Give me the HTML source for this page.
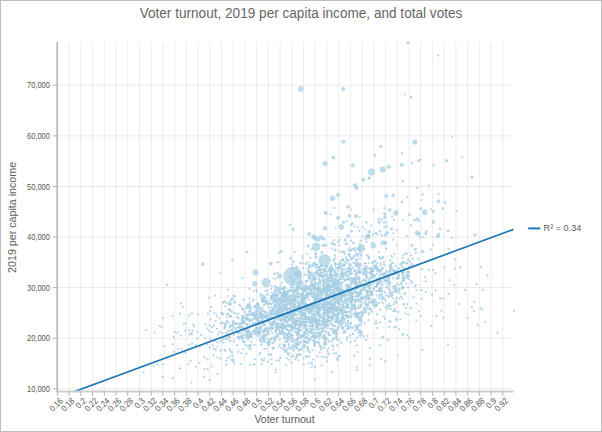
<!DOCTYPE html>
<html><head><meta charset="utf-8"><title>Voter turnout chart</title>
<style>
html,body{margin:0;padding:0;background:#fff;}
.frame{position:relative;width:602px;height:432px;box-sizing:border-box;border:1px solid #bdbdbd;overflow:hidden;background:#fff;}
.frame svg{position:absolute;left:-1px;top:-1px;display:block;}
</style></head><body><div class="frame">
<svg width="602" height="432" viewBox="0 0 602 432">
<path d="M57.4 42.0V391.5M69.1 42.0V391.5M80.8 42.0V391.5M92.6 42.0V391.5M104.3 42.0V391.5M116.0 42.0V391.5M127.7 42.0V391.5M139.4 42.0V391.5M151.2 42.0V391.5M162.9 42.0V391.5M174.6 42.0V391.5M186.3 42.0V391.5M198.0 42.0V391.5M209.8 42.0V391.5M221.5 42.0V391.5M233.2 42.0V391.5M244.9 42.0V391.5M256.6 42.0V391.5M268.4 42.0V391.5M280.1 42.0V391.5M291.8 42.0V391.5M303.5 42.0V391.5M315.2 42.0V391.5M327.0 42.0V391.5M338.7 42.0V391.5M350.4 42.0V391.5M362.1 42.0V391.5M373.8 42.0V391.5M385.6 42.0V391.5M397.3 42.0V391.5M409.0 42.0V391.5M420.7 42.0V391.5M432.4 42.0V391.5M444.2 42.0V391.5M455.9 42.0V391.5M467.6 42.0V391.5M479.3 42.0V391.5M491.0 42.0V391.5M502.8 42.0V391.5" stroke="#000" stroke-opacity="0.075" stroke-width="1" fill="none"/>
<path d="M57.2 388.8H513.7M57.2 338.2H513.7M57.2 287.6H513.7M57.2 237.1H513.7M57.2 186.5H513.7M57.2 135.9H513.7M57.2 85.3H513.7" stroke="#000" stroke-opacity="0.075" stroke-width="1" fill="none"/>
<g fill="#a6cee3" fill-opacity="0.85">
<circle cx="237.0" cy="345.2" r="1.1"/>
<circle cx="234.4" cy="363.0" r="1.1"/>
<circle cx="224.5" cy="350.0" r="1.1"/>
<circle cx="242.5" cy="349.1" r="1.1"/>
<circle cx="226.2" cy="361.0" r="1.1"/>
<circle cx="232.3" cy="355.7" r="1.1"/>
<circle cx="241.3" cy="353.1" r="1.1"/>
<circle cx="223.6" cy="342.6" r="1.1"/>
<circle cx="242.5" cy="338.9" r="1.1"/>
<circle cx="223.7" cy="338.7" r="1.1"/>
<circle cx="233.0" cy="359.8" r="1.1"/>
<circle cx="229.5" cy="349.2" r="1.1"/>
<circle cx="222.4" cy="339.9" r="1.1"/>
<circle cx="243.2" cy="342.0" r="1.1"/>
<circle cx="239.3" cy="339.1" r="1.1"/>
<circle cx="244.9" cy="341.9" r="1.1"/>
<circle cx="225.2" cy="350.8" r="1.1"/>
<circle cx="226.9" cy="339.2" r="1.1"/>
<circle cx="229.7" cy="341.5" r="1.1"/>
<circle cx="242.9" cy="341.1" r="1.1"/>
<circle cx="224.9" cy="350.0" r="1.1"/>
<circle cx="227.7" cy="358.2" r="1.1"/>
<circle cx="230.6" cy="350.8" r="1.1"/>
<circle cx="229.9" cy="356.8" r="1.1"/>
<circle cx="232.0" cy="352.5" r="1.1"/>
<circle cx="230.2" cy="340.5" r="1.1"/>
<circle cx="231.5" cy="359.8" r="1.1"/>
<circle cx="225.5" cy="338.5" r="1.1"/>
<circle cx="234.0" cy="341.3" r="1.1"/>
<circle cx="238.2" cy="351.9" r="1.1"/>
<circle cx="241.8" cy="332.3" r="1.1"/>
<circle cx="238.8" cy="337.5" r="1.1"/>
<circle cx="230.0" cy="325.8" r="1.1"/>
<circle cx="235.8" cy="313.7" r="1.1"/>
<circle cx="243.3" cy="323.2" r="1.1"/>
<circle cx="225.1" cy="327.5" r="1.1"/>
<circle cx="240.4" cy="336.1" r="1.1"/>
<circle cx="235.4" cy="330.0" r="1.1"/>
<circle cx="228.3" cy="331.2" r="1.1"/>
<circle cx="232.9" cy="321.3" r="1.1"/>
<circle cx="230.8" cy="316.1" r="1.1"/>
<circle cx="232.7" cy="326.2" r="1.1"/>
<circle cx="222.5" cy="333.1" r="1.1"/>
<circle cx="232.4" cy="331.1" r="1.1"/>
<circle cx="236.9" cy="317.0" r="1.1"/>
<circle cx="233.9" cy="334.8" r="1.1"/>
<circle cx="226.8" cy="314.6" r="1.1"/>
<circle cx="221.5" cy="322.7" r="1.1"/>
<circle cx="239.0" cy="337.1" r="1.1"/>
<circle cx="243.0" cy="316.2" r="1.1"/>
<circle cx="231.1" cy="330.3" r="1.1"/>
<circle cx="237.5" cy="323.2" r="1.1"/>
<circle cx="227.9" cy="313.7" r="1.1"/>
<circle cx="228.7" cy="322.5" r="1.1"/>
<circle cx="242.2" cy="320.4" r="1.1"/>
<circle cx="240.0" cy="328.5" r="1.1"/>
<circle cx="237.8" cy="327.5" r="1.1"/>
<circle cx="229.5" cy="327.5" r="1.1"/>
<circle cx="243.4" cy="334.4" r="1.1"/>
<circle cx="243.2" cy="322.9" r="1.1"/>
<circle cx="242.1" cy="316.8" r="1.1"/>
<circle cx="244.0" cy="317.6" r="1.1"/>
<circle cx="236.5" cy="328.3" r="1.1"/>
<circle cx="232.3" cy="324.9" r="1.1"/>
<circle cx="243.8" cy="320.9" r="1.1"/>
<circle cx="239.6" cy="327.3" r="1.1"/>
<circle cx="232.0" cy="329.0" r="1.1"/>
<circle cx="242.5" cy="337.3" r="1.1"/>
<circle cx="226.8" cy="322.1" r="1.1"/>
<circle cx="236.2" cy="324.4" r="1.1"/>
<circle cx="230.5" cy="326.5" r="1.1"/>
<circle cx="226.7" cy="320.7" r="1.1"/>
<circle cx="226.6" cy="336.2" r="1.1"/>
<circle cx="237.4" cy="333.1" r="1.1"/>
<circle cx="229.3" cy="337.7" r="1.1"/>
<circle cx="233.9" cy="327.9" r="1.1"/>
<circle cx="237.2" cy="337.6" r="1.1"/>
<circle cx="242.0" cy="321.0" r="1.1"/>
<circle cx="243.9" cy="330.3" r="1.1"/>
<circle cx="232.0" cy="325.1" r="1.1"/>
<circle cx="227.9" cy="335.2" r="1.1"/>
<circle cx="229.7" cy="336.6" r="1.1"/>
<circle cx="243.2" cy="321.7" r="1.1"/>
<circle cx="242.3" cy="318.9" r="1.1"/>
<circle cx="242.9" cy="337.9" r="1.1"/>
<circle cx="241.4" cy="322.9" r="1.1"/>
<circle cx="222.3" cy="313.4" r="1.1"/>
<circle cx="243.5" cy="329.0" r="1.1"/>
<circle cx="226.2" cy="332.9" r="1.1"/>
<circle cx="234.6" cy="324.1" r="1.1"/>
<circle cx="243.7" cy="315.8" r="1.1"/>
<circle cx="226.7" cy="317.0" r="1.1"/>
<circle cx="230.0" cy="317.2" r="1.1"/>
<circle cx="238.3" cy="318.1" r="1.1"/>
<circle cx="224.6" cy="328.2" r="1.1"/>
<circle cx="238.3" cy="332.0" r="1.1"/>
<circle cx="239.7" cy="336.5" r="1.1"/>
<circle cx="224.5" cy="326.5" r="1.1"/>
<circle cx="234.2" cy="321.7" r="1.1"/>
<circle cx="232.8" cy="323.2" r="1.1"/>
<circle cx="242.0" cy="318.4" r="1.1"/>
<circle cx="228.7" cy="337.1" r="1.1"/>
<circle cx="229.2" cy="315.7" r="1.1"/>
<circle cx="227.8" cy="334.4" r="1.1"/>
<circle cx="225.2" cy="324.3" r="1.1"/>
<circle cx="241.4" cy="327.6" r="1.1"/>
<circle cx="239.4" cy="333.2" r="1.1"/>
<circle cx="242.2" cy="319.2" r="1.1"/>
<circle cx="226.6" cy="322.4" r="1.1"/>
<circle cx="238.5" cy="313.7" r="1.1"/>
<circle cx="239.0" cy="327.2" r="1.1"/>
<circle cx="230.7" cy="315.9" r="1.1"/>
<circle cx="223.7" cy="322.8" r="1.1"/>
<circle cx="223.3" cy="314.6" r="1.1"/>
<circle cx="229.4" cy="303.9" r="1.1"/>
<circle cx="222.9" cy="302.7" r="1.1"/>
<circle cx="226.9" cy="303.1" r="1.1"/>
<circle cx="233.8" cy="312.4" r="1.1"/>
<circle cx="243.6" cy="299.7" r="1.1"/>
<circle cx="239.2" cy="304.8" r="1.1"/>
<circle cx="244.9" cy="312.1" r="1.1"/>
<circle cx="227.8" cy="296.0" r="1.1"/>
<circle cx="225.5" cy="306.6" r="1.1"/>
<circle cx="231.1" cy="304.1" r="1.1"/>
<circle cx="229.5" cy="304.9" r="1.1"/>
<circle cx="231.1" cy="300.5" r="1.1"/>
<circle cx="242.2" cy="308.2" r="1.1"/>
<circle cx="229.5" cy="302.1" r="1.1"/>
<circle cx="231.2" cy="311.5" r="1.1"/>
<circle cx="240.3" cy="305.9" r="1.1"/>
<circle cx="228.2" cy="289.7" r="1.1"/>
<circle cx="233.8" cy="296.0" r="1.1"/>
<circle cx="230.2" cy="309.7" r="1.1"/>
<circle cx="260.8" cy="340.6" r="1.1"/>
<circle cx="262.3" cy="359.6" r="1.1"/>
<circle cx="255.1" cy="359.3" r="1.1"/>
<circle cx="268.2" cy="342.8" r="1.1"/>
<circle cx="254.3" cy="344.7" r="1.1"/>
<circle cx="251.2" cy="342.1" r="1.1"/>
<circle cx="250.5" cy="345.2" r="1.1"/>
<circle cx="264.6" cy="358.3" r="1.1"/>
<circle cx="264.2" cy="348.5" r="1.1"/>
<circle cx="259.7" cy="354.2" r="1.1"/>
<circle cx="266.9" cy="339.0" r="1.1"/>
<circle cx="245.4" cy="344.8" r="1.1"/>
<circle cx="267.9" cy="362.0" r="1.1"/>
<circle cx="264.5" cy="341.8" r="1.1"/>
<circle cx="266.2" cy="348.8" r="1.1"/>
<circle cx="248.2" cy="339.7" r="1.1"/>
<circle cx="250.5" cy="345.9" r="1.1"/>
<circle cx="259.5" cy="339.8" r="1.1"/>
<circle cx="260.3" cy="341.3" r="1.1"/>
<circle cx="261.5" cy="359.8" r="1.1"/>
<circle cx="267.8" cy="345.3" r="1.1"/>
<circle cx="246.4" cy="353.5" r="1.1"/>
<circle cx="262.4" cy="341.8" r="1.1"/>
<circle cx="260.1" cy="352.8" r="1.1"/>
<circle cx="263.5" cy="361.3" r="1.1"/>
<circle cx="265.2" cy="325.0" r="1.1"/>
<circle cx="264.4" cy="329.0" r="1.1"/>
<circle cx="255.8" cy="316.0" r="1.1"/>
<circle cx="258.6" cy="320.6" r="1.1"/>
<circle cx="249.3" cy="336.5" r="1.1"/>
<circle cx="257.6" cy="319.3" r="1.1"/>
<circle cx="248.3" cy="337.8" r="1.1"/>
<circle cx="256.2" cy="319.4" r="1.1"/>
<circle cx="253.6" cy="319.2" r="1.1"/>
<circle cx="261.0" cy="317.9" r="1.1"/>
<circle cx="249.4" cy="335.4" r="1.1"/>
<circle cx="260.2" cy="317.1" r="1.1"/>
<circle cx="253.0" cy="314.2" r="1.1"/>
<circle cx="263.1" cy="332.1" r="1.1"/>
<circle cx="254.5" cy="315.9" r="1.1"/>
<circle cx="251.1" cy="334.0" r="1.1"/>
<circle cx="260.2" cy="331.4" r="1.1"/>
<circle cx="263.8" cy="324.1" r="1.1"/>
<circle cx="261.0" cy="337.9" r="1.1"/>
<circle cx="246.9" cy="315.8" r="1.1"/>
<circle cx="245.6" cy="335.6" r="1.1"/>
<circle cx="256.0" cy="323.0" r="1.1"/>
<circle cx="262.4" cy="318.8" r="1.1"/>
<circle cx="262.3" cy="314.0" r="1.1"/>
<circle cx="249.1" cy="330.9" r="1.1"/>
<circle cx="259.2" cy="321.8" r="1.1"/>
<circle cx="263.5" cy="338.1" r="1.1"/>
<circle cx="246.7" cy="318.1" r="1.1"/>
<circle cx="261.9" cy="315.8" r="1.1"/>
<circle cx="250.3" cy="325.2" r="1.1"/>
<circle cx="245.6" cy="319.7" r="1.1"/>
<circle cx="266.2" cy="314.3" r="1.1"/>
<circle cx="263.1" cy="336.7" r="1.1"/>
<circle cx="261.5" cy="320.3" r="1.1"/>
<circle cx="255.8" cy="333.7" r="1.1"/>
<circle cx="264.9" cy="324.6" r="1.1"/>
<circle cx="258.2" cy="332.8" r="1.1"/>
<circle cx="259.1" cy="314.3" r="1.1"/>
<circle cx="256.6" cy="328.7" r="1.1"/>
<circle cx="260.4" cy="331.1" r="1.1"/>
<circle cx="259.6" cy="331.8" r="1.1"/>
<circle cx="260.3" cy="316.7" r="1.1"/>
<circle cx="262.2" cy="326.0" r="1.1"/>
<circle cx="266.1" cy="334.6" r="1.1"/>
<circle cx="253.7" cy="315.5" r="1.1"/>
<circle cx="263.6" cy="315.6" r="1.1"/>
<circle cx="267.6" cy="314.9" r="1.1"/>
<circle cx="259.4" cy="333.4" r="1.1"/>
<circle cx="263.7" cy="322.6" r="1.1"/>
<circle cx="263.6" cy="324.2" r="1.1"/>
<circle cx="264.9" cy="334.8" r="1.1"/>
<circle cx="260.4" cy="333.8" r="1.1"/>
<circle cx="248.7" cy="330.8" r="1.1"/>
<circle cx="245.0" cy="323.0" r="1.1"/>
<circle cx="258.1" cy="319.3" r="1.1"/>
<circle cx="258.7" cy="322.5" r="1.1"/>
<circle cx="246.1" cy="336.1" r="1.1"/>
<circle cx="252.7" cy="324.7" r="1.1"/>
<circle cx="266.7" cy="329.7" r="1.1"/>
<circle cx="259.8" cy="328.4" r="1.1"/>
<circle cx="247.3" cy="324.1" r="1.1"/>
<circle cx="251.4" cy="333.3" r="1.1"/>
<circle cx="259.7" cy="313.0" r="1.1"/>
<circle cx="254.2" cy="314.8" r="1.1"/>
<circle cx="254.6" cy="333.6" r="1.1"/>
<circle cx="254.3" cy="323.0" r="1.1"/>
<circle cx="249.7" cy="333.0" r="1.1"/>
<circle cx="258.5" cy="321.5" r="1.1"/>
<circle cx="258.8" cy="317.8" r="1.1"/>
<circle cx="255.1" cy="330.3" r="1.1"/>
<circle cx="258.2" cy="324.3" r="1.1"/>
<circle cx="268.3" cy="315.2" r="1.1"/>
<circle cx="254.7" cy="331.1" r="1.1"/>
<circle cx="255.9" cy="327.1" r="1.1"/>
<circle cx="246.6" cy="314.5" r="1.1"/>
<circle cx="247.9" cy="320.0" r="1.1"/>
<circle cx="262.3" cy="321.0" r="1.1"/>
<circle cx="246.5" cy="334.3" r="1.1"/>
<circle cx="261.8" cy="321.7" r="1.1"/>
<circle cx="258.1" cy="321.0" r="1.1"/>
<circle cx="268.3" cy="333.2" r="1.1"/>
<circle cx="253.0" cy="324.2" r="1.1"/>
<circle cx="266.4" cy="317.1" r="1.1"/>
<circle cx="254.8" cy="317.9" r="1.1"/>
<circle cx="245.3" cy="331.2" r="1.1"/>
<circle cx="249.1" cy="335.7" r="1.1"/>
<circle cx="259.2" cy="324.4" r="1.1"/>
<circle cx="254.6" cy="313.3" r="1.1"/>
<circle cx="257.2" cy="331.4" r="1.1"/>
<circle cx="252.8" cy="319.9" r="1.1"/>
<circle cx="264.4" cy="317.3" r="1.1"/>
<circle cx="264.1" cy="330.9" r="1.1"/>
<circle cx="258.2" cy="315.9" r="1.1"/>
<circle cx="253.1" cy="323.8" r="1.1"/>
<circle cx="256.4" cy="313.3" r="1.1"/>
<circle cx="262.2" cy="316.4" r="1.1"/>
<circle cx="256.2" cy="332.1" r="1.1"/>
<circle cx="251.7" cy="336.8" r="1.1"/>
<circle cx="248.3" cy="314.7" r="1.1"/>
<circle cx="258.3" cy="321.7" r="1.1"/>
<circle cx="254.6" cy="334.3" r="1.1"/>
<circle cx="258.0" cy="332.9" r="1.1"/>
<circle cx="261.6" cy="315.8" r="1.1"/>
<circle cx="263.4" cy="323.7" r="1.1"/>
<circle cx="260.8" cy="337.3" r="1.1"/>
<circle cx="245.4" cy="317.8" r="1.1"/>
<circle cx="257.1" cy="318.0" r="1.1"/>
<circle cx="246.6" cy="319.1" r="1.1"/>
<circle cx="258.3" cy="332.1" r="1.1"/>
<circle cx="247.9" cy="314.9" r="1.1"/>
<circle cx="253.4" cy="332.0" r="1.1"/>
<circle cx="257.4" cy="328.2" r="1.1"/>
<circle cx="249.7" cy="314.0" r="1.1"/>
<circle cx="258.4" cy="329.7" r="1.1"/>
<circle cx="259.7" cy="326.9" r="1.1"/>
<circle cx="254.3" cy="330.4" r="1.1"/>
<circle cx="263.9" cy="332.3" r="1.1"/>
<circle cx="250.5" cy="337.5" r="1.1"/>
<circle cx="250.9" cy="315.3" r="1.1"/>
<circle cx="263.4" cy="324.6" r="1.1"/>
<circle cx="261.1" cy="329.0" r="1.1"/>
<circle cx="247.0" cy="331.9" r="1.1"/>
<circle cx="256.1" cy="316.8" r="1.1"/>
<circle cx="255.5" cy="315.4" r="1.1"/>
<circle cx="255.4" cy="329.1" r="1.1"/>
<circle cx="247.2" cy="331.6" r="1.1"/>
<circle cx="246.5" cy="337.4" r="1.1"/>
<circle cx="257.0" cy="327.4" r="1.1"/>
<circle cx="266.4" cy="321.1" r="1.1"/>
<circle cx="258.3" cy="330.7" r="1.1"/>
<circle cx="263.0" cy="318.5" r="1.1"/>
<circle cx="257.3" cy="319.8" r="1.1"/>
<circle cx="249.7" cy="321.4" r="1.1"/>
<circle cx="260.9" cy="314.2" r="1.1"/>
<circle cx="257.3" cy="314.0" r="1.1"/>
<circle cx="256.4" cy="313.3" r="1.1"/>
<circle cx="252.5" cy="331.1" r="1.1"/>
<circle cx="266.0" cy="317.9" r="1.1"/>
<circle cx="261.6" cy="321.0" r="1.1"/>
<circle cx="260.9" cy="313.5" r="1.1"/>
<circle cx="247.3" cy="331.9" r="1.1"/>
<circle cx="252.2" cy="314.9" r="1.1"/>
<circle cx="261.0" cy="327.4" r="1.1"/>
<circle cx="252.9" cy="299.5" r="1.1"/>
<circle cx="265.6" cy="298.4" r="1.1"/>
<circle cx="253.2" cy="300.7" r="1.1"/>
<circle cx="255.1" cy="305.9" r="1.1"/>
<circle cx="264.1" cy="296.1" r="1.1"/>
<circle cx="262.8" cy="301.1" r="1.1"/>
<circle cx="264.4" cy="304.8" r="1.1"/>
<circle cx="268.1" cy="294.1" r="1.1"/>
<circle cx="267.0" cy="303.6" r="1.1"/>
<circle cx="261.7" cy="299.5" r="1.1"/>
<circle cx="266.4" cy="300.9" r="1.1"/>
<circle cx="265.5" cy="301.0" r="1.1"/>
<circle cx="257.8" cy="308.1" r="1.1"/>
<circle cx="263.2" cy="295.7" r="1.1"/>
<circle cx="266.7" cy="312.3" r="1.1"/>
<circle cx="260.5" cy="310.1" r="1.1"/>
<circle cx="263.9" cy="305.5" r="1.1"/>
<circle cx="257.0" cy="303.5" r="1.1"/>
<circle cx="254.3" cy="307.2" r="1.1"/>
<circle cx="248.3" cy="306.9" r="1.1"/>
<circle cx="258.2" cy="303.2" r="1.1"/>
<circle cx="266.9" cy="304.2" r="1.1"/>
<circle cx="253.0" cy="312.9" r="1.1"/>
<circle cx="260.9" cy="294.2" r="1.1"/>
<circle cx="258.1" cy="311.0" r="1.1"/>
<circle cx="249.6" cy="288.6" r="1.1"/>
<circle cx="264.7" cy="312.1" r="1.1"/>
<circle cx="263.4" cy="298.4" r="1.1"/>
<circle cx="247.3" cy="307.4" r="1.1"/>
<circle cx="251.8" cy="312.9" r="1.1"/>
<circle cx="250.5" cy="310.4" r="1.1"/>
<circle cx="265.6" cy="291.2" r="1.1"/>
<circle cx="257.0" cy="291.9" r="1.1"/>
<circle cx="262.3" cy="308.0" r="1.1"/>
<circle cx="265.4" cy="301.3" r="1.1"/>
<circle cx="256.4" cy="289.8" r="1.1"/>
<circle cx="260.4" cy="296.1" r="1.1"/>
<circle cx="263.0" cy="300.6" r="1.1"/>
<circle cx="262.0" cy="297.8" r="1.1"/>
<circle cx="267.2" cy="290.6" r="1.1"/>
<circle cx="261.9" cy="311.7" r="1.1"/>
<circle cx="253.7" cy="291.3" r="1.1"/>
<circle cx="255.1" cy="306.9" r="1.1"/>
<circle cx="266.0" cy="302.2" r="1.1"/>
<circle cx="265.9" cy="302.9" r="1.1"/>
<circle cx="258.9" cy="311.7" r="1.1"/>
<circle cx="264.7" cy="297.7" r="1.1"/>
<circle cx="259.9" cy="307.9" r="1.1"/>
<circle cx="266.8" cy="294.8" r="1.1"/>
<circle cx="246.3" cy="308.4" r="1.1"/>
<circle cx="248.4" cy="305.4" r="1.1"/>
<circle cx="249.2" cy="307.4" r="1.1"/>
<circle cx="256.5" cy="308.6" r="1.1"/>
<circle cx="257.5" cy="308.9" r="1.1"/>
<circle cx="258.5" cy="305.2" r="1.1"/>
<circle cx="260.5" cy="309.1" r="1.1"/>
<circle cx="263.8" cy="301.0" r="1.1"/>
<circle cx="249.9" cy="302.7" r="1.1"/>
<circle cx="249.5" cy="305.4" r="1.1"/>
<circle cx="249.3" cy="298.6" r="1.1"/>
<circle cx="268.7" cy="354.3" r="1.1"/>
<circle cx="279.5" cy="340.0" r="1.1"/>
<circle cx="270.4" cy="339.4" r="1.1"/>
<circle cx="268.9" cy="344.3" r="1.1"/>
<circle cx="275.7" cy="339.6" r="1.1"/>
<circle cx="274.4" cy="342.1" r="1.1"/>
<circle cx="285.1" cy="341.4" r="1.1"/>
<circle cx="281.6" cy="347.9" r="1.1"/>
<circle cx="291.3" cy="362.7" r="1.1"/>
<circle cx="272.8" cy="349.0" r="1.1"/>
<circle cx="286.2" cy="341.9" r="1.1"/>
<circle cx="287.1" cy="340.0" r="1.1"/>
<circle cx="288.2" cy="355.0" r="1.1"/>
<circle cx="289.3" cy="353.5" r="1.1"/>
<circle cx="283.9" cy="349.0" r="1.1"/>
<circle cx="271.3" cy="338.7" r="1.1"/>
<circle cx="284.7" cy="345.4" r="1.1"/>
<circle cx="286.8" cy="358.3" r="1.1"/>
<circle cx="269.6" cy="341.5" r="1.1"/>
<circle cx="271.5" cy="359.2" r="1.1"/>
<circle cx="274.0" cy="347.9" r="1.1"/>
<circle cx="289.3" cy="359.8" r="1.1"/>
<circle cx="269.6" cy="342.2" r="1.1"/>
<circle cx="287.4" cy="353.2" r="1.1"/>
<circle cx="283.4" cy="344.7" r="1.1"/>
<circle cx="291.5" cy="357.1" r="1.1"/>
<circle cx="278.4" cy="346.8" r="1.1"/>
<circle cx="269.5" cy="340.0" r="1.1"/>
<circle cx="272.5" cy="342.8" r="1.1"/>
<circle cx="288.7" cy="345.8" r="1.1"/>
<circle cx="272.3" cy="347.8" r="1.1"/>
<circle cx="289.8" cy="348.1" r="1.1"/>
<circle cx="289.2" cy="344.1" r="1.1"/>
<circle cx="290.2" cy="339.7" r="1.1"/>
<circle cx="280.3" cy="357.8" r="1.1"/>
<circle cx="279.1" cy="360.4" r="1.1"/>
<circle cx="272.5" cy="342.8" r="1.1"/>
<circle cx="269.7" cy="344.5" r="1.1"/>
<circle cx="284.2" cy="349.7" r="1.1"/>
<circle cx="276.5" cy="360.5" r="1.1"/>
<circle cx="285.0" cy="351.8" r="1.1"/>
<circle cx="279.7" cy="344.7" r="1.1"/>
<circle cx="287.9" cy="341.6" r="1.1"/>
<circle cx="288.1" cy="348.4" r="1.1"/>
<circle cx="285.2" cy="346.0" r="1.1"/>
<circle cx="291.0" cy="348.8" r="1.1"/>
<circle cx="290.3" cy="318.9" r="1.1"/>
<circle cx="269.6" cy="313.8" r="1.1"/>
<circle cx="287.2" cy="315.5" r="1.1"/>
<circle cx="282.4" cy="324.2" r="1.1"/>
<circle cx="279.9" cy="331.1" r="1.1"/>
<circle cx="289.1" cy="333.4" r="1.1"/>
<circle cx="289.1" cy="336.5" r="1.1"/>
<circle cx="272.5" cy="322.1" r="1.1"/>
<circle cx="283.9" cy="333.5" r="1.1"/>
<circle cx="291.1" cy="326.6" r="1.1"/>
<circle cx="283.0" cy="328.9" r="1.1"/>
<circle cx="286.3" cy="317.9" r="1.1"/>
<circle cx="280.7" cy="333.6" r="1.1"/>
<circle cx="283.5" cy="313.4" r="1.1"/>
<circle cx="290.9" cy="316.1" r="1.1"/>
<circle cx="288.0" cy="326.2" r="1.1"/>
<circle cx="279.6" cy="317.5" r="1.1"/>
<circle cx="286.4" cy="335.9" r="1.1"/>
<circle cx="272.7" cy="328.8" r="1.1"/>
<circle cx="276.6" cy="314.4" r="1.1"/>
<circle cx="291.6" cy="317.1" r="1.1"/>
<circle cx="277.6" cy="327.9" r="1.1"/>
<circle cx="276.2" cy="330.2" r="1.1"/>
<circle cx="275.1" cy="322.6" r="1.1"/>
<circle cx="279.8" cy="327.1" r="1.1"/>
<circle cx="286.0" cy="320.8" r="1.1"/>
<circle cx="288.2" cy="314.3" r="1.1"/>
<circle cx="274.4" cy="324.1" r="1.1"/>
<circle cx="270.6" cy="325.5" r="1.1"/>
<circle cx="282.4" cy="322.8" r="1.1"/>
<circle cx="289.1" cy="313.5" r="1.1"/>
<circle cx="289.9" cy="313.3" r="1.1"/>
<circle cx="275.6" cy="335.9" r="1.1"/>
<circle cx="271.3" cy="314.7" r="1.1"/>
<circle cx="284.3" cy="315.9" r="1.1"/>
<circle cx="290.9" cy="327.0" r="1.1"/>
<circle cx="275.0" cy="337.5" r="1.1"/>
<circle cx="272.0" cy="337.9" r="1.1"/>
<circle cx="286.4" cy="326.5" r="1.1"/>
<circle cx="274.1" cy="314.6" r="1.1"/>
<circle cx="283.6" cy="331.5" r="1.1"/>
<circle cx="277.3" cy="327.1" r="1.1"/>
<circle cx="286.6" cy="317.6" r="1.1"/>
<circle cx="281.7" cy="325.2" r="1.1"/>
<circle cx="287.7" cy="336.7" r="1.1"/>
<circle cx="286.2" cy="334.3" r="1.1"/>
<circle cx="286.8" cy="321.7" r="1.1"/>
<circle cx="277.8" cy="324.3" r="1.1"/>
<circle cx="289.1" cy="337.9" r="1.1"/>
<circle cx="275.0" cy="337.1" r="1.1"/>
<circle cx="281.0" cy="325.8" r="1.1"/>
<circle cx="278.7" cy="334.4" r="1.1"/>
<circle cx="288.5" cy="326.5" r="1.1"/>
<circle cx="275.1" cy="331.1" r="1.1"/>
<circle cx="284.5" cy="317.2" r="1.1"/>
<circle cx="285.9" cy="328.2" r="1.1"/>
<circle cx="276.7" cy="329.5" r="1.1"/>
<circle cx="269.2" cy="319.6" r="1.1"/>
<circle cx="277.0" cy="313.3" r="1.1"/>
<circle cx="268.7" cy="320.2" r="1.1"/>
<circle cx="276.1" cy="316.3" r="1.1"/>
<circle cx="275.7" cy="327.6" r="1.1"/>
<circle cx="275.8" cy="313.8" r="1.1"/>
<circle cx="278.2" cy="318.6" r="1.1"/>
<circle cx="274.0" cy="321.3" r="1.1"/>
<circle cx="290.2" cy="317.3" r="1.1"/>
<circle cx="281.0" cy="327.3" r="1.1"/>
<circle cx="288.2" cy="325.3" r="1.1"/>
<circle cx="272.5" cy="316.5" r="1.1"/>
<circle cx="286.6" cy="322.6" r="1.1"/>
<circle cx="275.3" cy="314.1" r="1.1"/>
<circle cx="277.3" cy="325.3" r="1.1"/>
<circle cx="276.7" cy="323.4" r="1.1"/>
<circle cx="279.9" cy="318.7" r="1.1"/>
<circle cx="287.9" cy="334.8" r="1.1"/>
<circle cx="283.5" cy="327.7" r="1.1"/>
<circle cx="283.3" cy="316.3" r="1.1"/>
<circle cx="287.4" cy="329.9" r="1.1"/>
<circle cx="277.7" cy="334.9" r="1.1"/>
<circle cx="272.4" cy="333.4" r="1.1"/>
<circle cx="279.0" cy="329.9" r="1.1"/>
<circle cx="287.0" cy="329.3" r="1.1"/>
<circle cx="291.5" cy="313.7" r="1.1"/>
<circle cx="270.8" cy="314.3" r="1.1"/>
<circle cx="281.2" cy="320.6" r="1.1"/>
<circle cx="287.8" cy="315.2" r="1.1"/>
<circle cx="289.9" cy="319.0" r="1.1"/>
<circle cx="286.9" cy="325.9" r="1.1"/>
<circle cx="276.3" cy="328.3" r="1.1"/>
<circle cx="277.9" cy="326.9" r="1.1"/>
<circle cx="273.3" cy="314.1" r="1.1"/>
<circle cx="291.3" cy="316.5" r="1.1"/>
<circle cx="290.6" cy="334.4" r="1.1"/>
<circle cx="274.1" cy="321.4" r="1.1"/>
<circle cx="287.7" cy="321.6" r="1.1"/>
<circle cx="283.5" cy="318.9" r="1.1"/>
<circle cx="288.9" cy="332.2" r="1.1"/>
<circle cx="275.3" cy="325.7" r="1.1"/>
<circle cx="280.7" cy="321.2" r="1.1"/>
<circle cx="285.4" cy="319.3" r="1.1"/>
<circle cx="270.2" cy="328.8" r="1.1"/>
<circle cx="281.0" cy="314.7" r="1.1"/>
<circle cx="270.8" cy="331.1" r="1.1"/>
<circle cx="290.3" cy="325.6" r="1.1"/>
<circle cx="284.0" cy="338.0" r="1.1"/>
<circle cx="291.1" cy="313.6" r="1.1"/>
<circle cx="277.8" cy="336.4" r="1.1"/>
<circle cx="287.8" cy="313.1" r="1.1"/>
<circle cx="268.7" cy="328.5" r="1.1"/>
<circle cx="283.1" cy="320.0" r="1.1"/>
<circle cx="277.4" cy="336.9" r="1.1"/>
<circle cx="272.6" cy="325.1" r="1.1"/>
<circle cx="287.8" cy="330.1" r="1.1"/>
<circle cx="268.7" cy="320.5" r="1.1"/>
<circle cx="289.8" cy="330.4" r="1.1"/>
<circle cx="284.1" cy="320.1" r="1.1"/>
<circle cx="272.0" cy="318.0" r="1.1"/>
<circle cx="270.8" cy="327.8" r="1.1"/>
<circle cx="276.3" cy="332.7" r="1.1"/>
<circle cx="287.9" cy="323.9" r="1.1"/>
<circle cx="291.5" cy="325.5" r="1.1"/>
<circle cx="281.9" cy="333.7" r="1.1"/>
<circle cx="289.6" cy="320.1" r="1.1"/>
<circle cx="271.0" cy="317.1" r="1.1"/>
<circle cx="291.3" cy="315.8" r="1.1"/>
<circle cx="289.4" cy="315.3" r="1.1"/>
<circle cx="290.6" cy="320.3" r="1.1"/>
<circle cx="277.4" cy="328.7" r="1.1"/>
<circle cx="289.9" cy="330.7" r="1.1"/>
<circle cx="285.0" cy="321.3" r="1.1"/>
<circle cx="281.5" cy="320.1" r="1.1"/>
<circle cx="282.9" cy="318.9" r="1.1"/>
<circle cx="283.2" cy="332.2" r="1.1"/>
<circle cx="284.2" cy="316.2" r="1.1"/>
<circle cx="281.5" cy="313.4" r="1.1"/>
<circle cx="278.0" cy="324.2" r="1.1"/>
<circle cx="291.0" cy="336.3" r="1.1"/>
<circle cx="284.5" cy="333.4" r="1.1"/>
<circle cx="285.4" cy="329.0" r="1.1"/>
<circle cx="290.1" cy="315.1" r="1.1"/>
<circle cx="282.2" cy="319.4" r="1.1"/>
<circle cx="280.8" cy="315.1" r="1.1"/>
<circle cx="278.4" cy="314.4" r="1.1"/>
<circle cx="284.2" cy="327.4" r="1.1"/>
<circle cx="277.4" cy="320.1" r="1.1"/>
<circle cx="291.5" cy="328.1" r="1.1"/>
<circle cx="269.2" cy="317.3" r="1.1"/>
<circle cx="283.7" cy="335.6" r="1.1"/>
<circle cx="283.8" cy="323.5" r="1.1"/>
<circle cx="283.1" cy="315.4" r="1.1"/>
<circle cx="287.8" cy="317.7" r="1.1"/>
<circle cx="280.4" cy="316.6" r="1.1"/>
<circle cx="279.2" cy="327.3" r="1.1"/>
<circle cx="285.3" cy="326.2" r="1.1"/>
<circle cx="283.5" cy="326.1" r="1.1"/>
<circle cx="288.7" cy="320.2" r="1.1"/>
<circle cx="280.4" cy="320.4" r="1.1"/>
<circle cx="286.9" cy="333.7" r="1.1"/>
<circle cx="273.3" cy="322.4" r="1.1"/>
<circle cx="276.5" cy="315.9" r="1.1"/>
<circle cx="270.8" cy="328.0" r="1.1"/>
<circle cx="283.0" cy="325.9" r="1.1"/>
<circle cx="291.3" cy="298.4" r="1.1"/>
<circle cx="274.7" cy="305.0" r="1.1"/>
<circle cx="275.2" cy="294.4" r="1.1"/>
<circle cx="275.1" cy="300.6" r="1.1"/>
<circle cx="281.3" cy="297.7" r="1.1"/>
<circle cx="288.7" cy="297.5" r="1.1"/>
<circle cx="278.9" cy="299.7" r="1.1"/>
<circle cx="281.5" cy="299.7" r="1.1"/>
<circle cx="286.0" cy="298.0" r="1.1"/>
<circle cx="282.2" cy="293.5" r="1.1"/>
<circle cx="284.7" cy="292.5" r="1.1"/>
<circle cx="277.1" cy="303.0" r="1.1"/>
<circle cx="274.9" cy="290.0" r="1.1"/>
<circle cx="290.2" cy="310.9" r="1.1"/>
<circle cx="277.0" cy="301.8" r="1.1"/>
<circle cx="287.7" cy="312.8" r="1.1"/>
<circle cx="286.9" cy="309.8" r="1.1"/>
<circle cx="276.1" cy="287.7" r="1.1"/>
<circle cx="284.1" cy="304.9" r="1.1"/>
<circle cx="281.3" cy="305.9" r="1.1"/>
<circle cx="279.5" cy="305.9" r="1.1"/>
<circle cx="281.8" cy="289.4" r="1.1"/>
<circle cx="275.4" cy="291.5" r="1.1"/>
<circle cx="277.8" cy="303.5" r="1.1"/>
<circle cx="277.9" cy="294.9" r="1.1"/>
<circle cx="285.8" cy="296.4" r="1.1"/>
<circle cx="284.8" cy="308.5" r="1.1"/>
<circle cx="286.6" cy="294.5" r="1.1"/>
<circle cx="278.1" cy="309.6" r="1.1"/>
<circle cx="289.1" cy="301.1" r="1.1"/>
<circle cx="282.7" cy="295.1" r="1.1"/>
<circle cx="280.6" cy="300.9" r="1.1"/>
<circle cx="277.8" cy="305.9" r="1.1"/>
<circle cx="288.0" cy="303.9" r="1.1"/>
<circle cx="276.9" cy="294.4" r="1.1"/>
<circle cx="270.9" cy="299.2" r="1.1"/>
<circle cx="271.0" cy="296.8" r="1.1"/>
<circle cx="277.0" cy="295.6" r="1.1"/>
<circle cx="277.4" cy="294.9" r="1.1"/>
<circle cx="276.4" cy="302.4" r="1.1"/>
<circle cx="285.6" cy="298.3" r="1.1"/>
<circle cx="289.3" cy="290.1" r="1.1"/>
<circle cx="288.2" cy="294.5" r="1.1"/>
<circle cx="281.4" cy="296.6" r="1.1"/>
<circle cx="269.2" cy="303.5" r="1.1"/>
<circle cx="268.6" cy="301.0" r="1.1"/>
<circle cx="283.4" cy="296.5" r="1.1"/>
<circle cx="283.5" cy="297.4" r="1.1"/>
<circle cx="271.2" cy="289.0" r="1.1"/>
<circle cx="277.6" cy="311.3" r="1.1"/>
<circle cx="286.9" cy="306.2" r="1.1"/>
<circle cx="290.8" cy="304.2" r="1.1"/>
<circle cx="289.1" cy="302.4" r="1.1"/>
<circle cx="273.0" cy="294.2" r="1.1"/>
<circle cx="280.8" cy="298.9" r="1.1"/>
<circle cx="272.5" cy="311.2" r="1.1"/>
<circle cx="279.4" cy="298.5" r="1.1"/>
<circle cx="271.5" cy="304.1" r="1.1"/>
<circle cx="290.6" cy="290.8" r="1.1"/>
<circle cx="290.3" cy="311.5" r="1.1"/>
<circle cx="283.6" cy="301.8" r="1.1"/>
<circle cx="288.5" cy="308.8" r="1.1"/>
<circle cx="286.4" cy="308.9" r="1.1"/>
<circle cx="277.0" cy="294.5" r="1.1"/>
<circle cx="287.5" cy="308.5" r="1.1"/>
<circle cx="278.1" cy="291.9" r="1.1"/>
<circle cx="273.9" cy="294.9" r="1.1"/>
<circle cx="280.6" cy="303.0" r="1.1"/>
<circle cx="279.7" cy="301.1" r="1.1"/>
<circle cx="275.0" cy="295.5" r="1.1"/>
<circle cx="270.0" cy="312.8" r="1.1"/>
<circle cx="282.2" cy="296.9" r="1.1"/>
<circle cx="284.7" cy="295.5" r="1.1"/>
<circle cx="286.6" cy="310.4" r="1.1"/>
<circle cx="285.9" cy="310.1" r="1.1"/>
<circle cx="290.0" cy="307.6" r="1.1"/>
<circle cx="283.3" cy="311.1" r="1.1"/>
<circle cx="278.6" cy="288.1" r="1.1"/>
<circle cx="274.9" cy="291.4" r="1.1"/>
<circle cx="275.1" cy="291.7" r="1.1"/>
<circle cx="278.4" cy="297.5" r="1.1"/>
<circle cx="279.2" cy="303.3" r="1.1"/>
<circle cx="284.2" cy="288.2" r="1.1"/>
<circle cx="275.9" cy="300.3" r="1.1"/>
<circle cx="286.4" cy="303.3" r="1.1"/>
<circle cx="284.0" cy="290.6" r="1.1"/>
<circle cx="288.0" cy="291.9" r="1.1"/>
<circle cx="273.2" cy="309.9" r="1.1"/>
<circle cx="290.8" cy="300.6" r="1.1"/>
<circle cx="287.6" cy="309.7" r="1.1"/>
<circle cx="277.2" cy="289.7" r="1.1"/>
<circle cx="285.7" cy="288.1" r="1.1"/>
<circle cx="284.4" cy="297.4" r="1.1"/>
<circle cx="290.3" cy="302.7" r="1.1"/>
<circle cx="280.6" cy="305.9" r="1.1"/>
<circle cx="277.9" cy="309.7" r="1.1"/>
<circle cx="278.2" cy="300.3" r="1.1"/>
<circle cx="279.5" cy="312.0" r="1.1"/>
<circle cx="283.1" cy="293.2" r="1.1"/>
<circle cx="274.8" cy="300.8" r="1.1"/>
<circle cx="287.7" cy="297.1" r="1.1"/>
<circle cx="285.3" cy="306.6" r="1.1"/>
<circle cx="282.5" cy="304.3" r="1.1"/>
<circle cx="288.3" cy="299.5" r="1.1"/>
<circle cx="284.3" cy="295.3" r="1.1"/>
<circle cx="280.3" cy="309.0" r="1.1"/>
<circle cx="276.2" cy="299.5" r="1.1"/>
<circle cx="284.8" cy="293.5" r="1.1"/>
<circle cx="283.7" cy="308.2" r="1.1"/>
<circle cx="275.4" cy="306.2" r="1.1"/>
<circle cx="275.2" cy="307.9" r="1.1"/>
<circle cx="268.6" cy="307.5" r="1.1"/>
<circle cx="283.2" cy="289.2" r="1.1"/>
<circle cx="287.3" cy="312.5" r="1.1"/>
<circle cx="277.0" cy="304.4" r="1.1"/>
<circle cx="273.7" cy="308.5" r="1.1"/>
<circle cx="275.1" cy="304.3" r="1.1"/>
<circle cx="279.2" cy="309.1" r="1.1"/>
<circle cx="291.6" cy="290.3" r="1.1"/>
<circle cx="274.7" cy="305.3" r="1.1"/>
<circle cx="278.1" cy="297.7" r="1.1"/>
<circle cx="287.4" cy="304.6" r="1.1"/>
<circle cx="280.4" cy="309.3" r="1.1"/>
<circle cx="282.2" cy="295.3" r="1.1"/>
<circle cx="279.7" cy="289.2" r="1.1"/>
<circle cx="279.5" cy="304.9" r="1.1"/>
<circle cx="286.5" cy="291.8" r="1.1"/>
<circle cx="283.2" cy="297.7" r="1.1"/>
<circle cx="272.9" cy="308.1" r="1.1"/>
<circle cx="290.2" cy="291.5" r="1.1"/>
<circle cx="287.0" cy="300.2" r="1.1"/>
<circle cx="278.8" cy="312.0" r="1.1"/>
<circle cx="284.9" cy="309.7" r="1.1"/>
<circle cx="278.7" cy="299.7" r="1.1"/>
<circle cx="270.8" cy="307.2" r="1.1"/>
<circle cx="287.6" cy="308.7" r="1.1"/>
<circle cx="287.4" cy="300.0" r="1.1"/>
<circle cx="274.7" cy="296.5" r="1.1"/>
<circle cx="288.9" cy="299.9" r="1.1"/>
<circle cx="287.1" cy="312.2" r="1.1"/>
<circle cx="283.1" cy="311.4" r="1.1"/>
<circle cx="278.2" cy="308.9" r="1.1"/>
<circle cx="282.8" cy="299.8" r="1.1"/>
<circle cx="284.2" cy="294.9" r="1.1"/>
<circle cx="276.7" cy="300.1" r="1.1"/>
<circle cx="284.0" cy="310.8" r="1.1"/>
<circle cx="289.0" cy="309.0" r="1.1"/>
<circle cx="284.0" cy="295.0" r="1.1"/>
<circle cx="284.1" cy="291.6" r="1.1"/>
<circle cx="270.3" cy="310.1" r="1.1"/>
<circle cx="291.2" cy="287.9" r="1.1"/>
<circle cx="280.5" cy="292.3" r="1.1"/>
<circle cx="271.9" cy="311.2" r="1.1"/>
<circle cx="283.9" cy="291.1" r="1.1"/>
<circle cx="280.2" cy="312.1" r="1.1"/>
<circle cx="276.1" cy="307.0" r="1.1"/>
<circle cx="284.0" cy="301.5" r="1.1"/>
<circle cx="271.1" cy="303.7" r="1.1"/>
<circle cx="271.0" cy="295.9" r="1.1"/>
<circle cx="289.6" cy="304.0" r="1.1"/>
<circle cx="281.2" cy="309.9" r="1.1"/>
<circle cx="281.9" cy="311.4" r="1.1"/>
<circle cx="285.6" cy="304.5" r="1.1"/>
<circle cx="290.1" cy="304.9" r="1.1"/>
<circle cx="272.3" cy="297.2" r="1.1"/>
<circle cx="291.6" cy="309.4" r="1.1"/>
<circle cx="282.4" cy="309.1" r="1.1"/>
<circle cx="279.6" cy="307.1" r="1.1"/>
<circle cx="284.5" cy="310.1" r="1.1"/>
<circle cx="274.7" cy="300.9" r="1.1"/>
<circle cx="285.2" cy="301.0" r="1.1"/>
<circle cx="286.5" cy="302.0" r="1.1"/>
<circle cx="291.2" cy="300.6" r="1.1"/>
<circle cx="283.2" cy="307.5" r="1.1"/>
<circle cx="278.3" cy="307.4" r="1.1"/>
<circle cx="275.2" cy="312.5" r="1.1"/>
<circle cx="271.6" cy="292.5" r="1.1"/>
<circle cx="283.1" cy="299.8" r="1.1"/>
<circle cx="305.8" cy="356.1" r="1.1"/>
<circle cx="291.8" cy="341.7" r="1.1"/>
<circle cx="296.9" cy="355.1" r="1.1"/>
<circle cx="306.3" cy="357.0" r="1.1"/>
<circle cx="295.5" cy="359.2" r="1.1"/>
<circle cx="303.6" cy="344.5" r="1.1"/>
<circle cx="315.1" cy="344.7" r="1.1"/>
<circle cx="297.2" cy="343.8" r="1.1"/>
<circle cx="299.9" cy="342.8" r="1.1"/>
<circle cx="309.3" cy="356.0" r="1.1"/>
<circle cx="298.9" cy="344.8" r="1.1"/>
<circle cx="309.4" cy="352.1" r="1.1"/>
<circle cx="308.0" cy="356.8" r="1.1"/>
<circle cx="297.3" cy="341.7" r="1.1"/>
<circle cx="298.4" cy="350.3" r="1.1"/>
<circle cx="303.5" cy="358.6" r="1.1"/>
<circle cx="293.8" cy="350.7" r="1.1"/>
<circle cx="296.3" cy="356.9" r="1.1"/>
<circle cx="298.4" cy="360.5" r="1.1"/>
<circle cx="295.5" cy="343.3" r="1.1"/>
<circle cx="310.7" cy="339.2" r="1.1"/>
<circle cx="296.3" cy="344.0" r="1.1"/>
<circle cx="305.0" cy="341.3" r="1.1"/>
<circle cx="307.0" cy="346.8" r="1.1"/>
<circle cx="301.0" cy="349.7" r="1.1"/>
<circle cx="314.1" cy="345.7" r="1.1"/>
<circle cx="293.6" cy="349.3" r="1.1"/>
<circle cx="309.7" cy="340.8" r="1.1"/>
<circle cx="305.1" cy="345.3" r="1.1"/>
<circle cx="296.8" cy="344.6" r="1.1"/>
<circle cx="298.8" cy="338.7" r="1.1"/>
<circle cx="296.8" cy="347.7" r="1.1"/>
<circle cx="296.9" cy="357.3" r="1.1"/>
<circle cx="297.0" cy="340.0" r="1.1"/>
<circle cx="312.5" cy="350.1" r="1.1"/>
<circle cx="295.6" cy="347.8" r="1.1"/>
<circle cx="308.0" cy="343.1" r="1.1"/>
<circle cx="292.9" cy="355.9" r="1.1"/>
<circle cx="308.7" cy="340.4" r="1.1"/>
<circle cx="298.6" cy="354.7" r="1.1"/>
<circle cx="308.3" cy="363.0" r="1.1"/>
<circle cx="313.4" cy="340.2" r="1.1"/>
<circle cx="301.7" cy="341.6" r="1.1"/>
<circle cx="308.0" cy="347.9" r="1.1"/>
<circle cx="313.2" cy="359.6" r="1.1"/>
<circle cx="293.0" cy="345.7" r="1.1"/>
<circle cx="292.5" cy="346.9" r="1.1"/>
<circle cx="298.6" cy="354.0" r="1.1"/>
<circle cx="313.9" cy="340.7" r="1.1"/>
<circle cx="299.7" cy="354.8" r="1.1"/>
<circle cx="300.7" cy="354.5" r="1.1"/>
<circle cx="292.3" cy="347.1" r="1.1"/>
<circle cx="307.8" cy="338.7" r="1.1"/>
<circle cx="297.3" cy="348.1" r="1.1"/>
<circle cx="314.6" cy="341.3" r="1.1"/>
<circle cx="292.4" cy="337.9" r="1.1"/>
<circle cx="312.3" cy="317.9" r="1.1"/>
<circle cx="308.2" cy="321.9" r="1.1"/>
<circle cx="298.1" cy="325.3" r="1.1"/>
<circle cx="309.5" cy="325.9" r="1.1"/>
<circle cx="299.1" cy="334.0" r="1.1"/>
<circle cx="293.2" cy="327.8" r="1.1"/>
<circle cx="296.3" cy="331.8" r="1.1"/>
<circle cx="297.5" cy="321.4" r="1.1"/>
<circle cx="304.7" cy="316.7" r="1.1"/>
<circle cx="311.8" cy="322.9" r="1.1"/>
<circle cx="302.2" cy="335.5" r="1.1"/>
<circle cx="304.9" cy="321.6" r="1.1"/>
<circle cx="295.9" cy="325.3" r="1.1"/>
<circle cx="309.1" cy="322.7" r="1.1"/>
<circle cx="313.7" cy="336.2" r="1.1"/>
<circle cx="305.2" cy="313.6" r="1.1"/>
<circle cx="294.9" cy="327.1" r="1.1"/>
<circle cx="292.1" cy="316.0" r="1.1"/>
<circle cx="314.3" cy="316.3" r="1.1"/>
<circle cx="296.5" cy="320.4" r="1.1"/>
<circle cx="295.8" cy="322.5" r="1.1"/>
<circle cx="305.2" cy="325.8" r="1.1"/>
<circle cx="315.1" cy="322.6" r="1.1"/>
<circle cx="301.1" cy="315.3" r="1.1"/>
<circle cx="309.8" cy="332.2" r="1.1"/>
<circle cx="295.2" cy="328.6" r="1.1"/>
<circle cx="294.7" cy="326.5" r="1.1"/>
<circle cx="305.5" cy="331.5" r="1.1"/>
<circle cx="302.7" cy="313.0" r="1.1"/>
<circle cx="304.2" cy="314.8" r="1.1"/>
<circle cx="301.5" cy="317.5" r="1.1"/>
<circle cx="309.9" cy="318.4" r="1.1"/>
<circle cx="309.8" cy="322.2" r="1.1"/>
<circle cx="307.0" cy="317.2" r="1.1"/>
<circle cx="311.3" cy="323.5" r="1.1"/>
<circle cx="310.4" cy="332.1" r="1.1"/>
<circle cx="298.5" cy="331.5" r="1.1"/>
<circle cx="313.0" cy="335.0" r="1.1"/>
<circle cx="303.6" cy="313.1" r="1.1"/>
<circle cx="312.2" cy="328.4" r="1.1"/>
<circle cx="296.7" cy="328.5" r="1.1"/>
<circle cx="292.7" cy="326.6" r="1.1"/>
<circle cx="311.0" cy="332.8" r="1.1"/>
<circle cx="311.9" cy="325.9" r="1.1"/>
<circle cx="293.2" cy="318.9" r="1.1"/>
<circle cx="311.6" cy="314.6" r="1.1"/>
<circle cx="310.8" cy="329.9" r="1.1"/>
<circle cx="295.5" cy="332.2" r="1.1"/>
<circle cx="302.6" cy="323.6" r="1.1"/>
<circle cx="302.0" cy="337.1" r="1.1"/>
<circle cx="297.0" cy="322.7" r="1.1"/>
<circle cx="292.6" cy="338.0" r="1.1"/>
<circle cx="310.2" cy="329.1" r="1.1"/>
<circle cx="303.5" cy="336.2" r="1.1"/>
<circle cx="294.6" cy="322.3" r="1.1"/>
<circle cx="307.8" cy="317.5" r="1.1"/>
<circle cx="306.3" cy="317.5" r="1.1"/>
<circle cx="298.9" cy="328.9" r="1.1"/>
<circle cx="295.4" cy="328.9" r="1.1"/>
<circle cx="308.3" cy="318.5" r="1.1"/>
<circle cx="311.4" cy="337.0" r="1.1"/>
<circle cx="305.8" cy="321.5" r="1.1"/>
<circle cx="303.4" cy="322.2" r="1.1"/>
<circle cx="292.5" cy="326.0" r="1.1"/>
<circle cx="309.7" cy="316.7" r="1.1"/>
<circle cx="299.9" cy="327.6" r="1.1"/>
<circle cx="293.0" cy="319.2" r="1.1"/>
<circle cx="308.8" cy="318.8" r="1.1"/>
<circle cx="305.2" cy="325.5" r="1.1"/>
<circle cx="297.5" cy="320.4" r="1.1"/>
<circle cx="291.9" cy="328.3" r="1.1"/>
<circle cx="292.8" cy="317.6" r="1.1"/>
<circle cx="312.0" cy="326.5" r="1.1"/>
<circle cx="308.1" cy="337.8" r="1.1"/>
<circle cx="300.3" cy="315.1" r="1.1"/>
<circle cx="307.2" cy="337.5" r="1.1"/>
<circle cx="312.0" cy="317.3" r="1.1"/>
<circle cx="308.4" cy="335.3" r="1.1"/>
<circle cx="292.4" cy="330.3" r="1.1"/>
<circle cx="304.8" cy="324.6" r="1.1"/>
<circle cx="296.7" cy="318.0" r="1.1"/>
<circle cx="314.4" cy="337.3" r="1.1"/>
<circle cx="298.5" cy="327.9" r="1.1"/>
<circle cx="292.7" cy="330.2" r="1.1"/>
<circle cx="304.4" cy="319.0" r="1.1"/>
<circle cx="303.9" cy="334.8" r="1.1"/>
<circle cx="292.6" cy="317.4" r="1.1"/>
<circle cx="300.0" cy="336.1" r="1.1"/>
<circle cx="308.5" cy="331.4" r="1.1"/>
<circle cx="299.7" cy="330.5" r="1.1"/>
<circle cx="302.0" cy="335.5" r="1.1"/>
<circle cx="301.0" cy="316.1" r="1.1"/>
<circle cx="294.5" cy="321.2" r="1.1"/>
<circle cx="292.0" cy="327.6" r="1.1"/>
<circle cx="296.6" cy="314.8" r="1.1"/>
<circle cx="314.2" cy="330.2" r="1.1"/>
<circle cx="305.9" cy="314.0" r="1.1"/>
<circle cx="313.3" cy="329.1" r="1.1"/>
<circle cx="300.9" cy="338.0" r="1.1"/>
<circle cx="301.3" cy="329.9" r="1.1"/>
<circle cx="294.0" cy="313.3" r="1.1"/>
<circle cx="294.8" cy="314.4" r="1.1"/>
<circle cx="312.6" cy="321.8" r="1.1"/>
<circle cx="305.8" cy="337.1" r="1.1"/>
<circle cx="293.1" cy="335.3" r="1.1"/>
<circle cx="292.5" cy="329.1" r="1.1"/>
<circle cx="306.0" cy="318.8" r="1.1"/>
<circle cx="307.5" cy="319.2" r="1.1"/>
<circle cx="294.9" cy="323.1" r="1.1"/>
<circle cx="296.3" cy="322.7" r="1.1"/>
<circle cx="306.4" cy="321.5" r="1.1"/>
<circle cx="295.9" cy="321.8" r="1.1"/>
<circle cx="304.7" cy="327.9" r="1.1"/>
<circle cx="301.3" cy="318.8" r="1.1"/>
<circle cx="301.2" cy="336.2" r="1.1"/>
<circle cx="302.4" cy="319.4" r="1.1"/>
<circle cx="312.5" cy="315.1" r="1.1"/>
<circle cx="298.7" cy="318.6" r="1.1"/>
<circle cx="305.2" cy="338.0" r="1.1"/>
<circle cx="292.6" cy="323.7" r="1.1"/>
<circle cx="311.5" cy="331.4" r="1.1"/>
<circle cx="310.5" cy="321.8" r="1.1"/>
<circle cx="297.4" cy="335.0" r="1.1"/>
<circle cx="314.9" cy="313.8" r="1.1"/>
<circle cx="314.6" cy="337.5" r="1.1"/>
<circle cx="301.9" cy="325.2" r="1.1"/>
<circle cx="298.7" cy="328.9" r="1.1"/>
<circle cx="312.6" cy="315.1" r="1.1"/>
<circle cx="298.1" cy="329.2" r="1.1"/>
<circle cx="311.5" cy="319.8" r="1.1"/>
<circle cx="296.7" cy="335.2" r="1.1"/>
<circle cx="301.8" cy="318.9" r="1.1"/>
<circle cx="296.3" cy="332.4" r="1.1"/>
<circle cx="312.8" cy="318.5" r="1.1"/>
<circle cx="313.9" cy="313.7" r="1.1"/>
<circle cx="295.6" cy="313.8" r="1.1"/>
<circle cx="310.5" cy="321.7" r="1.1"/>
<circle cx="313.2" cy="325.6" r="1.1"/>
<circle cx="299.4" cy="318.3" r="1.1"/>
<circle cx="296.4" cy="315.1" r="1.1"/>
<circle cx="303.4" cy="321.7" r="1.1"/>
<circle cx="296.1" cy="321.9" r="1.1"/>
<circle cx="304.7" cy="322.3" r="1.1"/>
<circle cx="302.1" cy="324.0" r="1.1"/>
<circle cx="314.3" cy="314.8" r="1.1"/>
<circle cx="292.9" cy="313.3" r="1.1"/>
<circle cx="303.9" cy="313.8" r="1.1"/>
<circle cx="307.3" cy="329.0" r="1.1"/>
<circle cx="310.8" cy="331.3" r="1.1"/>
<circle cx="312.7" cy="336.8" r="1.1"/>
<circle cx="305.1" cy="315.4" r="1.1"/>
<circle cx="305.7" cy="330.5" r="1.1"/>
<circle cx="297.8" cy="332.9" r="1.1"/>
<circle cx="300.9" cy="335.8" r="1.1"/>
<circle cx="306.7" cy="326.3" r="1.1"/>
<circle cx="293.3" cy="316.9" r="1.1"/>
<circle cx="295.4" cy="323.6" r="1.1"/>
<circle cx="314.1" cy="336.5" r="1.1"/>
<circle cx="304.5" cy="333.5" r="1.1"/>
<circle cx="306.1" cy="330.4" r="1.1"/>
<circle cx="294.7" cy="319.2" r="1.1"/>
<circle cx="309.8" cy="319.9" r="1.1"/>
<circle cx="299.3" cy="320.6" r="1.1"/>
<circle cx="303.6" cy="321.7" r="1.1"/>
<circle cx="299.2" cy="330.5" r="1.1"/>
<circle cx="309.5" cy="326.6" r="1.1"/>
<circle cx="302.6" cy="325.9" r="1.1"/>
<circle cx="294.9" cy="325.5" r="1.1"/>
<circle cx="299.0" cy="317.8" r="1.1"/>
<circle cx="296.3" cy="323.3" r="1.1"/>
<circle cx="311.3" cy="322.0" r="1.1"/>
<circle cx="298.1" cy="325.0" r="1.1"/>
<circle cx="301.1" cy="321.5" r="1.1"/>
<circle cx="295.5" cy="325.5" r="1.1"/>
<circle cx="305.3" cy="319.5" r="1.1"/>
<circle cx="304.0" cy="332.1" r="1.1"/>
<circle cx="299.0" cy="313.7" r="1.1"/>
<circle cx="306.0" cy="333.4" r="1.1"/>
<circle cx="298.6" cy="333.7" r="1.1"/>
<circle cx="304.0" cy="328.1" r="1.1"/>
<circle cx="304.4" cy="335.6" r="1.1"/>
<circle cx="313.3" cy="321.0" r="1.1"/>
<circle cx="313.4" cy="319.4" r="1.1"/>
<circle cx="300.3" cy="324.9" r="1.1"/>
<circle cx="313.0" cy="324.7" r="1.1"/>
<circle cx="302.8" cy="315.5" r="1.1"/>
<circle cx="306.1" cy="323.5" r="1.1"/>
<circle cx="298.8" cy="324.8" r="1.1"/>
<circle cx="311.8" cy="323.6" r="1.1"/>
<circle cx="308.4" cy="317.4" r="1.1"/>
<circle cx="300.1" cy="326.0" r="1.1"/>
<circle cx="306.6" cy="288.9" r="1.1"/>
<circle cx="299.7" cy="296.7" r="1.1"/>
<circle cx="299.7" cy="304.4" r="1.1"/>
<circle cx="304.3" cy="289.1" r="1.1"/>
<circle cx="306.8" cy="305.0" r="1.1"/>
<circle cx="293.3" cy="309.9" r="1.1"/>
<circle cx="296.7" cy="290.0" r="1.1"/>
<circle cx="294.5" cy="308.9" r="1.1"/>
<circle cx="292.4" cy="299.5" r="1.1"/>
<circle cx="297.6" cy="292.9" r="1.1"/>
<circle cx="301.9" cy="288.7" r="1.1"/>
<circle cx="296.0" cy="297.7" r="1.1"/>
<circle cx="294.4" cy="290.0" r="1.1"/>
<circle cx="310.1" cy="309.4" r="1.1"/>
<circle cx="311.5" cy="304.4" r="1.1"/>
<circle cx="312.9" cy="309.2" r="1.1"/>
<circle cx="300.1" cy="288.6" r="1.1"/>
<circle cx="315.2" cy="311.1" r="1.1"/>
<circle cx="311.6" cy="292.3" r="1.1"/>
<circle cx="308.6" cy="305.5" r="1.1"/>
<circle cx="305.1" cy="295.8" r="1.1"/>
<circle cx="303.8" cy="302.8" r="1.1"/>
<circle cx="309.2" cy="300.1" r="1.1"/>
<circle cx="306.4" cy="288.2" r="1.1"/>
<circle cx="307.0" cy="297.3" r="1.1"/>
<circle cx="297.9" cy="302.5" r="1.1"/>
<circle cx="299.4" cy="288.0" r="1.1"/>
<circle cx="308.8" cy="294.6" r="1.1"/>
<circle cx="296.3" cy="307.7" r="1.1"/>
<circle cx="305.2" cy="297.8" r="1.1"/>
<circle cx="308.4" cy="309.4" r="1.1"/>
<circle cx="312.6" cy="304.5" r="1.1"/>
<circle cx="302.6" cy="294.9" r="1.1"/>
<circle cx="307.6" cy="296.1" r="1.1"/>
<circle cx="301.5" cy="301.4" r="1.1"/>
<circle cx="305.4" cy="308.6" r="1.1"/>
<circle cx="299.1" cy="309.7" r="1.1"/>
<circle cx="307.7" cy="292.2" r="1.1"/>
<circle cx="303.7" cy="291.9" r="1.1"/>
<circle cx="305.7" cy="299.0" r="1.1"/>
<circle cx="298.8" cy="311.8" r="1.1"/>
<circle cx="300.0" cy="307.2" r="1.1"/>
<circle cx="295.1" cy="311.3" r="1.1"/>
<circle cx="301.8" cy="299.3" r="1.1"/>
<circle cx="303.2" cy="307.1" r="1.1"/>
<circle cx="297.4" cy="293.5" r="1.1"/>
<circle cx="306.9" cy="310.4" r="1.1"/>
<circle cx="312.6" cy="305.1" r="1.1"/>
<circle cx="309.9" cy="312.3" r="1.1"/>
<circle cx="297.2" cy="287.9" r="1.1"/>
<circle cx="295.3" cy="305.5" r="1.1"/>
<circle cx="306.0" cy="294.4" r="1.1"/>
<circle cx="297.9" cy="302.8" r="1.1"/>
<circle cx="298.0" cy="306.2" r="1.1"/>
<circle cx="310.0" cy="308.4" r="1.1"/>
<circle cx="314.0" cy="288.8" r="1.1"/>
<circle cx="293.3" cy="300.8" r="1.1"/>
<circle cx="308.9" cy="287.7" r="1.1"/>
<circle cx="295.2" cy="300.0" r="1.1"/>
<circle cx="302.3" cy="299.8" r="1.1"/>
<circle cx="314.1" cy="300.8" r="1.1"/>
<circle cx="300.9" cy="312.3" r="1.1"/>
<circle cx="294.9" cy="303.8" r="1.1"/>
<circle cx="306.2" cy="289.5" r="1.1"/>
<circle cx="298.4" cy="305.7" r="1.1"/>
<circle cx="310.3" cy="307.7" r="1.1"/>
<circle cx="310.6" cy="311.7" r="1.1"/>
<circle cx="294.0" cy="293.9" r="1.1"/>
<circle cx="309.1" cy="294.4" r="1.1"/>
<circle cx="309.2" cy="305.8" r="1.1"/>
<circle cx="297.4" cy="293.4" r="1.1"/>
<circle cx="312.1" cy="311.0" r="1.1"/>
<circle cx="292.7" cy="306.3" r="1.1"/>
<circle cx="301.2" cy="302.7" r="1.1"/>
<circle cx="302.0" cy="298.7" r="1.1"/>
<circle cx="300.9" cy="294.0" r="1.1"/>
<circle cx="301.1" cy="306.2" r="1.1"/>
<circle cx="311.4" cy="311.5" r="1.1"/>
<circle cx="301.5" cy="289.9" r="1.1"/>
<circle cx="303.3" cy="289.6" r="1.1"/>
<circle cx="293.7" cy="298.8" r="1.1"/>
<circle cx="312.1" cy="295.9" r="1.1"/>
<circle cx="307.6" cy="305.3" r="1.1"/>
<circle cx="293.1" cy="312.6" r="1.1"/>
<circle cx="302.7" cy="297.4" r="1.1"/>
<circle cx="314.5" cy="292.8" r="1.1"/>
<circle cx="302.9" cy="289.4" r="1.1"/>
<circle cx="311.2" cy="293.8" r="1.1"/>
<circle cx="315.2" cy="288.6" r="1.1"/>
<circle cx="308.4" cy="296.6" r="1.1"/>
<circle cx="299.3" cy="296.1" r="1.1"/>
<circle cx="299.2" cy="311.4" r="1.1"/>
<circle cx="295.5" cy="292.6" r="1.1"/>
<circle cx="308.6" cy="293.9" r="1.1"/>
<circle cx="310.3" cy="303.3" r="1.1"/>
<circle cx="309.9" cy="293.8" r="1.1"/>
<circle cx="304.8" cy="288.8" r="1.1"/>
<circle cx="295.0" cy="296.4" r="1.1"/>
<circle cx="294.0" cy="290.8" r="1.1"/>
<circle cx="310.4" cy="289.3" r="1.1"/>
<circle cx="313.9" cy="303.2" r="1.1"/>
<circle cx="300.1" cy="294.1" r="1.1"/>
<circle cx="304.6" cy="307.3" r="1.1"/>
<circle cx="306.6" cy="289.3" r="1.1"/>
<circle cx="298.6" cy="297.9" r="1.1"/>
<circle cx="308.0" cy="307.8" r="1.1"/>
<circle cx="292.9" cy="296.1" r="1.1"/>
<circle cx="301.9" cy="302.7" r="1.1"/>
<circle cx="297.3" cy="310.6" r="1.1"/>
<circle cx="309.3" cy="289.4" r="1.1"/>
<circle cx="313.7" cy="305.8" r="1.1"/>
<circle cx="314.1" cy="291.1" r="1.1"/>
<circle cx="301.5" cy="310.7" r="1.1"/>
<circle cx="307.6" cy="294.5" r="1.1"/>
<circle cx="310.1" cy="291.1" r="1.1"/>
<circle cx="308.3" cy="288.7" r="1.1"/>
<circle cx="294.3" cy="290.4" r="1.1"/>
<circle cx="304.8" cy="299.4" r="1.1"/>
<circle cx="315.1" cy="305.8" r="1.1"/>
<circle cx="299.0" cy="303.2" r="1.1"/>
<circle cx="302.8" cy="296.6" r="1.1"/>
<circle cx="311.1" cy="307.0" r="1.1"/>
<circle cx="306.8" cy="307.3" r="1.1"/>
<circle cx="301.0" cy="299.4" r="1.1"/>
<circle cx="304.8" cy="297.4" r="1.1"/>
<circle cx="314.2" cy="293.3" r="1.1"/>
<circle cx="301.0" cy="301.7" r="1.1"/>
<circle cx="308.5" cy="304.9" r="1.1"/>
<circle cx="292.9" cy="291.0" r="1.1"/>
<circle cx="292.5" cy="306.4" r="1.1"/>
<circle cx="307.7" cy="297.8" r="1.1"/>
<circle cx="294.9" cy="305.0" r="1.1"/>
<circle cx="306.3" cy="304.5" r="1.1"/>
<circle cx="294.7" cy="311.6" r="1.1"/>
<circle cx="305.4" cy="308.4" r="1.1"/>
<circle cx="300.7" cy="305.2" r="1.1"/>
<circle cx="305.1" cy="297.4" r="1.1"/>
<circle cx="306.6" cy="294.4" r="1.1"/>
<circle cx="314.1" cy="307.4" r="1.1"/>
<circle cx="293.9" cy="295.4" r="1.1"/>
<circle cx="297.3" cy="294.7" r="1.1"/>
<circle cx="312.6" cy="297.5" r="1.1"/>
<circle cx="303.3" cy="297.2" r="1.1"/>
<circle cx="312.1" cy="292.9" r="1.1"/>
<circle cx="311.0" cy="293.6" r="1.1"/>
<circle cx="311.6" cy="308.3" r="1.1"/>
<circle cx="300.3" cy="307.2" r="1.1"/>
<circle cx="304.9" cy="304.1" r="1.1"/>
<circle cx="298.9" cy="300.5" r="1.1"/>
<circle cx="303.0" cy="298.8" r="1.1"/>
<circle cx="308.9" cy="308.6" r="1.1"/>
<circle cx="306.4" cy="305.8" r="1.1"/>
<circle cx="314.7" cy="298.7" r="1.1"/>
<circle cx="297.8" cy="296.8" r="1.1"/>
<circle cx="309.9" cy="306.4" r="1.1"/>
<circle cx="293.4" cy="289.3" r="1.1"/>
<circle cx="296.1" cy="307.1" r="1.1"/>
<circle cx="312.0" cy="304.3" r="1.1"/>
<circle cx="294.4" cy="301.4" r="1.1"/>
<circle cx="296.0" cy="290.6" r="1.1"/>
<circle cx="304.2" cy="301.6" r="1.1"/>
<circle cx="295.2" cy="299.0" r="1.1"/>
<circle cx="297.2" cy="288.4" r="1.1"/>
<circle cx="308.9" cy="294.2" r="1.1"/>
<circle cx="315.0" cy="305.7" r="1.1"/>
<circle cx="300.9" cy="309.4" r="1.1"/>
<circle cx="294.0" cy="307.7" r="1.1"/>
<circle cx="306.1" cy="295.0" r="1.1"/>
<circle cx="310.0" cy="294.3" r="1.1"/>
<circle cx="312.7" cy="302.7" r="1.1"/>
<circle cx="296.1" cy="287.7" r="1.1"/>
<circle cx="305.4" cy="291.1" r="1.1"/>
<circle cx="294.3" cy="289.7" r="1.1"/>
<circle cx="294.4" cy="290.6" r="1.1"/>
<circle cx="292.6" cy="301.7" r="1.1"/>
<circle cx="295.2" cy="301.1" r="1.1"/>
<circle cx="302.8" cy="298.9" r="1.1"/>
<circle cx="295.1" cy="291.0" r="1.1"/>
<circle cx="305.5" cy="301.0" r="1.1"/>
<circle cx="314.8" cy="294.2" r="1.1"/>
<circle cx="314.6" cy="299.2" r="1.1"/>
<circle cx="296.8" cy="301.3" r="1.1"/>
<circle cx="300.0" cy="308.6" r="1.1"/>
<circle cx="298.2" cy="307.5" r="1.1"/>
<circle cx="299.2" cy="304.7" r="1.1"/>
<circle cx="304.8" cy="312.5" r="1.1"/>
<circle cx="303.1" cy="292.5" r="1.1"/>
<circle cx="312.0" cy="308.8" r="1.1"/>
<circle cx="297.8" cy="306.5" r="1.1"/>
<circle cx="312.7" cy="296.8" r="1.1"/>
<circle cx="304.7" cy="304.0" r="1.1"/>
<circle cx="304.7" cy="305.4" r="1.1"/>
<circle cx="303.2" cy="295.2" r="1.1"/>
<circle cx="301.1" cy="311.9" r="1.1"/>
<circle cx="313.9" cy="296.3" r="1.1"/>
<circle cx="302.0" cy="309.9" r="1.1"/>
<circle cx="297.2" cy="297.2" r="1.1"/>
<circle cx="313.5" cy="307.3" r="1.1"/>
<circle cx="298.2" cy="291.2" r="1.1"/>
<circle cx="303.1" cy="299.9" r="1.1"/>
<circle cx="313.4" cy="289.2" r="1.1"/>
<circle cx="307.4" cy="311.2" r="1.1"/>
<circle cx="304.1" cy="290.3" r="1.1"/>
<circle cx="299.2" cy="304.0" r="1.1"/>
<circle cx="296.6" cy="296.1" r="1.1"/>
<circle cx="302.4" cy="308.1" r="1.1"/>
<circle cx="294.2" cy="307.2" r="1.1"/>
<circle cx="293.2" cy="292.5" r="1.1"/>
<circle cx="292.4" cy="304.1" r="1.1"/>
<circle cx="305.9" cy="303.7" r="1.1"/>
<circle cx="301.0" cy="288.1" r="1.1"/>
<circle cx="294.3" cy="304.9" r="1.1"/>
<circle cx="304.1" cy="305.0" r="1.1"/>
<circle cx="296.7" cy="311.2" r="1.1"/>
<circle cx="311.7" cy="303.5" r="1.1"/>
<circle cx="302.8" cy="304.3" r="1.1"/>
<circle cx="301.8" cy="293.7" r="1.1"/>
<circle cx="315.1" cy="298.4" r="1.1"/>
<circle cx="315.1" cy="310.9" r="1.1"/>
<circle cx="303.1" cy="312.7" r="1.1"/>
<circle cx="306.7" cy="280.9" r="1.1"/>
<circle cx="307.0" cy="286.7" r="1.1"/>
<circle cx="311.8" cy="285.8" r="1.1"/>
<circle cx="293.4" cy="269.6" r="1.1"/>
<circle cx="296.9" cy="284.7" r="1.1"/>
<circle cx="313.0" cy="277.7" r="1.1"/>
<circle cx="300.3" cy="271.6" r="1.1"/>
<circle cx="310.6" cy="285.4" r="1.1"/>
<circle cx="304.4" cy="287.2" r="1.1"/>
<circle cx="312.8" cy="279.0" r="1.1"/>
<circle cx="295.6" cy="273.9" r="1.1"/>
<circle cx="295.4" cy="274.2" r="1.1"/>
<circle cx="311.8" cy="266.2" r="1.1"/>
<circle cx="293.2" cy="268.2" r="1.1"/>
<circle cx="313.6" cy="279.6" r="1.1"/>
<circle cx="296.3" cy="277.5" r="1.1"/>
<circle cx="308.0" cy="269.0" r="1.1"/>
<circle cx="304.6" cy="274.4" r="1.1"/>
<circle cx="312.2" cy="286.4" r="1.1"/>
<circle cx="314.2" cy="262.7" r="1.1"/>
<circle cx="314.7" cy="286.1" r="1.1"/>
<circle cx="312.2" cy="281.0" r="1.1"/>
<circle cx="301.4" cy="281.3" r="1.1"/>
<circle cx="309.4" cy="277.5" r="1.1"/>
<circle cx="309.0" cy="276.1" r="1.1"/>
<circle cx="314.7" cy="287.4" r="1.1"/>
<circle cx="297.1" cy="267.0" r="1.1"/>
<circle cx="309.7" cy="273.5" r="1.1"/>
<circle cx="299.6" cy="282.9" r="1.1"/>
<circle cx="301.2" cy="282.4" r="1.1"/>
<circle cx="314.5" cy="273.0" r="1.1"/>
<circle cx="294.2" cy="279.6" r="1.1"/>
<circle cx="302.6" cy="283.4" r="1.1"/>
<circle cx="313.5" cy="284.3" r="1.1"/>
<circle cx="292.6" cy="282.1" r="1.1"/>
<circle cx="309.0" cy="287.5" r="1.1"/>
<circle cx="293.3" cy="274.6" r="1.1"/>
<circle cx="306.3" cy="274.9" r="1.1"/>
<circle cx="315.2" cy="282.0" r="1.1"/>
<circle cx="308.7" cy="286.9" r="1.1"/>
<circle cx="309.3" cy="265.2" r="1.1"/>
<circle cx="294.1" cy="279.9" r="1.1"/>
<circle cx="313.7" cy="274.8" r="1.1"/>
<circle cx="311.0" cy="284.5" r="1.1"/>
<circle cx="315.0" cy="278.0" r="1.1"/>
<circle cx="299.4" cy="287.2" r="1.1"/>
<circle cx="314.5" cy="283.0" r="1.1"/>
<circle cx="302.6" cy="263.2" r="1.1"/>
<circle cx="310.2" cy="278.1" r="1.1"/>
<circle cx="311.5" cy="279.3" r="1.1"/>
<circle cx="295.7" cy="273.2" r="1.1"/>
<circle cx="305.7" cy="281.0" r="1.1"/>
<circle cx="311.6" cy="281.5" r="1.1"/>
<circle cx="300.2" cy="263.1" r="1.1"/>
<circle cx="312.7" cy="275.7" r="1.1"/>
<circle cx="299.8" cy="282.6" r="1.1"/>
<circle cx="311.2" cy="282.3" r="1.1"/>
<circle cx="314.9" cy="279.1" r="1.1"/>
<circle cx="309.5" cy="266.6" r="1.1"/>
<circle cx="308.7" cy="280.3" r="1.1"/>
<circle cx="308.7" cy="278.2" r="1.1"/>
<circle cx="303.0" cy="267.9" r="1.1"/>
<circle cx="298.5" cy="277.2" r="1.1"/>
<circle cx="313.9" cy="276.2" r="1.1"/>
<circle cx="292.2" cy="264.5" r="1.1"/>
<circle cx="297.5" cy="286.6" r="1.1"/>
<circle cx="306.7" cy="285.9" r="1.1"/>
<circle cx="307.9" cy="271.7" r="1.1"/>
<circle cx="298.1" cy="285.1" r="1.1"/>
<circle cx="299.7" cy="283.3" r="1.1"/>
<circle cx="293.0" cy="281.9" r="1.1"/>
<circle cx="296.1" cy="267.4" r="1.1"/>
<circle cx="300.3" cy="282.0" r="1.1"/>
<circle cx="309.0" cy="272.4" r="1.1"/>
<circle cx="306.0" cy="282.5" r="1.1"/>
<circle cx="323.9" cy="344.7" r="1.1"/>
<circle cx="321.0" cy="349.5" r="1.1"/>
<circle cx="326.7" cy="339.0" r="1.1"/>
<circle cx="325.1" cy="339.9" r="1.1"/>
<circle cx="321.7" cy="356.5" r="1.1"/>
<circle cx="318.2" cy="342.2" r="1.1"/>
<circle cx="325.2" cy="342.4" r="1.1"/>
<circle cx="324.5" cy="338.8" r="1.1"/>
<circle cx="337.6" cy="360.1" r="1.1"/>
<circle cx="328.7" cy="347.9" r="1.1"/>
<circle cx="324.2" cy="342.0" r="1.1"/>
<circle cx="336.7" cy="339.8" r="1.1"/>
<circle cx="334.4" cy="338.5" r="1.1"/>
<circle cx="319.2" cy="343.4" r="1.1"/>
<circle cx="328.3" cy="340.6" r="1.1"/>
<circle cx="324.3" cy="356.6" r="1.1"/>
<circle cx="331.7" cy="341.7" r="1.1"/>
<circle cx="333.3" cy="346.1" r="1.1"/>
<circle cx="332.3" cy="345.4" r="1.1"/>
<circle cx="319.5" cy="338.5" r="1.1"/>
<circle cx="319.5" cy="345.7" r="1.1"/>
<circle cx="337.1" cy="358.6" r="1.1"/>
<circle cx="325.9" cy="344.6" r="1.1"/>
<circle cx="327.2" cy="361.2" r="1.1"/>
<circle cx="327.5" cy="350.7" r="1.1"/>
<circle cx="337.0" cy="345.0" r="1.1"/>
<circle cx="319.7" cy="352.4" r="1.1"/>
<circle cx="328.5" cy="354.5" r="1.1"/>
<circle cx="328.4" cy="353.6" r="1.1"/>
<circle cx="333.2" cy="349.5" r="1.1"/>
<circle cx="318.2" cy="341.7" r="1.1"/>
<circle cx="320.3" cy="345.8" r="1.1"/>
<circle cx="317.6" cy="356.5" r="1.1"/>
<circle cx="334.2" cy="353.4" r="1.1"/>
<circle cx="326.7" cy="357.5" r="1.1"/>
<circle cx="338.0" cy="356.9" r="1.1"/>
<circle cx="324.4" cy="347.8" r="1.1"/>
<circle cx="336.2" cy="353.3" r="1.1"/>
<circle cx="329.0" cy="341.6" r="1.1"/>
<circle cx="333.1" cy="339.6" r="1.1"/>
<circle cx="316.9" cy="314.6" r="1.1"/>
<circle cx="324.4" cy="328.1" r="1.1"/>
<circle cx="325.4" cy="337.7" r="1.1"/>
<circle cx="320.0" cy="328.7" r="1.1"/>
<circle cx="320.3" cy="333.4" r="1.1"/>
<circle cx="320.8" cy="325.3" r="1.1"/>
<circle cx="324.7" cy="335.0" r="1.1"/>
<circle cx="334.3" cy="332.6" r="1.1"/>
<circle cx="317.8" cy="335.9" r="1.1"/>
<circle cx="325.2" cy="331.6" r="1.1"/>
<circle cx="328.9" cy="317.0" r="1.1"/>
<circle cx="317.6" cy="326.4" r="1.1"/>
<circle cx="333.2" cy="314.0" r="1.1"/>
<circle cx="325.0" cy="319.8" r="1.1"/>
<circle cx="337.7" cy="326.8" r="1.1"/>
<circle cx="335.2" cy="326.5" r="1.1"/>
<circle cx="318.8" cy="313.1" r="1.1"/>
<circle cx="317.6" cy="323.1" r="1.1"/>
<circle cx="327.9" cy="316.4" r="1.1"/>
<circle cx="322.7" cy="329.6" r="1.1"/>
<circle cx="317.7" cy="325.1" r="1.1"/>
<circle cx="330.7" cy="317.0" r="1.1"/>
<circle cx="323.2" cy="328.4" r="1.1"/>
<circle cx="319.7" cy="333.4" r="1.1"/>
<circle cx="335.2" cy="330.3" r="1.1"/>
<circle cx="324.1" cy="316.4" r="1.1"/>
<circle cx="322.6" cy="322.7" r="1.1"/>
<circle cx="332.1" cy="317.7" r="1.1"/>
<circle cx="335.8" cy="314.4" r="1.1"/>
<circle cx="319.7" cy="336.2" r="1.1"/>
<circle cx="328.3" cy="326.1" r="1.1"/>
<circle cx="325.1" cy="313.0" r="1.1"/>
<circle cx="319.8" cy="335.6" r="1.1"/>
<circle cx="318.0" cy="328.8" r="1.1"/>
<circle cx="320.7" cy="324.4" r="1.1"/>
<circle cx="337.3" cy="317.1" r="1.1"/>
<circle cx="332.3" cy="318.8" r="1.1"/>
<circle cx="337.8" cy="318.3" r="1.1"/>
<circle cx="334.8" cy="321.6" r="1.1"/>
<circle cx="333.5" cy="331.4" r="1.1"/>
<circle cx="323.7" cy="315.4" r="1.1"/>
<circle cx="329.9" cy="335.3" r="1.1"/>
<circle cx="317.7" cy="333.4" r="1.1"/>
<circle cx="334.2" cy="325.7" r="1.1"/>
<circle cx="332.0" cy="323.9" r="1.1"/>
<circle cx="331.9" cy="314.8" r="1.1"/>
<circle cx="329.7" cy="321.0" r="1.1"/>
<circle cx="336.2" cy="336.0" r="1.1"/>
<circle cx="318.0" cy="330.4" r="1.1"/>
<circle cx="333.8" cy="333.5" r="1.1"/>
<circle cx="322.6" cy="320.8" r="1.1"/>
<circle cx="337.0" cy="329.9" r="1.1"/>
<circle cx="317.4" cy="323.0" r="1.1"/>
<circle cx="338.0" cy="328.9" r="1.1"/>
<circle cx="325.0" cy="321.8" r="1.1"/>
<circle cx="316.6" cy="336.6" r="1.1"/>
<circle cx="321.5" cy="328.0" r="1.1"/>
<circle cx="324.4" cy="313.1" r="1.1"/>
<circle cx="316.9" cy="313.2" r="1.1"/>
<circle cx="331.1" cy="324.2" r="1.1"/>
<circle cx="319.3" cy="316.3" r="1.1"/>
<circle cx="319.2" cy="313.5" r="1.1"/>
<circle cx="336.7" cy="337.8" r="1.1"/>
<circle cx="317.0" cy="324.3" r="1.1"/>
<circle cx="336.3" cy="332.7" r="1.1"/>
<circle cx="333.1" cy="316.9" r="1.1"/>
<circle cx="323.2" cy="324.1" r="1.1"/>
<circle cx="336.3" cy="336.4" r="1.1"/>
<circle cx="324.2" cy="334.9" r="1.1"/>
<circle cx="328.8" cy="334.3" r="1.1"/>
<circle cx="319.2" cy="315.6" r="1.1"/>
<circle cx="319.1" cy="320.5" r="1.1"/>
<circle cx="325.8" cy="324.5" r="1.1"/>
<circle cx="334.6" cy="329.6" r="1.1"/>
<circle cx="322.1" cy="317.8" r="1.1"/>
<circle cx="338.6" cy="327.4" r="1.1"/>
<circle cx="326.6" cy="328.0" r="1.1"/>
<circle cx="316.0" cy="333.1" r="1.1"/>
<circle cx="333.1" cy="318.7" r="1.1"/>
<circle cx="324.8" cy="316.8" r="1.1"/>
<circle cx="319.9" cy="318.4" r="1.1"/>
<circle cx="322.3" cy="324.1" r="1.1"/>
<circle cx="316.3" cy="328.4" r="1.1"/>
<circle cx="319.2" cy="316.3" r="1.1"/>
<circle cx="322.8" cy="322.7" r="1.1"/>
<circle cx="336.0" cy="322.4" r="1.1"/>
<circle cx="322.6" cy="313.1" r="1.1"/>
<circle cx="328.8" cy="335.0" r="1.1"/>
<circle cx="332.8" cy="325.8" r="1.1"/>
<circle cx="319.9" cy="315.4" r="1.1"/>
<circle cx="333.2" cy="338.0" r="1.1"/>
<circle cx="329.7" cy="328.7" r="1.1"/>
<circle cx="332.3" cy="331.6" r="1.1"/>
<circle cx="333.6" cy="313.6" r="1.1"/>
<circle cx="316.5" cy="322.9" r="1.1"/>
<circle cx="327.7" cy="320.2" r="1.1"/>
<circle cx="322.6" cy="331.2" r="1.1"/>
<circle cx="337.7" cy="317.0" r="1.1"/>
<circle cx="331.4" cy="329.1" r="1.1"/>
<circle cx="325.6" cy="326.1" r="1.1"/>
<circle cx="325.7" cy="320.1" r="1.1"/>
<circle cx="316.8" cy="325.1" r="1.1"/>
<circle cx="315.7" cy="319.1" r="1.1"/>
<circle cx="325.1" cy="325.2" r="1.1"/>
<circle cx="327.1" cy="324.5" r="1.1"/>
<circle cx="328.2" cy="332.1" r="1.1"/>
<circle cx="337.7" cy="313.9" r="1.1"/>
<circle cx="317.8" cy="315.5" r="1.1"/>
<circle cx="318.9" cy="319.4" r="1.1"/>
<circle cx="320.1" cy="328.6" r="1.1"/>
<circle cx="331.7" cy="318.6" r="1.1"/>
<circle cx="328.0" cy="319.7" r="1.1"/>
<circle cx="325.7" cy="322.3" r="1.1"/>
<circle cx="315.6" cy="317.2" r="1.1"/>
<circle cx="327.1" cy="319.3" r="1.1"/>
<circle cx="328.6" cy="322.0" r="1.1"/>
<circle cx="320.2" cy="321.2" r="1.1"/>
<circle cx="319.7" cy="323.8" r="1.1"/>
<circle cx="315.8" cy="327.5" r="1.1"/>
<circle cx="332.1" cy="316.5" r="1.1"/>
<circle cx="324.4" cy="313.0" r="1.1"/>
<circle cx="328.1" cy="315.6" r="1.1"/>
<circle cx="316.0" cy="326.6" r="1.1"/>
<circle cx="337.7" cy="314.9" r="1.1"/>
<circle cx="316.3" cy="318.8" r="1.1"/>
<circle cx="323.9" cy="322.0" r="1.1"/>
<circle cx="324.0" cy="313.9" r="1.1"/>
<circle cx="316.2" cy="320.8" r="1.1"/>
<circle cx="332.9" cy="314.5" r="1.1"/>
<circle cx="317.6" cy="325.2" r="1.1"/>
<circle cx="328.6" cy="324.5" r="1.1"/>
<circle cx="338.0" cy="313.6" r="1.1"/>
<circle cx="322.6" cy="318.0" r="1.1"/>
<circle cx="316.8" cy="321.3" r="1.1"/>
<circle cx="327.6" cy="319.8" r="1.1"/>
<circle cx="336.2" cy="331.2" r="1.1"/>
<circle cx="337.0" cy="315.6" r="1.1"/>
<circle cx="323.3" cy="338.0" r="1.1"/>
<circle cx="315.8" cy="336.1" r="1.1"/>
<circle cx="323.0" cy="321.2" r="1.1"/>
<circle cx="326.6" cy="324.8" r="1.1"/>
<circle cx="329.2" cy="316.7" r="1.1"/>
<circle cx="327.9" cy="317.6" r="1.1"/>
<circle cx="325.4" cy="331.2" r="1.1"/>
<circle cx="335.8" cy="319.7" r="1.1"/>
<circle cx="321.1" cy="314.8" r="1.1"/>
<circle cx="323.8" cy="319.1" r="1.1"/>
<circle cx="335.3" cy="331.6" r="1.1"/>
<circle cx="337.7" cy="321.6" r="1.1"/>
<circle cx="332.4" cy="328.8" r="1.1"/>
<circle cx="331.5" cy="320.3" r="1.1"/>
<circle cx="328.6" cy="333.2" r="1.1"/>
<circle cx="318.4" cy="314.8" r="1.1"/>
<circle cx="326.9" cy="314.9" r="1.1"/>
<circle cx="330.6" cy="321.4" r="1.1"/>
<circle cx="334.2" cy="315.4" r="1.1"/>
<circle cx="332.5" cy="291.9" r="1.1"/>
<circle cx="331.3" cy="304.5" r="1.1"/>
<circle cx="320.6" cy="300.7" r="1.1"/>
<circle cx="337.9" cy="303.3" r="1.1"/>
<circle cx="325.4" cy="295.9" r="1.1"/>
<circle cx="317.8" cy="291.9" r="1.1"/>
<circle cx="316.3" cy="304.4" r="1.1"/>
<circle cx="333.9" cy="304.4" r="1.1"/>
<circle cx="323.6" cy="306.1" r="1.1"/>
<circle cx="329.9" cy="299.0" r="1.1"/>
<circle cx="317.7" cy="298.0" r="1.1"/>
<circle cx="330.4" cy="307.3" r="1.1"/>
<circle cx="335.8" cy="298.2" r="1.1"/>
<circle cx="332.9" cy="290.0" r="1.1"/>
<circle cx="330.9" cy="302.3" r="1.1"/>
<circle cx="326.6" cy="288.3" r="1.1"/>
<circle cx="319.7" cy="295.9" r="1.1"/>
<circle cx="323.5" cy="308.4" r="1.1"/>
<circle cx="334.7" cy="298.6" r="1.1"/>
<circle cx="316.7" cy="306.2" r="1.1"/>
<circle cx="325.9" cy="304.2" r="1.1"/>
<circle cx="337.5" cy="290.1" r="1.1"/>
<circle cx="337.4" cy="295.0" r="1.1"/>
<circle cx="323.8" cy="307.4" r="1.1"/>
<circle cx="330.8" cy="289.9" r="1.1"/>
<circle cx="332.9" cy="310.5" r="1.1"/>
<circle cx="335.4" cy="299.7" r="1.1"/>
<circle cx="330.5" cy="291.6" r="1.1"/>
<circle cx="324.2" cy="298.4" r="1.1"/>
<circle cx="316.1" cy="290.2" r="1.1"/>
<circle cx="327.3" cy="312.2" r="1.1"/>
<circle cx="319.8" cy="289.9" r="1.1"/>
<circle cx="320.4" cy="299.2" r="1.1"/>
<circle cx="322.5" cy="304.7" r="1.1"/>
<circle cx="318.1" cy="288.2" r="1.1"/>
<circle cx="321.4" cy="298.1" r="1.1"/>
<circle cx="319.9" cy="300.5" r="1.1"/>
<circle cx="334.5" cy="301.1" r="1.1"/>
<circle cx="323.8" cy="303.4" r="1.1"/>
<circle cx="325.0" cy="298.2" r="1.1"/>
<circle cx="322.4" cy="291.4" r="1.1"/>
<circle cx="321.9" cy="304.3" r="1.1"/>
<circle cx="330.0" cy="294.1" r="1.1"/>
<circle cx="317.1" cy="296.2" r="1.1"/>
<circle cx="319.9" cy="302.3" r="1.1"/>
<circle cx="325.0" cy="307.8" r="1.1"/>
<circle cx="322.0" cy="292.4" r="1.1"/>
<circle cx="334.7" cy="303.6" r="1.1"/>
<circle cx="318.2" cy="308.4" r="1.1"/>
<circle cx="331.9" cy="308.7" r="1.1"/>
<circle cx="328.4" cy="295.9" r="1.1"/>
<circle cx="332.6" cy="295.3" r="1.1"/>
<circle cx="332.6" cy="309.7" r="1.1"/>
<circle cx="327.5" cy="305.6" r="1.1"/>
<circle cx="334.0" cy="298.6" r="1.1"/>
<circle cx="318.0" cy="301.0" r="1.1"/>
<circle cx="336.4" cy="310.8" r="1.1"/>
<circle cx="332.9" cy="297.3" r="1.1"/>
<circle cx="336.0" cy="298.3" r="1.1"/>
<circle cx="318.5" cy="288.0" r="1.1"/>
<circle cx="333.9" cy="308.9" r="1.1"/>
<circle cx="323.2" cy="310.3" r="1.1"/>
<circle cx="333.5" cy="308.3" r="1.1"/>
<circle cx="316.5" cy="304.0" r="1.1"/>
<circle cx="336.2" cy="288.5" r="1.1"/>
<circle cx="338.1" cy="303.8" r="1.1"/>
<circle cx="333.8" cy="305.3" r="1.1"/>
<circle cx="324.7" cy="309.9" r="1.1"/>
<circle cx="321.3" cy="292.7" r="1.1"/>
<circle cx="320.7" cy="293.2" r="1.1"/>
<circle cx="335.6" cy="308.6" r="1.1"/>
<circle cx="330.1" cy="312.3" r="1.1"/>
<circle cx="326.4" cy="290.3" r="1.1"/>
<circle cx="322.2" cy="299.2" r="1.1"/>
<circle cx="331.4" cy="308.8" r="1.1"/>
<circle cx="319.6" cy="308.6" r="1.1"/>
<circle cx="318.7" cy="296.0" r="1.1"/>
<circle cx="334.2" cy="304.3" r="1.1"/>
<circle cx="322.7" cy="288.9" r="1.1"/>
<circle cx="321.6" cy="293.3" r="1.1"/>
<circle cx="318.4" cy="291.9" r="1.1"/>
<circle cx="323.3" cy="300.9" r="1.1"/>
<circle cx="325.4" cy="304.4" r="1.1"/>
<circle cx="338.4" cy="299.3" r="1.1"/>
<circle cx="327.6" cy="301.8" r="1.1"/>
<circle cx="315.5" cy="304.6" r="1.1"/>
<circle cx="337.1" cy="300.5" r="1.1"/>
<circle cx="335.2" cy="302.7" r="1.1"/>
<circle cx="320.3" cy="299.1" r="1.1"/>
<circle cx="318.2" cy="308.7" r="1.1"/>
<circle cx="318.0" cy="291.2" r="1.1"/>
<circle cx="325.0" cy="302.9" r="1.1"/>
<circle cx="317.7" cy="293.3" r="1.1"/>
<circle cx="323.2" cy="299.6" r="1.1"/>
<circle cx="329.7" cy="296.2" r="1.1"/>
<circle cx="326.3" cy="288.1" r="1.1"/>
<circle cx="328.3" cy="303.9" r="1.1"/>
<circle cx="320.1" cy="289.5" r="1.1"/>
<circle cx="325.7" cy="294.2" r="1.1"/>
<circle cx="324.5" cy="291.2" r="1.1"/>
<circle cx="317.1" cy="293.3" r="1.1"/>
<circle cx="334.0" cy="295.3" r="1.1"/>
<circle cx="338.6" cy="309.4" r="1.1"/>
<circle cx="326.3" cy="304.6" r="1.1"/>
<circle cx="322.4" cy="303.1" r="1.1"/>
<circle cx="333.8" cy="304.0" r="1.1"/>
<circle cx="323.6" cy="291.1" r="1.1"/>
<circle cx="330.4" cy="312.3" r="1.1"/>
<circle cx="336.6" cy="310.0" r="1.1"/>
<circle cx="318.6" cy="311.4" r="1.1"/>
<circle cx="325.9" cy="297.4" r="1.1"/>
<circle cx="334.8" cy="309.3" r="1.1"/>
<circle cx="330.3" cy="292.1" r="1.1"/>
<circle cx="326.7" cy="290.3" r="1.1"/>
<circle cx="321.1" cy="297.8" r="1.1"/>
<circle cx="325.9" cy="288.2" r="1.1"/>
<circle cx="332.8" cy="289.6" r="1.1"/>
<circle cx="318.0" cy="295.5" r="1.1"/>
<circle cx="317.0" cy="310.3" r="1.1"/>
<circle cx="335.1" cy="305.4" r="1.1"/>
<circle cx="319.4" cy="301.3" r="1.1"/>
<circle cx="328.0" cy="299.4" r="1.1"/>
<circle cx="334.4" cy="290.8" r="1.1"/>
<circle cx="336.2" cy="308.2" r="1.1"/>
<circle cx="330.1" cy="294.9" r="1.1"/>
<circle cx="317.7" cy="311.1" r="1.1"/>
<circle cx="326.3" cy="304.2" r="1.1"/>
<circle cx="324.2" cy="312.5" r="1.1"/>
<circle cx="332.2" cy="305.6" r="1.1"/>
<circle cx="324.4" cy="300.8" r="1.1"/>
<circle cx="337.4" cy="288.1" r="1.1"/>
<circle cx="330.0" cy="292.0" r="1.1"/>
<circle cx="319.6" cy="302.9" r="1.1"/>
<circle cx="319.5" cy="302.6" r="1.1"/>
<circle cx="315.6" cy="308.7" r="1.1"/>
<circle cx="318.7" cy="304.4" r="1.1"/>
<circle cx="327.4" cy="299.3" r="1.1"/>
<circle cx="323.9" cy="300.0" r="1.1"/>
<circle cx="336.5" cy="301.6" r="1.1"/>
<circle cx="320.2" cy="310.3" r="1.1"/>
<circle cx="316.5" cy="299.7" r="1.1"/>
<circle cx="326.3" cy="291.4" r="1.1"/>
<circle cx="338.0" cy="295.2" r="1.1"/>
<circle cx="333.1" cy="298.4" r="1.1"/>
<circle cx="321.2" cy="290.1" r="1.1"/>
<circle cx="335.9" cy="288.9" r="1.1"/>
<circle cx="336.5" cy="306.8" r="1.1"/>
<circle cx="328.4" cy="307.0" r="1.1"/>
<circle cx="319.4" cy="312.3" r="1.1"/>
<circle cx="321.6" cy="304.7" r="1.1"/>
<circle cx="332.2" cy="293.5" r="1.1"/>
<circle cx="326.9" cy="292.3" r="1.1"/>
<circle cx="321.6" cy="291.8" r="1.1"/>
<circle cx="326.5" cy="309.8" r="1.1"/>
<circle cx="317.6" cy="306.9" r="1.1"/>
<circle cx="330.2" cy="304.4" r="1.1"/>
<circle cx="321.9" cy="296.1" r="1.1"/>
<circle cx="321.1" cy="300.1" r="1.1"/>
<circle cx="333.6" cy="306.3" r="1.1"/>
<circle cx="318.7" cy="292.1" r="1.1"/>
<circle cx="325.6" cy="293.6" r="1.1"/>
<circle cx="334.6" cy="310.9" r="1.1"/>
<circle cx="327.2" cy="295.9" r="1.1"/>
<circle cx="331.3" cy="300.4" r="1.1"/>
<circle cx="329.9" cy="302.4" r="1.1"/>
<circle cx="316.7" cy="299.2" r="1.1"/>
<circle cx="319.7" cy="309.0" r="1.1"/>
<circle cx="329.9" cy="308.7" r="1.1"/>
<circle cx="316.6" cy="288.5" r="1.1"/>
<circle cx="333.9" cy="294.8" r="1.1"/>
<circle cx="320.3" cy="293.6" r="1.1"/>
<circle cx="334.5" cy="293.2" r="1.1"/>
<circle cx="337.0" cy="292.6" r="1.1"/>
<circle cx="325.7" cy="312.4" r="1.1"/>
<circle cx="336.9" cy="297.1" r="1.1"/>
<circle cx="326.9" cy="290.0" r="1.1"/>
<circle cx="326.6" cy="291.8" r="1.1"/>
<circle cx="331.0" cy="305.6" r="1.1"/>
<circle cx="332.6" cy="296.3" r="1.1"/>
<circle cx="327.2" cy="302.5" r="1.1"/>
<circle cx="333.0" cy="299.7" r="1.1"/>
<circle cx="333.5" cy="303.3" r="1.1"/>
<circle cx="319.6" cy="298.4" r="1.1"/>
<circle cx="337.1" cy="288.1" r="1.1"/>
<circle cx="325.0" cy="300.8" r="1.1"/>
<circle cx="321.3" cy="295.1" r="1.1"/>
<circle cx="325.2" cy="306.0" r="1.1"/>
<circle cx="326.6" cy="310.4" r="1.1"/>
<circle cx="322.0" cy="307.9" r="1.1"/>
<circle cx="329.0" cy="288.5" r="1.1"/>
<circle cx="317.4" cy="312.7" r="1.1"/>
<circle cx="334.5" cy="288.7" r="1.1"/>
<circle cx="323.4" cy="288.9" r="1.1"/>
<circle cx="326.2" cy="294.3" r="1.1"/>
<circle cx="328.9" cy="311.7" r="1.1"/>
<circle cx="332.6" cy="296.8" r="1.1"/>
<circle cx="337.9" cy="307.9" r="1.1"/>
<circle cx="318.1" cy="290.8" r="1.1"/>
<circle cx="327.3" cy="307.7" r="1.1"/>
<circle cx="332.9" cy="312.4" r="1.1"/>
<circle cx="333.7" cy="294.9" r="1.1"/>
<circle cx="319.3" cy="295.6" r="1.1"/>
<circle cx="333.6" cy="310.6" r="1.1"/>
<circle cx="320.6" cy="308.3" r="1.1"/>
<circle cx="334.7" cy="297.0" r="1.1"/>
<circle cx="324.0" cy="304.6" r="1.1"/>
<circle cx="334.0" cy="299.8" r="1.1"/>
<circle cx="319.3" cy="308.1" r="1.1"/>
<circle cx="325.3" cy="300.7" r="1.1"/>
<circle cx="326.7" cy="312.0" r="1.1"/>
<circle cx="333.4" cy="296.1" r="1.1"/>
<circle cx="328.3" cy="312.7" r="1.1"/>
<circle cx="332.6" cy="293.8" r="1.1"/>
<circle cx="338.6" cy="301.5" r="1.1"/>
<circle cx="328.6" cy="311.4" r="1.1"/>
<circle cx="319.9" cy="291.4" r="1.1"/>
<circle cx="320.9" cy="298.0" r="1.1"/>
<circle cx="332.7" cy="307.7" r="1.1"/>
<circle cx="318.2" cy="289.2" r="1.1"/>
<circle cx="327.9" cy="294.8" r="1.1"/>
<circle cx="330.1" cy="308.2" r="1.1"/>
<circle cx="330.0" cy="312.1" r="1.1"/>
<circle cx="321.5" cy="306.7" r="1.1"/>
<circle cx="330.1" cy="288.3" r="1.1"/>
<circle cx="334.1" cy="296.4" r="1.1"/>
<circle cx="315.5" cy="302.8" r="1.1"/>
<circle cx="322.4" cy="306.2" r="1.1"/>
<circle cx="328.0" cy="308.4" r="1.1"/>
<circle cx="338.1" cy="290.7" r="1.1"/>
<circle cx="327.7" cy="306.8" r="1.1"/>
<circle cx="328.9" cy="290.8" r="1.1"/>
<circle cx="331.9" cy="301.8" r="1.1"/>
<circle cx="323.6" cy="310.3" r="1.1"/>
<circle cx="330.1" cy="303.6" r="1.1"/>
<circle cx="315.6" cy="300.0" r="1.1"/>
<circle cx="338.2" cy="295.0" r="1.1"/>
<circle cx="317.3" cy="294.4" r="1.1"/>
<circle cx="336.9" cy="307.3" r="1.1"/>
<circle cx="328.0" cy="307.6" r="1.1"/>
<circle cx="323.7" cy="306.4" r="1.1"/>
<circle cx="323.5" cy="291.1" r="1.1"/>
<circle cx="317.3" cy="283.5" r="1.1"/>
<circle cx="337.5" cy="283.0" r="1.1"/>
<circle cx="330.9" cy="268.1" r="1.1"/>
<circle cx="323.7" cy="269.1" r="1.1"/>
<circle cx="315.5" cy="276.9" r="1.1"/>
<circle cx="324.9" cy="275.2" r="1.1"/>
<circle cx="333.1" cy="282.4" r="1.1"/>
<circle cx="330.1" cy="269.0" r="1.1"/>
<circle cx="317.1" cy="270.5" r="1.1"/>
<circle cx="338.5" cy="280.2" r="1.1"/>
<circle cx="324.7" cy="276.0" r="1.1"/>
<circle cx="327.4" cy="284.5" r="1.1"/>
<circle cx="329.5" cy="280.3" r="1.1"/>
<circle cx="331.3" cy="265.4" r="1.1"/>
<circle cx="325.4" cy="282.8" r="1.1"/>
<circle cx="326.9" cy="282.3" r="1.1"/>
<circle cx="337.8" cy="271.1" r="1.1"/>
<circle cx="321.3" cy="273.5" r="1.1"/>
<circle cx="323.1" cy="284.8" r="1.1"/>
<circle cx="337.5" cy="268.1" r="1.1"/>
<circle cx="329.9" cy="285.5" r="1.1"/>
<circle cx="321.7" cy="276.3" r="1.1"/>
<circle cx="337.8" cy="264.5" r="1.1"/>
<circle cx="338.3" cy="282.2" r="1.1"/>
<circle cx="318.2" cy="285.1" r="1.1"/>
<circle cx="331.2" cy="276.1" r="1.1"/>
<circle cx="327.1" cy="266.2" r="1.1"/>
<circle cx="328.3" cy="280.8" r="1.1"/>
<circle cx="324.2" cy="282.5" r="1.1"/>
<circle cx="319.6" cy="269.9" r="1.1"/>
<circle cx="336.6" cy="280.8" r="1.1"/>
<circle cx="329.9" cy="268.0" r="1.1"/>
<circle cx="318.7" cy="278.3" r="1.1"/>
<circle cx="335.2" cy="265.0" r="1.1"/>
<circle cx="332.2" cy="275.9" r="1.1"/>
<circle cx="318.7" cy="287.3" r="1.1"/>
<circle cx="335.4" cy="275.3" r="1.1"/>
<circle cx="336.0" cy="287.5" r="1.1"/>
<circle cx="332.2" cy="268.9" r="1.1"/>
<circle cx="332.2" cy="286.7" r="1.1"/>
<circle cx="336.3" cy="276.8" r="1.1"/>
<circle cx="320.2" cy="281.5" r="1.1"/>
<circle cx="319.6" cy="274.8" r="1.1"/>
<circle cx="319.8" cy="282.7" r="1.1"/>
<circle cx="337.8" cy="268.1" r="1.1"/>
<circle cx="317.2" cy="264.9" r="1.1"/>
<circle cx="329.6" cy="284.0" r="1.1"/>
<circle cx="335.2" cy="278.7" r="1.1"/>
<circle cx="323.8" cy="272.5" r="1.1"/>
<circle cx="316.7" cy="273.9" r="1.1"/>
<circle cx="318.0" cy="267.2" r="1.1"/>
<circle cx="329.7" cy="271.2" r="1.1"/>
<circle cx="338.1" cy="283.3" r="1.1"/>
<circle cx="315.9" cy="267.4" r="1.1"/>
<circle cx="328.6" cy="281.6" r="1.1"/>
<circle cx="330.6" cy="276.3" r="1.1"/>
<circle cx="318.9" cy="276.5" r="1.1"/>
<circle cx="327.7" cy="286.5" r="1.1"/>
<circle cx="331.7" cy="274.6" r="1.1"/>
<circle cx="323.0" cy="284.9" r="1.1"/>
<circle cx="330.6" cy="274.4" r="1.1"/>
<circle cx="323.9" cy="281.9" r="1.1"/>
<circle cx="325.1" cy="284.5" r="1.1"/>
<circle cx="316.1" cy="283.7" r="1.1"/>
<circle cx="320.8" cy="264.2" r="1.1"/>
<circle cx="333.5" cy="285.5" r="1.1"/>
<circle cx="335.6" cy="282.8" r="1.1"/>
<circle cx="322.9" cy="277.7" r="1.1"/>
<circle cx="335.5" cy="282.4" r="1.1"/>
<circle cx="337.5" cy="287.4" r="1.1"/>
<circle cx="328.1" cy="283.9" r="1.1"/>
<circle cx="337.5" cy="268.6" r="1.1"/>
<circle cx="325.3" cy="270.2" r="1.1"/>
<circle cx="325.3" cy="276.0" r="1.1"/>
<circle cx="317.9" cy="284.3" r="1.1"/>
<circle cx="335.5" cy="284.9" r="1.1"/>
<circle cx="331.0" cy="277.5" r="1.1"/>
<circle cx="315.8" cy="263.9" r="1.1"/>
<circle cx="318.8" cy="270.4" r="1.1"/>
<circle cx="325.9" cy="280.0" r="1.1"/>
<circle cx="322.6" cy="280.7" r="1.1"/>
<circle cx="321.7" cy="273.0" r="1.1"/>
<circle cx="318.3" cy="274.1" r="1.1"/>
<circle cx="333.5" cy="284.8" r="1.1"/>
<circle cx="333.2" cy="269.6" r="1.1"/>
<circle cx="323.2" cy="268.9" r="1.1"/>
<circle cx="330.8" cy="281.7" r="1.1"/>
<circle cx="334.9" cy="285.9" r="1.1"/>
<circle cx="335.1" cy="275.7" r="1.1"/>
<circle cx="331.7" cy="271.1" r="1.1"/>
<circle cx="320.6" cy="269.7" r="1.1"/>
<circle cx="323.2" cy="282.0" r="1.1"/>
<circle cx="331.7" cy="280.9" r="1.1"/>
<circle cx="317.1" cy="274.6" r="1.1"/>
<circle cx="320.2" cy="266.4" r="1.1"/>
<circle cx="331.7" cy="286.1" r="1.1"/>
<circle cx="336.4" cy="286.4" r="1.1"/>
<circle cx="331.1" cy="287.0" r="1.1"/>
<circle cx="330.3" cy="268.8" r="1.1"/>
<circle cx="329.4" cy="278.5" r="1.1"/>
<circle cx="325.5" cy="275.7" r="1.1"/>
<circle cx="333.3" cy="282.0" r="1.1"/>
<circle cx="326.5" cy="271.6" r="1.1"/>
<circle cx="328.1" cy="285.0" r="1.1"/>
<circle cx="327.0" cy="274.1" r="1.1"/>
<circle cx="326.2" cy="267.4" r="1.1"/>
<circle cx="315.8" cy="287.3" r="1.1"/>
<circle cx="327.1" cy="285.3" r="1.1"/>
<circle cx="330.8" cy="269.5" r="1.1"/>
<circle cx="331.8" cy="267.2" r="1.1"/>
<circle cx="320.6" cy="271.8" r="1.1"/>
<circle cx="327.3" cy="275.7" r="1.1"/>
<circle cx="331.3" cy="273.6" r="1.1"/>
<circle cx="320.3" cy="286.8" r="1.1"/>
<circle cx="319.5" cy="273.3" r="1.1"/>
<circle cx="338.0" cy="279.8" r="1.1"/>
<circle cx="333.0" cy="275.5" r="1.1"/>
<circle cx="326.5" cy="280.2" r="1.1"/>
<circle cx="320.5" cy="280.0" r="1.1"/>
<circle cx="336.9" cy="284.4" r="1.1"/>
<circle cx="333.0" cy="281.9" r="1.1"/>
<circle cx="321.6" cy="269.7" r="1.1"/>
<circle cx="331.8" cy="279.9" r="1.1"/>
<circle cx="323.0" cy="284.6" r="1.1"/>
<circle cx="326.0" cy="274.0" r="1.1"/>
<circle cx="337.2" cy="280.3" r="1.1"/>
<circle cx="332.3" cy="283.9" r="1.1"/>
<circle cx="330.9" cy="267.9" r="1.1"/>
<circle cx="325.6" cy="271.1" r="1.1"/>
<circle cx="330.4" cy="271.4" r="1.1"/>
<circle cx="321.9" cy="275.9" r="1.1"/>
<circle cx="335.3" cy="284.5" r="1.1"/>
<circle cx="323.3" cy="285.8" r="1.1"/>
<circle cx="333.5" cy="285.2" r="1.1"/>
<circle cx="337.0" cy="277.5" r="1.1"/>
<circle cx="334.8" cy="263.6" r="1.1"/>
<circle cx="325.9" cy="267.9" r="1.1"/>
<circle cx="323.9" cy="270.1" r="1.1"/>
<circle cx="329.7" cy="267.4" r="1.1"/>
<circle cx="334.7" cy="270.6" r="1.1"/>
<circle cx="329.8" cy="270.8" r="1.1"/>
<circle cx="315.4" cy="279.1" r="1.1"/>
<circle cx="320.3" cy="283.7" r="1.1"/>
<circle cx="335.7" cy="267.7" r="1.1"/>
<circle cx="316.8" cy="272.8" r="1.1"/>
<circle cx="327.9" cy="278.3" r="1.1"/>
<circle cx="325.2" cy="266.0" r="1.1"/>
<circle cx="338.1" cy="281.3" r="1.1"/>
<circle cx="330.7" cy="285.5" r="1.1"/>
<circle cx="317.9" cy="273.7" r="1.1"/>
<circle cx="334.4" cy="283.1" r="1.1"/>
<circle cx="318.9" cy="282.4" r="1.1"/>
<circle cx="319.0" cy="279.8" r="1.1"/>
<circle cx="321.8" cy="265.8" r="1.1"/>
<circle cx="319.0" cy="268.0" r="1.1"/>
<circle cx="316.3" cy="265.1" r="1.1"/>
<circle cx="320.1" cy="283.4" r="1.1"/>
<circle cx="322.3" cy="265.6" r="1.1"/>
<circle cx="332.4" cy="287.3" r="1.1"/>
<circle cx="330.2" cy="272.2" r="1.1"/>
<circle cx="328.1" cy="286.9" r="1.1"/>
<circle cx="348.4" cy="316.8" r="1.1"/>
<circle cx="350.9" cy="323.7" r="1.1"/>
<circle cx="342.1" cy="313.3" r="1.1"/>
<circle cx="361.7" cy="321.9" r="1.1"/>
<circle cx="350.8" cy="323.2" r="1.1"/>
<circle cx="348.2" cy="320.9" r="1.1"/>
<circle cx="339.8" cy="323.3" r="1.1"/>
<circle cx="342.4" cy="316.2" r="1.1"/>
<circle cx="341.5" cy="320.9" r="1.1"/>
<circle cx="361.2" cy="319.9" r="1.1"/>
<circle cx="359.9" cy="319.6" r="1.1"/>
<circle cx="361.6" cy="315.9" r="1.1"/>
<circle cx="353.4" cy="333.9" r="1.1"/>
<circle cx="348.3" cy="326.9" r="1.1"/>
<circle cx="356.9" cy="337.7" r="1.1"/>
<circle cx="352.8" cy="333.9" r="1.1"/>
<circle cx="361.1" cy="318.1" r="1.1"/>
<circle cx="344.6" cy="330.9" r="1.1"/>
<circle cx="351.8" cy="313.5" r="1.1"/>
<circle cx="350.1" cy="335.4" r="1.1"/>
<circle cx="349.3" cy="325.9" r="1.1"/>
<circle cx="352.1" cy="327.3" r="1.1"/>
<circle cx="340.8" cy="320.5" r="1.1"/>
<circle cx="362.0" cy="334.2" r="1.1"/>
<circle cx="356.6" cy="329.8" r="1.1"/>
<circle cx="345.7" cy="315.1" r="1.1"/>
<circle cx="340.9" cy="324.7" r="1.1"/>
<circle cx="358.5" cy="313.5" r="1.1"/>
<circle cx="358.1" cy="329.5" r="1.1"/>
<circle cx="356.3" cy="315.0" r="1.1"/>
<circle cx="343.4" cy="318.4" r="1.1"/>
<circle cx="344.6" cy="318.8" r="1.1"/>
<circle cx="360.0" cy="316.8" r="1.1"/>
<circle cx="343.2" cy="314.3" r="1.1"/>
<circle cx="361.3" cy="332.8" r="1.1"/>
<circle cx="345.2" cy="315.8" r="1.1"/>
<circle cx="358.4" cy="332.9" r="1.1"/>
<circle cx="350.4" cy="327.8" r="1.1"/>
<circle cx="343.1" cy="328.3" r="1.1"/>
<circle cx="356.9" cy="328.6" r="1.1"/>
<circle cx="341.6" cy="322.0" r="1.1"/>
<circle cx="342.9" cy="318.9" r="1.1"/>
<circle cx="343.4" cy="332.3" r="1.1"/>
<circle cx="361.3" cy="332.1" r="1.1"/>
<circle cx="355.7" cy="325.5" r="1.1"/>
<circle cx="345.4" cy="326.0" r="1.1"/>
<circle cx="338.7" cy="324.1" r="1.1"/>
<circle cx="345.4" cy="322.8" r="1.1"/>
<circle cx="339.2" cy="314.0" r="1.1"/>
<circle cx="347.6" cy="329.1" r="1.1"/>
<circle cx="357.8" cy="315.6" r="1.1"/>
<circle cx="353.8" cy="314.5" r="1.1"/>
<circle cx="359.6" cy="332.4" r="1.1"/>
<circle cx="350.8" cy="317.4" r="1.1"/>
<circle cx="347.2" cy="337.3" r="1.1"/>
<circle cx="347.4" cy="318.1" r="1.1"/>
<circle cx="343.6" cy="318.4" r="1.1"/>
<circle cx="348.0" cy="322.5" r="1.1"/>
<circle cx="342.1" cy="327.4" r="1.1"/>
<circle cx="353.0" cy="328.0" r="1.1"/>
<circle cx="360.6" cy="324.7" r="1.1"/>
<circle cx="341.1" cy="317.9" r="1.1"/>
<circle cx="341.0" cy="320.8" r="1.1"/>
<circle cx="340.9" cy="325.3" r="1.1"/>
<circle cx="341.2" cy="325.0" r="1.1"/>
<circle cx="355.4" cy="316.7" r="1.1"/>
<circle cx="358.8" cy="316.8" r="1.1"/>
<circle cx="351.7" cy="315.8" r="1.1"/>
<circle cx="347.7" cy="317.0" r="1.1"/>
<circle cx="355.1" cy="330.6" r="1.1"/>
<circle cx="355.5" cy="313.7" r="1.1"/>
<circle cx="342.8" cy="327.1" r="1.1"/>
<circle cx="339.1" cy="302.7" r="1.1"/>
<circle cx="359.7" cy="294.5" r="1.1"/>
<circle cx="352.0" cy="296.0" r="1.1"/>
<circle cx="350.6" cy="295.7" r="1.1"/>
<circle cx="351.9" cy="300.5" r="1.1"/>
<circle cx="348.0" cy="294.2" r="1.1"/>
<circle cx="360.2" cy="289.8" r="1.1"/>
<circle cx="342.8" cy="292.7" r="1.1"/>
<circle cx="354.7" cy="307.6" r="1.1"/>
<circle cx="355.8" cy="296.3" r="1.1"/>
<circle cx="339.4" cy="297.4" r="1.1"/>
<circle cx="351.1" cy="290.6" r="1.1"/>
<circle cx="346.8" cy="305.0" r="1.1"/>
<circle cx="353.8" cy="289.0" r="1.1"/>
<circle cx="341.3" cy="307.4" r="1.1"/>
<circle cx="361.8" cy="296.6" r="1.1"/>
<circle cx="351.5" cy="292.0" r="1.1"/>
<circle cx="346.6" cy="307.1" r="1.1"/>
<circle cx="344.1" cy="309.8" r="1.1"/>
<circle cx="361.3" cy="291.1" r="1.1"/>
<circle cx="339.4" cy="304.9" r="1.1"/>
<circle cx="355.3" cy="300.6" r="1.1"/>
<circle cx="347.3" cy="303.1" r="1.1"/>
<circle cx="342.4" cy="289.9" r="1.1"/>
<circle cx="355.0" cy="307.4" r="1.1"/>
<circle cx="358.7" cy="301.2" r="1.1"/>
<circle cx="344.0" cy="290.9" r="1.1"/>
<circle cx="339.3" cy="293.2" r="1.1"/>
<circle cx="351.0" cy="302.3" r="1.1"/>
<circle cx="341.9" cy="309.5" r="1.1"/>
<circle cx="343.0" cy="307.7" r="1.1"/>
<circle cx="343.6" cy="302.4" r="1.1"/>
<circle cx="340.1" cy="309.8" r="1.1"/>
<circle cx="350.7" cy="293.5" r="1.1"/>
<circle cx="352.1" cy="308.8" r="1.1"/>
<circle cx="348.0" cy="305.1" r="1.1"/>
<circle cx="359.1" cy="295.1" r="1.1"/>
<circle cx="355.1" cy="291.0" r="1.1"/>
<circle cx="352.8" cy="293.5" r="1.1"/>
<circle cx="355.0" cy="305.6" r="1.1"/>
<circle cx="341.4" cy="301.4" r="1.1"/>
<circle cx="345.9" cy="300.3" r="1.1"/>
<circle cx="347.6" cy="292.5" r="1.1"/>
<circle cx="349.6" cy="297.6" r="1.1"/>
<circle cx="354.8" cy="292.0" r="1.1"/>
<circle cx="360.4" cy="292.2" r="1.1"/>
<circle cx="350.5" cy="301.6" r="1.1"/>
<circle cx="352.1" cy="301.1" r="1.1"/>
<circle cx="348.2" cy="306.6" r="1.1"/>
<circle cx="347.0" cy="312.1" r="1.1"/>
<circle cx="339.5" cy="309.3" r="1.1"/>
<circle cx="358.7" cy="305.3" r="1.1"/>
<circle cx="352.7" cy="292.7" r="1.1"/>
<circle cx="355.6" cy="308.2" r="1.1"/>
<circle cx="352.0" cy="304.5" r="1.1"/>
<circle cx="361.6" cy="311.7" r="1.1"/>
<circle cx="352.1" cy="293.2" r="1.1"/>
<circle cx="339.6" cy="307.2" r="1.1"/>
<circle cx="345.4" cy="295.2" r="1.1"/>
<circle cx="342.9" cy="312.4" r="1.1"/>
<circle cx="360.7" cy="298.7" r="1.1"/>
<circle cx="342.1" cy="299.4" r="1.1"/>
<circle cx="355.9" cy="288.0" r="1.1"/>
<circle cx="351.2" cy="302.4" r="1.1"/>
<circle cx="351.4" cy="294.5" r="1.1"/>
<circle cx="360.1" cy="298.5" r="1.1"/>
<circle cx="355.1" cy="308.7" r="1.1"/>
<circle cx="358.2" cy="299.1" r="1.1"/>
<circle cx="355.2" cy="292.8" r="1.1"/>
<circle cx="340.9" cy="291.6" r="1.1"/>
<circle cx="340.6" cy="311.4" r="1.1"/>
<circle cx="339.8" cy="299.6" r="1.1"/>
<circle cx="358.9" cy="307.9" r="1.1"/>
<circle cx="340.1" cy="303.9" r="1.1"/>
<circle cx="355.8" cy="308.5" r="1.1"/>
<circle cx="349.2" cy="299.9" r="1.1"/>
<circle cx="358.2" cy="293.0" r="1.1"/>
<circle cx="360.8" cy="305.6" r="1.1"/>
<circle cx="357.0" cy="292.5" r="1.1"/>
<circle cx="346.8" cy="307.8" r="1.1"/>
<circle cx="361.8" cy="298.1" r="1.1"/>
<circle cx="343.2" cy="296.3" r="1.1"/>
<circle cx="338.9" cy="293.9" r="1.1"/>
<circle cx="349.9" cy="292.2" r="1.1"/>
<circle cx="351.3" cy="297.9" r="1.1"/>
<circle cx="344.5" cy="302.7" r="1.1"/>
<circle cx="357.9" cy="288.3" r="1.1"/>
<circle cx="351.6" cy="297.6" r="1.1"/>
<circle cx="345.6" cy="294.1" r="1.1"/>
<circle cx="355.3" cy="301.9" r="1.1"/>
<circle cx="346.9" cy="312.4" r="1.1"/>
<circle cx="341.9" cy="309.1" r="1.1"/>
<circle cx="344.0" cy="312.0" r="1.1"/>
<circle cx="350.0" cy="294.9" r="1.1"/>
<circle cx="360.3" cy="292.2" r="1.1"/>
<circle cx="357.5" cy="300.5" r="1.1"/>
<circle cx="343.9" cy="306.8" r="1.1"/>
<circle cx="352.4" cy="297.1" r="1.1"/>
<circle cx="349.1" cy="312.0" r="1.1"/>
<circle cx="355.4" cy="296.3" r="1.1"/>
<circle cx="347.5" cy="307.7" r="1.1"/>
<circle cx="342.3" cy="304.7" r="1.1"/>
<circle cx="357.1" cy="300.2" r="1.1"/>
<circle cx="347.6" cy="295.7" r="1.1"/>
<circle cx="351.6" cy="304.1" r="1.1"/>
<circle cx="346.5" cy="304.1" r="1.1"/>
<circle cx="352.7" cy="289.7" r="1.1"/>
<circle cx="342.8" cy="310.0" r="1.1"/>
<circle cx="361.6" cy="304.4" r="1.1"/>
<circle cx="343.1" cy="305.0" r="1.1"/>
<circle cx="361.0" cy="297.8" r="1.1"/>
<circle cx="356.3" cy="288.0" r="1.1"/>
<circle cx="352.3" cy="293.5" r="1.1"/>
<circle cx="341.2" cy="288.0" r="1.1"/>
<circle cx="356.3" cy="292.4" r="1.1"/>
<circle cx="340.0" cy="294.8" r="1.1"/>
<circle cx="361.0" cy="312.5" r="1.1"/>
<circle cx="342.8" cy="305.4" r="1.1"/>
<circle cx="361.7" cy="299.4" r="1.1"/>
<circle cx="341.5" cy="298.2" r="1.1"/>
<circle cx="340.4" cy="300.0" r="1.1"/>
<circle cx="341.0" cy="311.3" r="1.1"/>
<circle cx="345.4" cy="311.5" r="1.1"/>
<circle cx="345.4" cy="300.5" r="1.1"/>
<circle cx="351.4" cy="298.8" r="1.1"/>
<circle cx="346.6" cy="305.3" r="1.1"/>
<circle cx="352.7" cy="299.1" r="1.1"/>
<circle cx="345.5" cy="299.4" r="1.1"/>
<circle cx="356.3" cy="288.7" r="1.1"/>
<circle cx="356.9" cy="296.8" r="1.1"/>
<circle cx="361.2" cy="293.8" r="1.1"/>
<circle cx="341.2" cy="300.6" r="1.1"/>
<circle cx="348.5" cy="308.0" r="1.1"/>
<circle cx="339.5" cy="289.0" r="1.1"/>
<circle cx="358.6" cy="295.9" r="1.1"/>
<circle cx="342.2" cy="301.6" r="1.1"/>
<circle cx="343.7" cy="306.5" r="1.1"/>
<circle cx="340.7" cy="289.6" r="1.1"/>
<circle cx="357.9" cy="307.8" r="1.1"/>
<circle cx="352.9" cy="305.3" r="1.1"/>
<circle cx="351.9" cy="308.5" r="1.1"/>
<circle cx="346.3" cy="301.0" r="1.1"/>
<circle cx="348.4" cy="290.6" r="1.1"/>
<circle cx="351.1" cy="295.7" r="1.1"/>
<circle cx="348.9" cy="292.5" r="1.1"/>
<circle cx="352.5" cy="309.9" r="1.1"/>
<circle cx="346.1" cy="290.1" r="1.1"/>
<circle cx="348.0" cy="298.4" r="1.1"/>
<circle cx="341.3" cy="310.9" r="1.1"/>
<circle cx="348.3" cy="304.8" r="1.1"/>
<circle cx="339.6" cy="290.9" r="1.1"/>
<circle cx="343.9" cy="294.0" r="1.1"/>
<circle cx="346.2" cy="302.1" r="1.1"/>
<circle cx="359.1" cy="292.3" r="1.1"/>
<circle cx="355.4" cy="311.7" r="1.1"/>
<circle cx="344.9" cy="299.5" r="1.1"/>
<circle cx="360.8" cy="307.2" r="1.1"/>
<circle cx="353.5" cy="296.6" r="1.1"/>
<circle cx="347.5" cy="289.5" r="1.1"/>
<circle cx="349.9" cy="301.9" r="1.1"/>
<circle cx="345.3" cy="312.2" r="1.1"/>
<circle cx="351.4" cy="302.2" r="1.1"/>
<circle cx="355.4" cy="302.2" r="1.1"/>
<circle cx="340.4" cy="295.2" r="1.1"/>
<circle cx="345.1" cy="307.5" r="1.1"/>
<circle cx="350.5" cy="293.8" r="1.1"/>
<circle cx="345.7" cy="312.5" r="1.1"/>
<circle cx="342.8" cy="273.3" r="1.1"/>
<circle cx="339.6" cy="287.1" r="1.1"/>
<circle cx="348.5" cy="284.6" r="1.1"/>
<circle cx="348.6" cy="269.8" r="1.1"/>
<circle cx="350.6" cy="286.9" r="1.1"/>
<circle cx="345.2" cy="269.2" r="1.1"/>
<circle cx="356.7" cy="285.7" r="1.1"/>
<circle cx="356.1" cy="264.5" r="1.1"/>
<circle cx="349.4" cy="279.2" r="1.1"/>
<circle cx="338.7" cy="280.7" r="1.1"/>
<circle cx="356.3" cy="278.1" r="1.1"/>
<circle cx="350.2" cy="271.1" r="1.1"/>
<circle cx="343.1" cy="276.5" r="1.1"/>
<circle cx="353.8" cy="279.2" r="1.1"/>
<circle cx="343.7" cy="265.9" r="1.1"/>
<circle cx="359.6" cy="278.3" r="1.1"/>
<circle cx="340.3" cy="262.7" r="1.1"/>
<circle cx="348.6" cy="268.0" r="1.1"/>
<circle cx="351.3" cy="282.4" r="1.1"/>
<circle cx="347.6" cy="286.3" r="1.1"/>
<circle cx="358.9" cy="282.3" r="1.1"/>
<circle cx="344.3" cy="265.7" r="1.1"/>
<circle cx="352.5" cy="279.5" r="1.1"/>
<circle cx="360.8" cy="285.7" r="1.1"/>
<circle cx="348.1" cy="279.1" r="1.1"/>
<circle cx="345.5" cy="272.4" r="1.1"/>
<circle cx="339.5" cy="283.5" r="1.1"/>
<circle cx="340.3" cy="269.5" r="1.1"/>
<circle cx="357.1" cy="266.6" r="1.1"/>
<circle cx="339.9" cy="278.5" r="1.1"/>
<circle cx="353.5" cy="267.7" r="1.1"/>
<circle cx="357.2" cy="285.6" r="1.1"/>
<circle cx="348.6" cy="286.1" r="1.1"/>
<circle cx="340.8" cy="266.5" r="1.1"/>
<circle cx="348.1" cy="268.4" r="1.1"/>
<circle cx="353.9" cy="278.8" r="1.1"/>
<circle cx="360.6" cy="285.4" r="1.1"/>
<circle cx="356.4" cy="282.4" r="1.1"/>
<circle cx="356.4" cy="287.4" r="1.1"/>
<circle cx="355.7" cy="265.5" r="1.1"/>
<circle cx="338.7" cy="285.6" r="1.1"/>
<circle cx="341.3" cy="274.2" r="1.1"/>
<circle cx="355.6" cy="276.4" r="1.1"/>
<circle cx="359.6" cy="269.1" r="1.1"/>
<circle cx="347.5" cy="272.0" r="1.1"/>
<circle cx="354.7" cy="271.4" r="1.1"/>
<circle cx="344.9" cy="281.1" r="1.1"/>
<circle cx="354.7" cy="278.5" r="1.1"/>
<circle cx="359.6" cy="282.2" r="1.1"/>
<circle cx="348.2" cy="264.0" r="1.1"/>
<circle cx="355.7" cy="274.4" r="1.1"/>
<circle cx="361.6" cy="281.1" r="1.1"/>
<circle cx="351.7" cy="268.8" r="1.1"/>
<circle cx="344.9" cy="265.0" r="1.1"/>
<circle cx="344.5" cy="273.5" r="1.1"/>
<circle cx="340.9" cy="283.1" r="1.1"/>
<circle cx="348.6" cy="271.2" r="1.1"/>
<circle cx="340.2" cy="276.5" r="1.1"/>
<circle cx="360.0" cy="284.1" r="1.1"/>
<circle cx="346.4" cy="271.4" r="1.1"/>
<circle cx="355.5" cy="270.5" r="1.1"/>
<circle cx="354.9" cy="278.0" r="1.1"/>
<circle cx="349.3" cy="287.6" r="1.1"/>
<circle cx="355.6" cy="287.5" r="1.1"/>
<circle cx="355.1" cy="263.8" r="1.1"/>
<circle cx="359.0" cy="272.5" r="1.1"/>
<circle cx="357.5" cy="270.8" r="1.1"/>
<circle cx="359.6" cy="284.2" r="1.1"/>
<circle cx="351.9" cy="273.3" r="1.1"/>
<circle cx="349.9" cy="267.3" r="1.1"/>
<circle cx="346.3" cy="276.0" r="1.1"/>
<circle cx="358.7" cy="264.7" r="1.1"/>
<circle cx="339.2" cy="267.0" r="1.1"/>
<circle cx="350.5" cy="274.2" r="1.1"/>
<circle cx="338.7" cy="267.5" r="1.1"/>
<circle cx="341.6" cy="268.6" r="1.1"/>
<circle cx="341.0" cy="279.0" r="1.1"/>
<circle cx="341.9" cy="273.9" r="1.1"/>
<circle cx="342.1" cy="276.9" r="1.1"/>
<circle cx="346.7" cy="284.7" r="1.1"/>
<circle cx="343.7" cy="275.9" r="1.1"/>
<circle cx="345.2" cy="280.0" r="1.1"/>
<circle cx="354.5" cy="270.6" r="1.1"/>
<circle cx="353.3" cy="262.7" r="1.1"/>
<circle cx="349.6" cy="279.3" r="1.1"/>
<circle cx="345.9" cy="285.4" r="1.1"/>
<circle cx="340.2" cy="278.5" r="1.1"/>
<circle cx="349.8" cy="266.1" r="1.1"/>
<circle cx="351.3" cy="281.2" r="1.1"/>
<circle cx="346.0" cy="274.1" r="1.1"/>
<circle cx="355.9" cy="283.8" r="1.1"/>
<circle cx="357.8" cy="265.6" r="1.1"/>
<circle cx="342.5" cy="274.0" r="1.1"/>
<circle cx="351.8" cy="278.1" r="1.1"/>
<circle cx="340.3" cy="263.5" r="1.1"/>
<circle cx="361.4" cy="284.0" r="1.1"/>
<circle cx="355.6" cy="280.0" r="1.1"/>
<circle cx="357.0" cy="282.9" r="1.1"/>
<circle cx="338.9" cy="280.4" r="1.1"/>
<circle cx="355.5" cy="280.9" r="1.1"/>
<circle cx="349.4" cy="272.1" r="1.1"/>
<circle cx="351.3" cy="281.9" r="1.1"/>
<circle cx="341.4" cy="273.8" r="1.1"/>
<circle cx="347.0" cy="279.4" r="1.1"/>
<circle cx="351.0" cy="285.1" r="1.1"/>
<circle cx="342.4" cy="282.0" r="1.1"/>
<circle cx="342.3" cy="282.4" r="1.1"/>
<circle cx="341.3" cy="275.1" r="1.1"/>
<circle cx="342.8" cy="269.2" r="1.1"/>
<circle cx="359.2" cy="277.5" r="1.1"/>
<circle cx="358.5" cy="272.2" r="1.1"/>
<circle cx="357.7" cy="276.3" r="1.1"/>
<circle cx="348.1" cy="277.6" r="1.1"/>
<circle cx="351.5" cy="277.8" r="1.1"/>
<circle cx="357.2" cy="273.0" r="1.1"/>
<circle cx="350.5" cy="270.9" r="1.1"/>
<circle cx="359.2" cy="279.9" r="1.1"/>
<circle cx="350.5" cy="273.8" r="1.1"/>
<circle cx="355.7" cy="280.6" r="1.1"/>
<circle cx="339.1" cy="264.4" r="1.1"/>
<circle cx="355.3" cy="285.9" r="1.1"/>
<circle cx="356.5" cy="253.7" r="1.1"/>
<circle cx="351.9" cy="249.5" r="1.1"/>
<circle cx="354.3" cy="248.5" r="1.1"/>
<circle cx="349.7" cy="256.3" r="1.1"/>
<circle cx="353.8" cy="243.3" r="1.1"/>
<circle cx="351.0" cy="240.7" r="1.1"/>
<circle cx="339.7" cy="251.5" r="1.1"/>
<circle cx="339.2" cy="245.3" r="1.1"/>
<circle cx="346.0" cy="259.4" r="1.1"/>
<circle cx="348.8" cy="248.4" r="1.1"/>
<circle cx="341.3" cy="260.7" r="1.1"/>
<circle cx="339.5" cy="239.8" r="1.1"/>
<circle cx="356.4" cy="254.1" r="1.1"/>
<circle cx="348.0" cy="260.7" r="1.1"/>
<circle cx="357.4" cy="259.6" r="1.1"/>
<circle cx="350.9" cy="250.2" r="1.1"/>
<circle cx="350.8" cy="259.7" r="1.1"/>
<circle cx="360.8" cy="240.6" r="1.1"/>
<circle cx="348.9" cy="254.9" r="1.1"/>
<circle cx="355.4" cy="248.4" r="1.1"/>
<circle cx="341.6" cy="251.7" r="1.1"/>
<circle cx="359.8" cy="243.9" r="1.1"/>
<circle cx="350.5" cy="251.0" r="1.1"/>
<circle cx="353.1" cy="242.8" r="1.1"/>
<circle cx="357.8" cy="254.3" r="1.1"/>
<circle cx="345.5" cy="244.4" r="1.1"/>
<circle cx="353.2" cy="249.2" r="1.1"/>
<circle cx="348.8" cy="250.5" r="1.1"/>
<circle cx="358.2" cy="255.9" r="1.1"/>
<circle cx="361.1" cy="255.6" r="1.1"/>
<circle cx="348.6" cy="253.9" r="1.1"/>
<circle cx="345.9" cy="257.3" r="1.1"/>
<circle cx="355.0" cy="250.9" r="1.1"/>
<circle cx="360.4" cy="247.2" r="1.1"/>
<circle cx="351.3" cy="258.1" r="1.1"/>
<circle cx="355.9" cy="259.7" r="1.1"/>
<circle cx="344.7" cy="254.1" r="1.1"/>
<circle cx="359.8" cy="250.9" r="1.1"/>
<circle cx="347.8" cy="260.7" r="1.1"/>
<circle cx="347.0" cy="243.4" r="1.1"/>
<circle cx="343.0" cy="259.1" r="1.1"/>
<circle cx="356.7" cy="261.0" r="1.1"/>
<circle cx="360.1" cy="258.7" r="1.1"/>
<circle cx="347.6" cy="259.8" r="1.1"/>
<circle cx="379.9" cy="322.4" r="1.1"/>
<circle cx="383.3" cy="336.8" r="1.1"/>
<circle cx="362.3" cy="314.1" r="1.1"/>
<circle cx="376.7" cy="323.1" r="1.1"/>
<circle cx="369.3" cy="313.9" r="1.1"/>
<circle cx="363.8" cy="336.4" r="1.1"/>
<circle cx="362.6" cy="315.3" r="1.1"/>
<circle cx="369.0" cy="313.3" r="1.1"/>
<circle cx="367.6" cy="335.9" r="1.1"/>
<circle cx="376.0" cy="320.6" r="1.1"/>
<circle cx="383.6" cy="316.5" r="1.1"/>
<circle cx="375.3" cy="323.6" r="1.1"/>
<circle cx="384.9" cy="318.9" r="1.1"/>
<circle cx="368.8" cy="320.1" r="1.1"/>
<circle cx="376.9" cy="314.2" r="1.1"/>
<circle cx="381.9" cy="337.9" r="1.1"/>
<circle cx="362.3" cy="313.5" r="1.1"/>
<circle cx="364.9" cy="323.3" r="1.1"/>
<circle cx="377.3" cy="328.1" r="1.1"/>
<circle cx="367.3" cy="290.2" r="1.1"/>
<circle cx="369.7" cy="302.6" r="1.1"/>
<circle cx="374.0" cy="288.2" r="1.1"/>
<circle cx="367.4" cy="294.0" r="1.1"/>
<circle cx="368.6" cy="302.4" r="1.1"/>
<circle cx="367.9" cy="299.3" r="1.1"/>
<circle cx="369.1" cy="298.7" r="1.1"/>
<circle cx="373.6" cy="288.5" r="1.1"/>
<circle cx="381.4" cy="290.9" r="1.1"/>
<circle cx="380.3" cy="295.7" r="1.1"/>
<circle cx="366.3" cy="291.4" r="1.1"/>
<circle cx="367.2" cy="292.4" r="1.1"/>
<circle cx="376.4" cy="303.4" r="1.1"/>
<circle cx="381.9" cy="294.2" r="1.1"/>
<circle cx="366.0" cy="296.7" r="1.1"/>
<circle cx="371.6" cy="291.7" r="1.1"/>
<circle cx="370.2" cy="308.4" r="1.1"/>
<circle cx="367.3" cy="296.3" r="1.1"/>
<circle cx="378.8" cy="303.0" r="1.1"/>
<circle cx="364.0" cy="310.3" r="1.1"/>
<circle cx="364.4" cy="312.5" r="1.1"/>
<circle cx="383.0" cy="297.5" r="1.1"/>
<circle cx="363.6" cy="298.4" r="1.1"/>
<circle cx="372.7" cy="302.3" r="1.1"/>
<circle cx="376.6" cy="291.1" r="1.1"/>
<circle cx="371.7" cy="291.6" r="1.1"/>
<circle cx="368.9" cy="309.0" r="1.1"/>
<circle cx="363.7" cy="289.0" r="1.1"/>
<circle cx="381.6" cy="301.9" r="1.1"/>
<circle cx="376.8" cy="295.6" r="1.1"/>
<circle cx="379.5" cy="289.2" r="1.1"/>
<circle cx="381.4" cy="298.7" r="1.1"/>
<circle cx="379.0" cy="291.5" r="1.1"/>
<circle cx="370.4" cy="288.3" r="1.1"/>
<circle cx="372.2" cy="312.0" r="1.1"/>
<circle cx="367.5" cy="292.5" r="1.1"/>
<circle cx="381.9" cy="291.4" r="1.1"/>
<circle cx="366.2" cy="312.3" r="1.1"/>
<circle cx="381.7" cy="288.7" r="1.1"/>
<circle cx="376.9" cy="304.8" r="1.1"/>
<circle cx="367.1" cy="308.4" r="1.1"/>
<circle cx="379.1" cy="289.4" r="1.1"/>
<circle cx="374.5" cy="305.2" r="1.1"/>
<circle cx="362.9" cy="299.2" r="1.1"/>
<circle cx="365.7" cy="305.0" r="1.1"/>
<circle cx="364.2" cy="302.7" r="1.1"/>
<circle cx="373.4" cy="301.9" r="1.1"/>
<circle cx="380.5" cy="287.7" r="1.1"/>
<circle cx="372.3" cy="293.0" r="1.1"/>
<circle cx="370.9" cy="291.8" r="1.1"/>
<circle cx="365.5" cy="310.7" r="1.1"/>
<circle cx="368.0" cy="295.7" r="1.1"/>
<circle cx="371.0" cy="291.9" r="1.1"/>
<circle cx="365.9" cy="300.6" r="1.1"/>
<circle cx="373.4" cy="289.6" r="1.1"/>
<circle cx="373.7" cy="305.1" r="1.1"/>
<circle cx="375.7" cy="301.5" r="1.1"/>
<circle cx="369.1" cy="288.0" r="1.1"/>
<circle cx="369.7" cy="298.2" r="1.1"/>
<circle cx="365.9" cy="303.3" r="1.1"/>
<circle cx="384.7" cy="292.4" r="1.1"/>
<circle cx="365.9" cy="290.9" r="1.1"/>
<circle cx="380.3" cy="309.7" r="1.1"/>
<circle cx="370.4" cy="292.3" r="1.1"/>
<circle cx="367.5" cy="294.7" r="1.1"/>
<circle cx="368.6" cy="298.0" r="1.1"/>
<circle cx="383.3" cy="303.5" r="1.1"/>
<circle cx="370.4" cy="308.5" r="1.1"/>
<circle cx="375.0" cy="299.6" r="1.1"/>
<circle cx="370.6" cy="302.7" r="1.1"/>
<circle cx="364.3" cy="307.9" r="1.1"/>
<circle cx="376.4" cy="290.8" r="1.1"/>
<circle cx="362.8" cy="312.9" r="1.1"/>
<circle cx="369.6" cy="295.7" r="1.1"/>
<circle cx="378.9" cy="298.2" r="1.1"/>
<circle cx="371.5" cy="310.4" r="1.1"/>
<circle cx="368.2" cy="285.7" r="1.1"/>
<circle cx="365.7" cy="271.2" r="1.1"/>
<circle cx="382.9" cy="268.4" r="1.1"/>
<circle cx="384.7" cy="281.3" r="1.1"/>
<circle cx="381.5" cy="274.2" r="1.1"/>
<circle cx="366.7" cy="275.2" r="1.1"/>
<circle cx="374.8" cy="275.0" r="1.1"/>
<circle cx="369.9" cy="279.4" r="1.1"/>
<circle cx="375.1" cy="276.5" r="1.1"/>
<circle cx="371.4" cy="268.2" r="1.1"/>
<circle cx="378.6" cy="282.5" r="1.1"/>
<circle cx="369.7" cy="284.5" r="1.1"/>
<circle cx="373.1" cy="282.9" r="1.1"/>
<circle cx="372.8" cy="275.3" r="1.1"/>
<circle cx="383.7" cy="274.6" r="1.1"/>
<circle cx="381.3" cy="269.9" r="1.1"/>
<circle cx="385.0" cy="280.3" r="1.1"/>
<circle cx="366.4" cy="269.0" r="1.1"/>
<circle cx="366.2" cy="276.6" r="1.1"/>
<circle cx="382.8" cy="284.5" r="1.1"/>
<circle cx="377.2" cy="263.4" r="1.1"/>
<circle cx="365.1" cy="263.3" r="1.1"/>
<circle cx="364.2" cy="279.9" r="1.1"/>
<circle cx="366.3" cy="276.4" r="1.1"/>
<circle cx="377.6" cy="284.7" r="1.1"/>
<circle cx="365.9" cy="281.1" r="1.1"/>
<circle cx="364.2" cy="287.0" r="1.1"/>
<circle cx="377.5" cy="284.5" r="1.1"/>
<circle cx="365.2" cy="287.4" r="1.1"/>
<circle cx="369.1" cy="281.5" r="1.1"/>
<circle cx="384.1" cy="265.2" r="1.1"/>
<circle cx="383.9" cy="262.4" r="1.1"/>
<circle cx="363.6" cy="273.6" r="1.1"/>
<circle cx="370.9" cy="271.5" r="1.1"/>
<circle cx="374.5" cy="268.0" r="1.1"/>
<circle cx="365.5" cy="274.5" r="1.1"/>
<circle cx="381.5" cy="285.7" r="1.1"/>
<circle cx="382.8" cy="278.8" r="1.1"/>
<circle cx="376.2" cy="287.0" r="1.1"/>
<circle cx="370.1" cy="272.9" r="1.1"/>
<circle cx="377.5" cy="279.1" r="1.1"/>
<circle cx="377.0" cy="274.1" r="1.1"/>
<circle cx="368.5" cy="281.0" r="1.1"/>
<circle cx="376.9" cy="285.2" r="1.1"/>
<circle cx="380.1" cy="280.2" r="1.1"/>
<circle cx="366.3" cy="271.6" r="1.1"/>
<circle cx="368.5" cy="263.1" r="1.1"/>
<circle cx="380.2" cy="269.9" r="1.1"/>
<circle cx="373.6" cy="266.0" r="1.1"/>
<circle cx="382.4" cy="268.2" r="1.1"/>
<circle cx="380.7" cy="270.8" r="1.1"/>
<circle cx="373.4" cy="271.0" r="1.1"/>
<circle cx="372.6" cy="271.5" r="1.1"/>
<circle cx="363.7" cy="270.6" r="1.1"/>
<circle cx="374.9" cy="281.4" r="1.1"/>
<circle cx="368.9" cy="287.1" r="1.1"/>
<circle cx="375.8" cy="265.1" r="1.1"/>
<circle cx="379.7" cy="280.5" r="1.1"/>
<circle cx="363.7" cy="274.3" r="1.1"/>
<circle cx="367.4" cy="286.6" r="1.1"/>
<circle cx="380.7" cy="263.2" r="1.1"/>
<circle cx="369.4" cy="272.7" r="1.1"/>
<circle cx="372.8" cy="274.9" r="1.1"/>
<circle cx="379.0" cy="269.9" r="1.1"/>
<circle cx="383.8" cy="275.2" r="1.1"/>
<circle cx="365.2" cy="285.0" r="1.1"/>
<circle cx="382.3" cy="282.1" r="1.1"/>
<circle cx="372.8" cy="269.1" r="1.1"/>
<circle cx="365.7" cy="270.3" r="1.1"/>
<circle cx="377.1" cy="284.7" r="1.1"/>
<circle cx="382.5" cy="274.2" r="1.1"/>
<circle cx="379.7" cy="272.2" r="1.1"/>
<circle cx="367.3" cy="272.2" r="1.1"/>
<circle cx="366.8" cy="278.0" r="1.1"/>
<circle cx="371.8" cy="284.7" r="1.1"/>
<circle cx="380.8" cy="265.3" r="1.1"/>
<circle cx="376.4" cy="268.3" r="1.1"/>
<circle cx="366.0" cy="274.2" r="1.1"/>
<circle cx="376.0" cy="266.6" r="1.1"/>
<circle cx="378.7" cy="279.4" r="1.1"/>
<circle cx="370.8" cy="269.7" r="1.1"/>
<circle cx="372.5" cy="270.1" r="1.1"/>
<circle cx="384.2" cy="273.1" r="1.1"/>
<circle cx="365.4" cy="266.1" r="1.1"/>
<circle cx="380.7" cy="281.4" r="1.1"/>
<circle cx="374.3" cy="287.3" r="1.1"/>
<circle cx="376.8" cy="279.2" r="1.1"/>
<circle cx="376.4" cy="286.6" r="1.1"/>
<circle cx="377.8" cy="271.5" r="1.1"/>
<circle cx="372.8" cy="278.0" r="1.1"/>
<circle cx="365.4" cy="263.2" r="1.1"/>
<circle cx="364.8" cy="285.1" r="1.1"/>
<circle cx="370.9" cy="274.0" r="1.1"/>
<circle cx="376.8" cy="283.2" r="1.1"/>
<circle cx="373.7" cy="276.2" r="1.1"/>
<circle cx="381.0" cy="274.2" r="1.1"/>
<circle cx="373.0" cy="266.0" r="1.1"/>
<circle cx="377.7" cy="281.7" r="1.1"/>
<circle cx="368.4" cy="278.6" r="1.1"/>
<circle cx="367.0" cy="267.4" r="1.1"/>
<circle cx="378.8" cy="283.1" r="1.1"/>
<circle cx="379.2" cy="252.0" r="1.1"/>
<circle cx="366.3" cy="241.7" r="1.1"/>
<circle cx="369.0" cy="257.5" r="1.1"/>
<circle cx="380.2" cy="258.6" r="1.1"/>
<circle cx="367.1" cy="255.4" r="1.1"/>
<circle cx="383.0" cy="256.5" r="1.1"/>
<circle cx="384.8" cy="241.6" r="1.1"/>
<circle cx="379.2" cy="256.9" r="1.1"/>
<circle cx="368.7" cy="256.4" r="1.1"/>
<circle cx="371.7" cy="243.0" r="1.1"/>
<circle cx="365.2" cy="239.0" r="1.1"/>
<circle cx="368.6" cy="258.9" r="1.1"/>
<circle cx="364.3" cy="249.2" r="1.1"/>
<circle cx="389.2" cy="326.8" r="1.1"/>
<circle cx="399.1" cy="329.3" r="1.1"/>
<circle cx="394.2" cy="327.5" r="1.1"/>
<circle cx="405.2" cy="313.5" r="1.1"/>
<circle cx="407.5" cy="335.2" r="1.1"/>
<circle cx="408.8" cy="337.6" r="1.1"/>
<circle cx="408.2" cy="314.3" r="1.1"/>
<circle cx="395.9" cy="326.9" r="1.1"/>
<circle cx="400.5" cy="319.4" r="1.1"/>
<circle cx="399.5" cy="298.6" r="1.1"/>
<circle cx="386.9" cy="308.8" r="1.1"/>
<circle cx="385.7" cy="300.5" r="1.1"/>
<circle cx="402.1" cy="288.5" r="1.1"/>
<circle cx="394.6" cy="301.8" r="1.1"/>
<circle cx="386.6" cy="295.2" r="1.1"/>
<circle cx="407.1" cy="304.2" r="1.1"/>
<circle cx="390.6" cy="292.8" r="1.1"/>
<circle cx="389.0" cy="289.5" r="1.1"/>
<circle cx="393.6" cy="304.4" r="1.1"/>
<circle cx="396.3" cy="290.9" r="1.1"/>
<circle cx="389.1" cy="303.9" r="1.1"/>
<circle cx="390.9" cy="305.8" r="1.1"/>
<circle cx="401.0" cy="296.7" r="1.1"/>
<circle cx="394.9" cy="289.5" r="1.1"/>
<circle cx="391.5" cy="293.6" r="1.1"/>
<circle cx="387.7" cy="305.3" r="1.1"/>
<circle cx="385.7" cy="306.9" r="1.1"/>
<circle cx="390.7" cy="309.2" r="1.1"/>
<circle cx="393.5" cy="288.5" r="1.1"/>
<circle cx="396.1" cy="299.4" r="1.1"/>
<circle cx="398.7" cy="288.8" r="1.1"/>
<circle cx="388.3" cy="296.6" r="1.1"/>
<circle cx="388.5" cy="305.8" r="1.1"/>
<circle cx="394.6" cy="308.8" r="1.1"/>
<circle cx="403.6" cy="304.6" r="1.1"/>
<circle cx="402.4" cy="298.7" r="1.1"/>
<circle cx="392.5" cy="291.9" r="1.1"/>
<circle cx="403.9" cy="304.2" r="1.1"/>
<circle cx="395.6" cy="289.0" r="1.1"/>
<circle cx="394.8" cy="291.9" r="1.1"/>
<circle cx="396.5" cy="297.8" r="1.1"/>
<circle cx="396.5" cy="303.0" r="1.1"/>
<circle cx="393.4" cy="311.1" r="1.1"/>
<circle cx="398.5" cy="312.1" r="1.1"/>
<circle cx="389.5" cy="292.8" r="1.1"/>
<circle cx="405.8" cy="307.9" r="1.1"/>
<circle cx="388.4" cy="288.5" r="1.1"/>
<circle cx="396.7" cy="302.4" r="1.1"/>
<circle cx="390.2" cy="290.7" r="1.1"/>
<circle cx="388.9" cy="296.0" r="1.1"/>
<circle cx="399.5" cy="292.9" r="1.1"/>
<circle cx="392.5" cy="295.1" r="1.1"/>
<circle cx="392.7" cy="298.0" r="1.1"/>
<circle cx="388.8" cy="307.8" r="1.1"/>
<circle cx="389.1" cy="296.7" r="1.1"/>
<circle cx="393.0" cy="262.9" r="1.1"/>
<circle cx="400.8" cy="270.2" r="1.1"/>
<circle cx="401.7" cy="272.8" r="1.1"/>
<circle cx="406.0" cy="263.4" r="1.1"/>
<circle cx="403.2" cy="275.4" r="1.1"/>
<circle cx="398.2" cy="276.3" r="1.1"/>
<circle cx="391.0" cy="274.3" r="1.1"/>
<circle cx="402.5" cy="266.8" r="1.1"/>
<circle cx="395.9" cy="271.2" r="1.1"/>
<circle cx="388.5" cy="276.4" r="1.1"/>
<circle cx="407.0" cy="277.5" r="1.1"/>
<circle cx="397.8" cy="268.1" r="1.1"/>
<circle cx="386.6" cy="271.0" r="1.1"/>
<circle cx="394.6" cy="270.1" r="1.1"/>
<circle cx="400.9" cy="283.9" r="1.1"/>
<circle cx="397.3" cy="283.7" r="1.1"/>
<circle cx="392.2" cy="267.8" r="1.1"/>
<circle cx="393.9" cy="271.8" r="1.1"/>
<circle cx="393.8" cy="269.8" r="1.1"/>
<circle cx="399.6" cy="285.0" r="1.1"/>
<circle cx="387.6" cy="272.7" r="1.1"/>
<circle cx="395.7" cy="265.8" r="1.1"/>
<circle cx="393.0" cy="286.6" r="1.1"/>
<circle cx="389.5" cy="277.4" r="1.1"/>
<circle cx="395.1" cy="287.4" r="1.1"/>
<circle cx="401.7" cy="282.7" r="1.1"/>
<circle cx="386.9" cy="275.0" r="1.1"/>
<circle cx="407.8" cy="269.7" r="1.1"/>
<circle cx="407.2" cy="277.4" r="1.1"/>
<circle cx="402.5" cy="280.8" r="1.1"/>
<circle cx="402.6" cy="274.6" r="1.1"/>
<circle cx="408.9" cy="266.4" r="1.1"/>
<circle cx="390.4" cy="273.5" r="1.1"/>
<circle cx="408.7" cy="279.0" r="1.1"/>
<circle cx="407.4" cy="263.2" r="1.1"/>
<circle cx="387.6" cy="277.7" r="1.1"/>
<circle cx="399.2" cy="274.5" r="1.1"/>
<circle cx="399.0" cy="278.0" r="1.1"/>
<circle cx="408.4" cy="268.4" r="1.1"/>
<circle cx="407.9" cy="287.2" r="1.1"/>
<circle cx="395.4" cy="271.6" r="1.1"/>
<circle cx="407.6" cy="272.2" r="1.1"/>
<circle cx="393.4" cy="278.2" r="1.1"/>
<circle cx="386.9" cy="287.0" r="1.1"/>
<circle cx="393.6" cy="271.5" r="1.1"/>
<circle cx="403.2" cy="262.8" r="1.1"/>
<circle cx="391.7" cy="263.3" r="1.1"/>
<circle cx="389.0" cy="278.0" r="1.1"/>
<circle cx="388.5" cy="276.0" r="1.1"/>
<circle cx="406.6" cy="275.6" r="1.1"/>
<circle cx="406.2" cy="284.0" r="1.1"/>
<circle cx="395.1" cy="286.3" r="1.1"/>
<circle cx="393.5" cy="275.1" r="1.1"/>
<circle cx="396.9" cy="273.4" r="1.1"/>
<circle cx="387.4" cy="284.1" r="1.1"/>
<circle cx="401.6" cy="263.2" r="1.1"/>
<circle cx="403.9" cy="278.2" r="1.1"/>
<circle cx="389.6" cy="285.9" r="1.1"/>
<circle cx="389.7" cy="271.4" r="1.1"/>
<circle cx="403.4" cy="280.6" r="1.1"/>
<circle cx="394.7" cy="273.4" r="1.1"/>
<circle cx="397.2" cy="278.1" r="1.1"/>
<circle cx="387.3" cy="280.6" r="1.1"/>
<circle cx="389.6" cy="284.1" r="1.1"/>
<circle cx="395.7" cy="285.9" r="1.1"/>
<circle cx="404.6" cy="268.0" r="1.1"/>
<circle cx="397.2" cy="272.2" r="1.1"/>
<circle cx="392.0" cy="270.5" r="1.1"/>
<circle cx="399.1" cy="268.5" r="1.1"/>
<circle cx="398.9" cy="275.4" r="1.1"/>
<circle cx="390.3" cy="273.6" r="1.1"/>
<circle cx="404.6" cy="269.6" r="1.1"/>
<circle cx="397.4" cy="270.8" r="1.1"/>
<circle cx="402.8" cy="272.4" r="1.1"/>
<circle cx="403.3" cy="254.9" r="1.1"/>
<circle cx="392.1" cy="257.5" r="1.1"/>
<circle cx="392.9" cy="239.5" r="1.1"/>
<circle cx="394.6" cy="254.0" r="1.1"/>
<circle cx="402.3" cy="257.8" r="1.1"/>
<circle cx="391.4" cy="255.8" r="1.1"/>
<circle cx="407.9" cy="259.7" r="1.1"/>
<circle cx="386.1" cy="248.7" r="1.1"/>
<circle cx="390.1" cy="260.6" r="1.1"/>
<circle cx="396.9" cy="245.4" r="1.1"/>
<circle cx="57.6" cy="340.0" r="0.9"/>
<circle cx="167.3" cy="284.7" r="1.2"/>
<circle cx="219.6" cy="273.0" r="0.9"/>
<circle cx="156.3" cy="391.2" r="0.9"/>
<circle cx="208.7" cy="297.9" r="1.1"/>
<circle cx="215.2" cy="295.7" r="1.1"/>
<circle cx="180.9" cy="303.5" r="1.1"/>
<circle cx="182.9" cy="306.9" r="1.1"/>
<circle cx="211.3" cy="306.9" r="1.1"/>
<circle cx="172.4" cy="316.2" r="1.1"/>
<circle cx="163.0" cy="318.1" r="1.1"/>
<circle cx="180.0" cy="313.7" r="1.1"/>
<circle cx="189.0" cy="315.7" r="1.1"/>
<circle cx="191.9" cy="313.7" r="1.1"/>
<circle cx="198.2" cy="314.5" r="1.1"/>
<circle cx="207.9" cy="313.7" r="1.1"/>
<circle cx="210.4" cy="310.8" r="1.1"/>
<circle cx="214.5" cy="313.2" r="1.1"/>
<circle cx="216.9" cy="315.7" r="1.1"/>
<circle cx="219.3" cy="318.1" r="1.1"/>
<circle cx="210.8" cy="319.3" r="1.1"/>
<circle cx="183.6" cy="323.5" r="1.1"/>
<circle cx="185.8" cy="323.5" r="1.1"/>
<circle cx="193.3" cy="324.7" r="1.1"/>
<circle cx="194.3" cy="326.6" r="1.1"/>
<circle cx="192.6" cy="330.7" r="1.1"/>
<circle cx="191.4" cy="333.2" r="1.1"/>
<circle cx="159.8" cy="325.9" r="1.1"/>
<circle cx="161.8" cy="327.1" r="1.1"/>
<circle cx="146.0" cy="330.3" r="1.1"/>
<circle cx="154.5" cy="332.7" r="1.1"/>
<circle cx="175.1" cy="332.0" r="1.1"/>
<circle cx="177.5" cy="332.7" r="1.1"/>
<circle cx="185.3" cy="330.7" r="1.1"/>
<circle cx="189.0" cy="330.3" r="1.1"/>
<circle cx="189.5" cy="334.4" r="1.1"/>
<circle cx="192.1" cy="334.4" r="1.1"/>
<circle cx="197.5" cy="332.0" r="1.1"/>
<circle cx="201.1" cy="334.9" r="1.1"/>
<circle cx="205.5" cy="324.7" r="1.1"/>
<circle cx="207.2" cy="328.3" r="1.1"/>
<circle cx="209.6" cy="325.4" r="1.1"/>
<circle cx="212.1" cy="327.1" r="1.1"/>
<circle cx="214.0" cy="325.4" r="1.1"/>
<circle cx="208.9" cy="330.7" r="1.1"/>
<circle cx="212.1" cy="332.0" r="1.1"/>
<circle cx="216.9" cy="328.8" r="1.1"/>
<circle cx="220.1" cy="332.0" r="1.1"/>
<circle cx="218.1" cy="334.4" r="1.1"/>
<circle cx="215.7" cy="321.0" r="1.1"/>
<circle cx="220.6" cy="323.5" r="1.1"/>
<circle cx="173.9" cy="336.8" r="1.1"/>
<circle cx="180.7" cy="335.6" r="1.1"/>
<circle cx="197.5" cy="338.5" r="1.1"/>
<circle cx="205.3" cy="338.0" r="1.1"/>
<circle cx="210.4" cy="338.8" r="1.1"/>
<circle cx="214.5" cy="340.9" r="1.1"/>
<circle cx="217.4" cy="342.4" r="1.1"/>
<circle cx="220.6" cy="341.7" r="1.1"/>
<circle cx="164.7" cy="346.3" r="1.1"/>
<circle cx="172.7" cy="344.4" r="1.1"/>
<circle cx="178.0" cy="349.0" r="1.1"/>
<circle cx="181.7" cy="349.0" r="1.1"/>
<circle cx="174.4" cy="351.9" r="1.1"/>
<circle cx="185.3" cy="352.6" r="1.1"/>
<circle cx="189.0" cy="344.6" r="1.1"/>
<circle cx="192.1" cy="343.6" r="1.1"/>
<circle cx="195.8" cy="345.3" r="1.1"/>
<circle cx="199.9" cy="346.5" r="1.1"/>
<circle cx="207.2" cy="344.1" r="1.1"/>
<circle cx="209.6" cy="347.3" r="1.1"/>
<circle cx="212.5" cy="345.3" r="1.1"/>
<circle cx="213.8" cy="349.0" r="1.1"/>
<circle cx="215.7" cy="349.7" r="1.1"/>
<circle cx="217.6" cy="346.5" r="1.1"/>
<circle cx="220.6" cy="350.7" r="1.1"/>
<circle cx="204.3" cy="357.0" r="1.1"/>
<circle cx="207.2" cy="359.4" r="1.1"/>
<circle cx="213.3" cy="355.0" r="1.1"/>
<circle cx="217.4" cy="357.5" r="1.1"/>
<circle cx="220.6" cy="358.7" r="1.1"/>
<circle cx="190.7" cy="361.1" r="1.1"/>
<circle cx="188.5" cy="364.3" r="1.1"/>
<circle cx="199.4" cy="362.8" r="1.1"/>
<circle cx="196.0" cy="366.7" r="1.1"/>
<circle cx="180.0" cy="368.4" r="1.1"/>
<circle cx="163.0" cy="364.3" r="1.1"/>
<circle cx="157.4" cy="364.3" r="1.1"/>
<circle cx="153.7" cy="366.0" r="1.1"/>
<circle cx="143.5" cy="372.5" r="1.1"/>
<circle cx="162.7" cy="376.9" r="1.1"/>
<circle cx="172.7" cy="377.9" r="1.1"/>
<circle cx="204.3" cy="369.1" r="1.1"/>
<circle cx="207.7" cy="369.1" r="1.1"/>
<circle cx="211.6" cy="366.5" r="1.1"/>
<circle cx="217.6" cy="373.8" r="1.1"/>
<circle cx="204.3" cy="376.9" r="1.1"/>
<circle cx="209.6" cy="380.1" r="1.1"/>
<circle cx="191.4" cy="382.5" r="1.1"/>
<circle cx="289.8" cy="224.9" r="1.1"/>
<circle cx="247.2" cy="252.3" r="1.2"/>
<circle cx="232.4" cy="259.6" r="1.2"/>
<circle cx="242.4" cy="278.3" r="1.0"/>
<circle cx="278.8" cy="252.6" r="1.2"/>
<circle cx="290.9" cy="258.5" r="1.2"/>
<circle cx="277.8" cy="262.2" r="1.3"/>
<circle cx="274.6" cy="273.8" r="1.2"/>
<circle cx="277.5" cy="272.9" r="1.2"/>
<circle cx="273.6" cy="278.5" r="1.1"/>
<circle cx="276.2" cy="278.5" r="1.1"/>
<circle cx="281.5" cy="282.9" r="1.1"/>
<circle cx="280.2" cy="286.0" r="1.1"/>
<circle cx="271.5" cy="286.0" r="1.1"/>
<circle cx="274.6" cy="286.0" r="1.1"/>
<circle cx="276.5" cy="287.2" r="1.1"/>
<circle cx="284.6" cy="287.2" r="1.2"/>
<circle cx="324.5" cy="239.5" r="1.1"/>
<circle cx="311.8" cy="249.3" r="1.1"/>
<circle cx="333.6" cy="240.2" r="1.1"/>
<circle cx="331.5" cy="243.1" r="1.2"/>
<circle cx="333.2" cy="243.9" r="1.2"/>
<circle cx="334.9" cy="244.7" r="1.2"/>
<circle cx="338.2" cy="241.8" r="1.2"/>
<circle cx="331.9" cy="248.5" r="1.1"/>
<circle cx="294.6" cy="251.8" r="1.0"/>
<circle cx="307.0" cy="253.9" r="1.0"/>
<circle cx="310.3" cy="257.8" r="1.1"/>
<circle cx="302.0" cy="255.9" r="1.0"/>
<circle cx="302.5" cy="258.4" r="1.1"/>
<circle cx="290.8" cy="258.4" r="1.1"/>
<circle cx="308.7" cy="261.9" r="1.0"/>
<circle cx="334.9" cy="255.1" r="1.1"/>
<circle cx="335.3" cy="257.6" r="1.1"/>
<circle cx="407.1" cy="197.0" r="1.1"/>
<circle cx="401.9" cy="201.9" r="1.3"/>
<circle cx="334.3" cy="207.9" r="1.0"/>
<circle cx="351.1" cy="209.6" r="1.0"/>
<circle cx="330.6" cy="214.0" r="1.1"/>
<circle cx="359.9" cy="217.0" r="1.0"/>
<circle cx="346.6" cy="221.0" r="1.0"/>
<circle cx="352.3" cy="223.6" r="1.3"/>
<circle cx="351.4" cy="224.7" r="1.1"/>
<circle cx="335.7" cy="228.3" r="1.0"/>
<circle cx="354.4" cy="226.3" r="1.0"/>
<circle cx="357.6" cy="227.0" r="1.0"/>
<circle cx="359.3" cy="230.7" r="1.3"/>
<circle cx="362.5" cy="227.0" r="1.1"/>
<circle cx="365.0" cy="229.6" r="1.0"/>
<circle cx="366.4" cy="222.3" r="1.2"/>
<circle cx="371.3" cy="225.5" r="1.1"/>
<circle cx="373.7" cy="209.6" r="1.1"/>
<circle cx="384.3" cy="208.1" r="1.0"/>
<circle cx="392.1" cy="216.6" r="1.0"/>
<circle cx="393.8" cy="219.8" r="1.1"/>
<circle cx="403.2" cy="220.1" r="1.0"/>
<circle cx="382.0" cy="220.1" r="1.0"/>
<circle cx="384.0" cy="222.6" r="1.1"/>
<circle cx="386.4" cy="222.3" r="1.1"/>
<circle cx="384.3" cy="226.8" r="1.1"/>
<circle cx="386.9" cy="226.7" r="1.1"/>
<circle cx="396.5" cy="230.1" r="1.1"/>
<circle cx="393.4" cy="233.2" r="1.0"/>
<circle cx="379.9" cy="231.2" r="1.2"/>
<circle cx="375.9" cy="233.2" r="1.2"/>
<circle cx="372.9" cy="234.5" r="1.1"/>
<circle cx="377.5" cy="234.5" r="1.1"/>
<circle cx="381.6" cy="235.3" r="1.2"/>
<circle cx="362.3" cy="236.1" r="1.0"/>
<circle cx="406.5" cy="236.4" r="1.1"/>
<circle cx="416.4" cy="290.2" r="1.1"/>
<circle cx="413.5" cy="296.7" r="1.1"/>
<circle cx="416.7" cy="303.5" r="1.1"/>
<circle cx="411.1" cy="307.7" r="1.1"/>
<circle cx="416.4" cy="320.3" r="1.1"/>
<circle cx="418.9" cy="311.3" r="1.1"/>
<circle cx="420.8" cy="316.2" r="1.1"/>
<circle cx="421.5" cy="290.2" r="1.1"/>
<circle cx="422.0" cy="299.2" r="1.1"/>
<circle cx="426.1" cy="292.3" r="1.1"/>
<circle cx="432.2" cy="294.8" r="1.1"/>
<circle cx="435.4" cy="290.4" r="1.1"/>
<circle cx="440.2" cy="298.7" r="1.1"/>
<circle cx="442.7" cy="298.4" r="1.1"/>
<circle cx="448.7" cy="293.8" r="1.1"/>
<circle cx="441.5" cy="310.8" r="1.1"/>
<circle cx="436.6" cy="315.7" r="1.1"/>
<circle cx="443.2" cy="317.6" r="1.1"/>
<circle cx="431.2" cy="325.9" r="1.1"/>
<circle cx="458.9" cy="304.0" r="1.1"/>
<circle cx="465.3" cy="290.4" r="1.1"/>
<circle cx="471.8" cy="307.2" r="1.1"/>
<circle cx="474.5" cy="301.6" r="1.1"/>
<circle cx="474.0" cy="311.3" r="1.1"/>
<circle cx="467.5" cy="318.1" r="1.1"/>
<circle cx="482.8" cy="289.9" r="1.1"/>
<circle cx="480.8" cy="308.4" r="1.1"/>
<circle cx="482.5" cy="309.6" r="1.1"/>
<circle cx="477.7" cy="324.9" r="1.1"/>
<circle cx="485.2" cy="321.8" r="1.1"/>
<circle cx="497.6" cy="332.7" r="1.1"/>
<circle cx="513.9" cy="311.3" r="1.1"/>
<circle cx="448.0" cy="344.6" r="1.1"/>
<circle cx="422.5" cy="349.7" r="1.1"/>
<circle cx="417.2" cy="187.9" r="1.1"/>
<circle cx="422.5" cy="194.5" r="1.2"/>
<circle cx="438.5" cy="193.8" r="1.1"/>
<circle cx="421.5" cy="200.1" r="0.9"/>
<circle cx="445.1" cy="202.5" r="1.2"/>
<circle cx="442.7" cy="208.4" r="1.2"/>
<circle cx="431.0" cy="209.3" r="1.1"/>
<circle cx="456.3" cy="210.8" r="1.1"/>
<circle cx="414.2" cy="220.0" r="1.2"/>
<circle cx="419.1" cy="220.8" r="1.1"/>
<circle cx="411.1" cy="225.4" r="1.1"/>
<circle cx="440.2" cy="229.0" r="1.2"/>
<circle cx="423.2" cy="237.0" r="1.1"/>
<circle cx="420.1" cy="237.5" r="1.1"/>
<circle cx="439.0" cy="233.9" r="1.2"/>
<circle cx="451.9" cy="237.8" r="1.1"/>
<circle cx="474.3" cy="235.3" r="1.1"/>
<circle cx="476.0" cy="234.6" r="1.1"/>
<circle cx="414.7" cy="249.7" r="1.2"/>
<circle cx="415.9" cy="248.7" r="1.1"/>
<circle cx="432.9" cy="244.8" r="1.1"/>
<circle cx="430.5" cy="249.7" r="1.1"/>
<circle cx="448.3" cy="248.7" r="1.1"/>
<circle cx="415.9" cy="252.8" r="1.1"/>
<circle cx="411.1" cy="255.3" r="1.1"/>
<circle cx="412.8" cy="258.9" r="1.1"/>
<circle cx="418.4" cy="258.9" r="1.1"/>
<circle cx="409.9" cy="261.3" r="1.1"/>
<circle cx="455.3" cy="259.4" r="1.1"/>
<circle cx="413.5" cy="266.9" r="1.1"/>
<circle cx="417.6" cy="265.7" r="1.1"/>
<circle cx="422.0" cy="269.1" r="1.1"/>
<circle cx="428.8" cy="269.8" r="1.1"/>
<circle cx="432.9" cy="269.8" r="1.1"/>
<circle cx="435.4" cy="273.0" r="1.1"/>
<circle cx="444.4" cy="267.4" r="1.1"/>
<circle cx="454.8" cy="268.6" r="1.1"/>
<circle cx="460.2" cy="267.4" r="1.1"/>
<circle cx="481.1" cy="266.9" r="1.1"/>
<circle cx="487.6" cy="275.4" r="1.1"/>
<circle cx="425.2" cy="277.1" r="1.1"/>
<circle cx="411.1" cy="280.8" r="1.1"/>
<circle cx="411.8" cy="283.2" r="1.1"/>
<circle cx="415.9" cy="285.1" r="1.1"/>
<circle cx="414.7" cy="286.4" r="1.1"/>
<circle cx="425.7" cy="281.3" r="1.1"/>
<circle cx="449.5" cy="280.3" r="1.1"/>
<circle cx="454.1" cy="285.1" r="1.1"/>
<circle cx="476.7" cy="284.4" r="1.1"/>
<circle cx="438.2" cy="55.4" r="1.1"/>
<circle cx="404.8" cy="94.5" r="1.1"/>
<circle cx="410.9" cy="97.4" r="1.3"/>
<circle cx="401.9" cy="152.8" r="1.1"/>
<circle cx="375.0" cy="155.4" r="1.3"/>
<circle cx="411.8" cy="163.2" r="1.1"/>
<circle cx="402.7" cy="181.2" r="1.2"/>
<circle cx="452.1" cy="136.7" r="1.0"/>
<circle cx="420.4" cy="159.8" r="1.1"/>
<circle cx="462.1" cy="156.8" r="1.1"/>
<circle cx="433.6" cy="165.4" r="1.1"/>
<circle cx="428.7" cy="185.6" r="1.1"/>
<circle cx="226.2" cy="364.7" r="1.1"/>
<circle cx="240.7" cy="363.9" r="1.1"/>
<circle cx="249.9" cy="365.0" r="1.1"/>
<circle cx="253.7" cy="364.7" r="1.1"/>
<circle cx="254.5" cy="364.3" r="1.1"/>
<circle cx="261.7" cy="364.4" r="1.1"/>
<circle cx="271.8" cy="364.3" r="1.1"/>
<circle cx="276.2" cy="369.5" r="1.1"/>
<circle cx="275.6" cy="372.1" r="1.1"/>
<circle cx="286.0" cy="364.9" r="1.1"/>
<circle cx="303.8" cy="364.3" r="1.1"/>
<circle cx="311.7" cy="367.4" r="1.1"/>
<circle cx="314.9" cy="366.8" r="1.1"/>
<circle cx="314.9" cy="379.4" r="1.1"/>
<circle cx="321.9" cy="365.5" r="1.1"/>
<circle cx="332.0" cy="372.1" r="1.1"/>
<circle cx="356.8" cy="366.8" r="1.1"/>
<circle cx="357.1" cy="369.9" r="1.1"/>
<circle cx="369.9" cy="365.2" r="1.1"/>
<circle cx="339.4" cy="340.6" r="1.1"/>
<circle cx="341.5" cy="342.8" r="1.1"/>
<circle cx="346.8" cy="339.7" r="1.1"/>
<circle cx="350.6" cy="342.2" r="1.1"/>
<circle cx="354.9" cy="340.9" r="1.1"/>
<circle cx="356.8" cy="345.5" r="1.1"/>
<circle cx="357.7" cy="352.1" r="1.1"/>
<circle cx="354.3" cy="355.9" r="1.1"/>
<circle cx="339.7" cy="355.9" r="1.1"/>
<circle cx="366.1" cy="339.9" r="1.1"/>
<circle cx="369.9" cy="348.0" r="1.1"/>
<circle cx="369.9" cy="358.9" r="1.1"/>
<circle cx="379.6" cy="345.2" r="1.1"/>
<circle cx="387.9" cy="339.9" r="1.1"/>
<circle cx="381.3" cy="358.9" r="1.1"/>
<circle cx="385.1" cy="361.4" r="1.1"/>
<circle cx="397.9" cy="355.5" r="1.1"/>
</g>
<g fill="#a6cee3" fill-opacity="0.7" stroke="#a6cee3" stroke-width="0.6" stroke-opacity="0.9">
<circle cx="233.1" cy="360.5" r="1.2"/>
<circle cx="242.0" cy="336.1" r="1.2"/>
<circle cx="225.4" cy="325.3" r="1.2"/>
<circle cx="239.8" cy="323.6" r="1.2"/>
<circle cx="221.8" cy="313.1" r="1.2"/>
<circle cx="242.7" cy="327.7" r="1.2"/>
<circle cx="241.3" cy="337.5" r="1.2"/>
<circle cx="240.4" cy="325.6" r="1.2"/>
<circle cx="235.8" cy="323.9" r="1.2"/>
<circle cx="234.8" cy="302.3" r="1.2"/>
<circle cx="232.0" cy="299.1" r="1.2"/>
<circle cx="224.4" cy="301.9" r="1.2"/>
<circle cx="243.0" cy="309.5" r="1.2"/>
<circle cx="229.0" cy="309.8" r="1.2"/>
<circle cx="234.2" cy="296.3" r="1.2"/>
<circle cx="267.5" cy="342.6" r="1.2"/>
<circle cx="250.0" cy="348.8" r="1.2"/>
<circle cx="262.9" cy="338.6" r="1.2"/>
<circle cx="264.0" cy="340.2" r="1.2"/>
<circle cx="261.6" cy="344.6" r="1.2"/>
<circle cx="248.3" cy="346.0" r="1.2"/>
<circle cx="246.5" cy="328.9" r="1.7"/>
<circle cx="247.9" cy="332.9" r="1.2"/>
<circle cx="247.9" cy="318.6" r="1.2"/>
<circle cx="264.9" cy="336.2" r="1.2"/>
<circle cx="251.5" cy="335.6" r="1.2"/>
<circle cx="262.9" cy="335.6" r="1.2"/>
<circle cx="267.9" cy="333.7" r="1.2"/>
<circle cx="264.1" cy="316.0" r="1.2"/>
<circle cx="267.5" cy="330.8" r="1.2"/>
<circle cx="250.6" cy="320.2" r="1.7"/>
<circle cx="246.9" cy="324.8" r="1.2"/>
<circle cx="247.2" cy="335.7" r="1.2"/>
<circle cx="265.6" cy="328.7" r="1.2"/>
<circle cx="266.8" cy="316.1" r="1.2"/>
<circle cx="265.7" cy="330.3" r="1.2"/>
<circle cx="257.8" cy="335.4" r="1.2"/>
<circle cx="248.3" cy="327.5" r="1.2"/>
<circle cx="268.1" cy="328.1" r="1.2"/>
<circle cx="264.5" cy="315.9" r="1.2"/>
<circle cx="263.3" cy="331.4" r="1.2"/>
<circle cx="267.8" cy="317.6" r="1.7"/>
<circle cx="248.2" cy="305.4" r="1.7"/>
<circle cx="249.4" cy="311.3" r="1.2"/>
<circle cx="256.0" cy="311.5" r="1.2"/>
<circle cx="265.2" cy="312.0" r="1.2"/>
<circle cx="257.4" cy="305.4" r="1.7"/>
<circle cx="262.6" cy="310.8" r="1.2"/>
<circle cx="263.8" cy="300.8" r="1.7"/>
<circle cx="250.2" cy="307.6" r="1.7"/>
<circle cx="263.0" cy="300.7" r="1.7"/>
<circle cx="274.3" cy="339.3" r="1.2"/>
<circle cx="287.9" cy="338.6" r="1.7"/>
<circle cx="286.3" cy="350.5" r="1.2"/>
<circle cx="284.2" cy="346.1" r="1.2"/>
<circle cx="270.8" cy="354.7" r="1.2"/>
<circle cx="272.7" cy="327.9" r="1.2"/>
<circle cx="271.6" cy="325.3" r="1.2"/>
<circle cx="281.7" cy="327.9" r="1.2"/>
<circle cx="281.3" cy="316.2" r="1.2"/>
<circle cx="279.9" cy="332.4" r="1.2"/>
<circle cx="272.2" cy="323.2" r="1.2"/>
<circle cx="272.1" cy="313.7" r="1.2"/>
<circle cx="286.7" cy="317.5" r="1.2"/>
<circle cx="289.2" cy="318.7" r="1.2"/>
<circle cx="284.2" cy="316.5" r="1.2"/>
<circle cx="283.4" cy="325.3" r="1.7"/>
<circle cx="284.9" cy="337.9" r="1.2"/>
<circle cx="270.6" cy="323.4" r="1.2"/>
<circle cx="274.0" cy="322.2" r="1.2"/>
<circle cx="285.8" cy="320.7" r="1.2"/>
<circle cx="278.0" cy="314.9" r="1.2"/>
<circle cx="279.3" cy="325.0" r="1.7"/>
<circle cx="291.2" cy="326.1" r="1.7"/>
<circle cx="275.1" cy="319.1" r="1.2"/>
<circle cx="283.8" cy="315.8" r="1.2"/>
<circle cx="274.1" cy="313.3" r="1.2"/>
<circle cx="279.0" cy="313.4" r="1.2"/>
<circle cx="281.9" cy="331.0" r="1.2"/>
<circle cx="268.6" cy="321.1" r="1.2"/>
<circle cx="290.0" cy="325.4" r="1.2"/>
<circle cx="291.0" cy="335.0" r="1.2"/>
<circle cx="277.4" cy="323.7" r="1.2"/>
<circle cx="270.4" cy="312.9" r="1.2"/>
<circle cx="288.0" cy="297.8" r="1.2"/>
<circle cx="284.8" cy="307.1" r="1.2"/>
<circle cx="284.7" cy="305.7" r="1.2"/>
<circle cx="284.3" cy="308.2" r="1.2"/>
<circle cx="282.2" cy="288.2" r="1.2"/>
<circle cx="284.5" cy="292.3" r="1.2"/>
<circle cx="276.6" cy="311.1" r="1.7"/>
<circle cx="291.2" cy="298.1" r="1.2"/>
<circle cx="285.2" cy="295.8" r="1.2"/>
<circle cx="291.4" cy="295.6" r="1.2"/>
<circle cx="273.7" cy="295.1" r="1.2"/>
<circle cx="274.6" cy="306.9" r="1.2"/>
<circle cx="273.7" cy="309.8" r="1.2"/>
<circle cx="272.3" cy="296.1" r="1.2"/>
<circle cx="287.8" cy="290.9" r="1.2"/>
<circle cx="278.9" cy="291.0" r="1.2"/>
<circle cx="284.6" cy="294.0" r="1.2"/>
<circle cx="281.7" cy="301.6" r="1.2"/>
<circle cx="281.9" cy="303.1" r="1.2"/>
<circle cx="271.4" cy="310.7" r="1.2"/>
<circle cx="282.4" cy="294.7" r="1.2"/>
<circle cx="287.1" cy="294.0" r="1.2"/>
<circle cx="278.3" cy="310.7" r="1.7"/>
<circle cx="284.6" cy="301.7" r="1.2"/>
<circle cx="272.5" cy="299.6" r="1.2"/>
<circle cx="285.1" cy="292.2" r="1.2"/>
<circle cx="287.3" cy="301.1" r="1.2"/>
<circle cx="281.2" cy="307.3" r="1.2"/>
<circle cx="268.7" cy="303.8" r="1.2"/>
<circle cx="280.2" cy="311.0" r="1.2"/>
<circle cx="280.0" cy="292.7" r="1.2"/>
<circle cx="290.8" cy="296.4" r="1.7"/>
<circle cx="286.5" cy="295.9" r="1.2"/>
<circle cx="290.7" cy="308.5" r="1.2"/>
<circle cx="284.9" cy="299.4" r="1.2"/>
<circle cx="275.0" cy="297.9" r="1.7"/>
<circle cx="285.9" cy="307.3" r="1.2"/>
<circle cx="273.1" cy="302.4" r="1.2"/>
<circle cx="299.4" cy="342.6" r="1.2"/>
<circle cx="303.5" cy="346.9" r="1.7"/>
<circle cx="304.1" cy="341.1" r="1.2"/>
<circle cx="297.2" cy="339.1" r="1.2"/>
<circle cx="296.5" cy="344.7" r="1.2"/>
<circle cx="306.4" cy="342.1" r="1.2"/>
<circle cx="308.1" cy="350.0" r="1.2"/>
<circle cx="305.4" cy="342.1" r="1.2"/>
<circle cx="300.2" cy="349.5" r="1.2"/>
<circle cx="311.6" cy="363.4" r="1.2"/>
<circle cx="294.9" cy="345.9" r="1.7"/>
<circle cx="292.6" cy="341.0" r="1.2"/>
<circle cx="294.6" cy="340.5" r="1.2"/>
<circle cx="315.2" cy="342.4" r="1.7"/>
<circle cx="304.5" cy="316.8" r="1.2"/>
<circle cx="306.9" cy="333.6" r="1.2"/>
<circle cx="295.5" cy="323.1" r="1.7"/>
<circle cx="298.0" cy="333.2" r="1.2"/>
<circle cx="298.5" cy="329.7" r="1.2"/>
<circle cx="309.0" cy="313.0" r="1.2"/>
<circle cx="312.0" cy="332.4" r="1.2"/>
<circle cx="312.1" cy="326.4" r="1.2"/>
<circle cx="298.0" cy="337.8" r="1.2"/>
<circle cx="305.2" cy="324.9" r="1.2"/>
<circle cx="294.4" cy="315.1" r="1.2"/>
<circle cx="300.5" cy="321.6" r="1.2"/>
<circle cx="310.3" cy="319.2" r="1.2"/>
<circle cx="292.8" cy="320.1" r="1.7"/>
<circle cx="302.1" cy="314.4" r="1.2"/>
<circle cx="312.5" cy="320.5" r="1.7"/>
<circle cx="306.0" cy="317.2" r="1.2"/>
<circle cx="314.0" cy="318.6" r="1.2"/>
<circle cx="313.9" cy="320.3" r="1.2"/>
<circle cx="305.9" cy="325.9" r="1.2"/>
<circle cx="292.9" cy="322.4" r="1.2"/>
<circle cx="306.9" cy="329.4" r="1.2"/>
<circle cx="307.1" cy="318.7" r="1.7"/>
<circle cx="300.4" cy="323.7" r="1.7"/>
<circle cx="314.3" cy="333.5" r="1.2"/>
<circle cx="293.6" cy="311.1" r="1.2"/>
<circle cx="294.4" cy="299.2" r="1.2"/>
<circle cx="312.0" cy="307.0" r="1.2"/>
<circle cx="292.4" cy="311.5" r="1.2"/>
<circle cx="303.4" cy="302.0" r="1.2"/>
<circle cx="311.6" cy="311.5" r="1.7"/>
<circle cx="303.8" cy="310.2" r="1.2"/>
<circle cx="307.3" cy="307.9" r="1.7"/>
<circle cx="300.4" cy="309.7" r="1.2"/>
<circle cx="293.3" cy="310.5" r="1.2"/>
<circle cx="301.9" cy="296.0" r="1.2"/>
<circle cx="297.3" cy="289.4" r="1.2"/>
<circle cx="314.8" cy="298.2" r="1.2"/>
<circle cx="294.2" cy="308.6" r="1.2"/>
<circle cx="311.2" cy="305.0" r="1.2"/>
<circle cx="298.8" cy="307.3" r="1.2"/>
<circle cx="306.3" cy="309.8" r="1.2"/>
<circle cx="293.2" cy="305.8" r="1.2"/>
<circle cx="302.5" cy="294.1" r="1.2"/>
<circle cx="295.0" cy="299.3" r="1.2"/>
<circle cx="307.3" cy="293.2" r="1.2"/>
<circle cx="310.9" cy="289.3" r="1.7"/>
<circle cx="291.8" cy="302.9" r="1.7"/>
<circle cx="295.0" cy="296.5" r="1.2"/>
<circle cx="312.1" cy="294.0" r="1.2"/>
<circle cx="296.1" cy="310.7" r="1.2"/>
<circle cx="313.7" cy="307.2" r="1.2"/>
<circle cx="309.4" cy="310.9" r="1.7"/>
<circle cx="292.3" cy="312.3" r="1.2"/>
<circle cx="313.7" cy="285.3" r="1.2"/>
<circle cx="313.3" cy="264.8" r="1.7"/>
<circle cx="309.8" cy="275.8" r="1.7"/>
<circle cx="299.5" cy="276.1" r="1.2"/>
<circle cx="314.5" cy="287.5" r="1.2"/>
<circle cx="306.1" cy="263.5" r="1.2"/>
<circle cx="305.4" cy="285.8" r="1.2"/>
<circle cx="314.2" cy="285.8" r="1.2"/>
<circle cx="292.5" cy="286.0" r="1.7"/>
<circle cx="298.3" cy="285.7" r="1.2"/>
<circle cx="309.0" cy="271.7" r="1.2"/>
<circle cx="312.2" cy="286.0" r="1.2"/>
<circle cx="301.9" cy="285.9" r="1.2"/>
<circle cx="311.5" cy="273.3" r="1.2"/>
<circle cx="312.2" cy="284.5" r="1.2"/>
<circle cx="309.3" cy="267.2" r="1.2"/>
<circle cx="299.3" cy="284.0" r="1.2"/>
<circle cx="321.6" cy="347.6" r="1.2"/>
<circle cx="325.3" cy="343.0" r="1.2"/>
<circle cx="324.6" cy="313.6" r="1.2"/>
<circle cx="317.9" cy="325.1" r="1.7"/>
<circle cx="324.4" cy="326.1" r="1.2"/>
<circle cx="328.5" cy="316.5" r="1.7"/>
<circle cx="324.1" cy="337.3" r="1.7"/>
<circle cx="337.2" cy="320.5" r="1.2"/>
<circle cx="326.9" cy="322.3" r="1.2"/>
<circle cx="317.8" cy="313.6" r="1.2"/>
<circle cx="336.6" cy="333.7" r="1.2"/>
<circle cx="316.0" cy="336.9" r="1.7"/>
<circle cx="316.5" cy="319.1" r="1.2"/>
<circle cx="321.6" cy="317.1" r="1.2"/>
<circle cx="336.3" cy="317.0" r="1.2"/>
<circle cx="319.4" cy="321.0" r="1.2"/>
<circle cx="331.6" cy="318.3" r="1.2"/>
<circle cx="316.1" cy="321.9" r="1.2"/>
<circle cx="316.7" cy="323.8" r="1.2"/>
<circle cx="321.9" cy="331.8" r="1.2"/>
<circle cx="336.1" cy="315.9" r="1.2"/>
<circle cx="317.7" cy="321.0" r="1.2"/>
<circle cx="315.3" cy="321.2" r="1.7"/>
<circle cx="323.6" cy="324.2" r="1.2"/>
<circle cx="326.0" cy="325.7" r="1.2"/>
<circle cx="337.9" cy="321.1" r="1.7"/>
<circle cx="338.0" cy="318.6" r="1.2"/>
<circle cx="320.4" cy="335.0" r="1.2"/>
<circle cx="317.4" cy="326.2" r="1.2"/>
<circle cx="333.5" cy="313.0" r="1.2"/>
<circle cx="337.7" cy="314.8" r="1.2"/>
<circle cx="319.3" cy="333.0" r="1.2"/>
<circle cx="323.6" cy="318.7" r="1.2"/>
<circle cx="327.9" cy="313.1" r="1.2"/>
<circle cx="328.1" cy="319.5" r="1.2"/>
<circle cx="329.9" cy="296.2" r="1.2"/>
<circle cx="319.8" cy="287.9" r="1.2"/>
<circle cx="317.8" cy="288.2" r="1.2"/>
<circle cx="334.0" cy="305.9" r="1.2"/>
<circle cx="315.3" cy="305.2" r="1.7"/>
<circle cx="334.9" cy="308.6" r="1.2"/>
<circle cx="329.4" cy="290.5" r="1.2"/>
<circle cx="319.6" cy="310.3" r="1.2"/>
<circle cx="315.9" cy="295.4" r="1.2"/>
<circle cx="330.0" cy="311.7" r="1.7"/>
<circle cx="326.3" cy="311.1" r="1.2"/>
<circle cx="318.7" cy="304.4" r="1.2"/>
<circle cx="316.6" cy="306.7" r="1.2"/>
<circle cx="338.3" cy="298.9" r="1.2"/>
<circle cx="315.9" cy="301.5" r="1.2"/>
<circle cx="335.6" cy="298.0" r="1.2"/>
<circle cx="317.6" cy="298.5" r="1.2"/>
<circle cx="338.2" cy="288.9" r="1.7"/>
<circle cx="315.8" cy="297.4" r="1.2"/>
<circle cx="324.5" cy="309.4" r="1.2"/>
<circle cx="337.5" cy="310.6" r="1.7"/>
<circle cx="319.1" cy="306.4" r="1.2"/>
<circle cx="330.3" cy="296.2" r="1.2"/>
<circle cx="336.6" cy="289.0" r="1.2"/>
<circle cx="316.8" cy="298.7" r="1.2"/>
<circle cx="337.4" cy="301.8" r="1.7"/>
<circle cx="331.5" cy="308.0" r="1.2"/>
<circle cx="317.1" cy="307.0" r="1.2"/>
<circle cx="328.9" cy="310.9" r="1.7"/>
<circle cx="330.4" cy="304.2" r="1.2"/>
<circle cx="328.7" cy="303.7" r="1.2"/>
<circle cx="325.2" cy="287.7" r="1.7"/>
<circle cx="332.1" cy="304.6" r="1.2"/>
<circle cx="333.1" cy="308.5" r="1.2"/>
<circle cx="338.5" cy="302.6" r="1.2"/>
<circle cx="323.4" cy="293.5" r="1.2"/>
<circle cx="331.2" cy="308.0" r="1.2"/>
<circle cx="323.5" cy="290.3" r="1.2"/>
<circle cx="328.0" cy="302.0" r="1.2"/>
<circle cx="338.2" cy="298.1" r="1.2"/>
<circle cx="334.9" cy="292.6" r="1.2"/>
<circle cx="328.2" cy="288.7" r="1.2"/>
<circle cx="327.3" cy="294.4" r="1.2"/>
<circle cx="317.3" cy="290.0" r="1.2"/>
<circle cx="324.2" cy="279.7" r="1.2"/>
<circle cx="321.6" cy="275.1" r="1.2"/>
<circle cx="338.6" cy="282.9" r="1.2"/>
<circle cx="318.8" cy="267.7" r="1.2"/>
<circle cx="322.4" cy="276.4" r="1.7"/>
<circle cx="330.7" cy="269.9" r="1.7"/>
<circle cx="334.6" cy="272.1" r="1.2"/>
<circle cx="329.7" cy="274.4" r="1.2"/>
<circle cx="335.5" cy="282.9" r="1.2"/>
<circle cx="327.8" cy="287.3" r="1.2"/>
<circle cx="335.0" cy="287.1" r="1.2"/>
<circle cx="332.1" cy="278.4" r="1.2"/>
<circle cx="320.3" cy="275.6" r="1.2"/>
<circle cx="316.7" cy="272.2" r="1.2"/>
<circle cx="335.3" cy="263.8" r="1.2"/>
<circle cx="327.1" cy="278.5" r="1.2"/>
<circle cx="338.0" cy="274.4" r="1.2"/>
<circle cx="329.1" cy="277.6" r="1.2"/>
<circle cx="334.1" cy="280.0" r="1.7"/>
<circle cx="324.4" cy="270.9" r="1.2"/>
<circle cx="336.4" cy="283.4" r="1.2"/>
<circle cx="329.2" cy="269.6" r="1.2"/>
<circle cx="329.1" cy="287.5" r="1.7"/>
<circle cx="329.6" cy="270.4" r="1.7"/>
<circle cx="315.3" cy="279.2" r="1.2"/>
<circle cx="326.1" cy="287.1" r="1.7"/>
<circle cx="321.8" cy="265.3" r="1.2"/>
<circle cx="336.0" cy="274.2" r="1.7"/>
<circle cx="340.6" cy="321.7" r="1.2"/>
<circle cx="358.8" cy="313.4" r="1.2"/>
<circle cx="359.0" cy="324.9" r="1.2"/>
<circle cx="345.1" cy="332.1" r="1.2"/>
<circle cx="342.6" cy="323.4" r="1.2"/>
<circle cx="360.1" cy="335.7" r="1.2"/>
<circle cx="360.0" cy="330.9" r="1.2"/>
<circle cx="342.8" cy="328.2" r="1.2"/>
<circle cx="357.5" cy="327.1" r="1.2"/>
<circle cx="343.6" cy="319.7" r="1.7"/>
<circle cx="342.6" cy="316.0" r="1.2"/>
<circle cx="359.6" cy="319.9" r="1.7"/>
<circle cx="356.0" cy="313.9" r="1.7"/>
<circle cx="357.5" cy="314.8" r="1.2"/>
<circle cx="347.8" cy="315.9" r="1.7"/>
<circle cx="347.3" cy="324.5" r="1.2"/>
<circle cx="357.3" cy="316.9" r="1.7"/>
<circle cx="356.0" cy="326.8" r="1.2"/>
<circle cx="347.9" cy="328.6" r="1.2"/>
<circle cx="339.9" cy="313.1" r="1.2"/>
<circle cx="340.2" cy="297.5" r="1.2"/>
<circle cx="355.1" cy="300.1" r="1.2"/>
<circle cx="354.8" cy="307.2" r="1.2"/>
<circle cx="342.0" cy="295.8" r="1.7"/>
<circle cx="342.0" cy="296.3" r="1.2"/>
<circle cx="347.1" cy="299.7" r="1.2"/>
<circle cx="353.9" cy="305.5" r="1.7"/>
<circle cx="347.8" cy="288.3" r="1.7"/>
<circle cx="339.6" cy="292.0" r="1.7"/>
<circle cx="351.5" cy="307.3" r="1.2"/>
<circle cx="350.3" cy="311.0" r="1.2"/>
<circle cx="342.7" cy="290.5" r="1.2"/>
<circle cx="345.0" cy="296.8" r="1.2"/>
<circle cx="343.3" cy="294.1" r="1.2"/>
<circle cx="351.5" cy="300.7" r="1.2"/>
<circle cx="349.7" cy="300.0" r="1.2"/>
<circle cx="340.8" cy="293.7" r="1.7"/>
<circle cx="358.4" cy="294.5" r="1.7"/>
<circle cx="355.0" cy="308.5" r="1.2"/>
<circle cx="352.4" cy="299.8" r="1.2"/>
<circle cx="360.5" cy="301.7" r="1.2"/>
<circle cx="343.6" cy="294.7" r="1.2"/>
<circle cx="353.8" cy="281.9" r="1.7"/>
<circle cx="343.1" cy="274.5" r="1.2"/>
<circle cx="345.7" cy="262.4" r="1.2"/>
<circle cx="348.3" cy="275.1" r="1.2"/>
<circle cx="356.7" cy="285.4" r="1.7"/>
<circle cx="343.1" cy="264.7" r="1.2"/>
<circle cx="352.2" cy="282.6" r="1.7"/>
<circle cx="340.8" cy="266.1" r="1.2"/>
<circle cx="356.5" cy="263.2" r="1.2"/>
<circle cx="341.2" cy="285.0" r="1.2"/>
<circle cx="355.9" cy="273.9" r="1.2"/>
<circle cx="349.9" cy="270.5" r="1.7"/>
<circle cx="343.4" cy="278.9" r="1.2"/>
<circle cx="342.2" cy="272.1" r="1.7"/>
<circle cx="358.2" cy="278.7" r="1.2"/>
<circle cx="348.1" cy="279.2" r="1.2"/>
<circle cx="359.0" cy="267.9" r="1.2"/>
<circle cx="350.7" cy="264.6" r="1.2"/>
<circle cx="359.7" cy="272.1" r="1.2"/>
<circle cx="359.9" cy="264.8" r="1.7"/>
<circle cx="359.4" cy="272.1" r="1.7"/>
<circle cx="352.8" cy="258.1" r="1.2"/>
<circle cx="360.4" cy="253.4" r="1.2"/>
<circle cx="345.3" cy="240.0" r="1.2"/>
<circle cx="342.7" cy="260.3" r="1.2"/>
<circle cx="343.9" cy="252.0" r="1.2"/>
<circle cx="354.5" cy="255.8" r="1.2"/>
<circle cx="358.5" cy="249.0" r="1.7"/>
<circle cx="365.5" cy="297.0" r="1.7"/>
<circle cx="369.4" cy="290.8" r="1.2"/>
<circle cx="362.5" cy="289.7" r="1.2"/>
<circle cx="367.0" cy="305.0" r="1.2"/>
<circle cx="375.4" cy="305.7" r="1.7"/>
<circle cx="364.2" cy="288.8" r="1.2"/>
<circle cx="371.4" cy="294.6" r="1.2"/>
<circle cx="383.2" cy="298.4" r="1.7"/>
<circle cx="364.8" cy="309.1" r="1.2"/>
<circle cx="371.2" cy="294.5" r="1.2"/>
<circle cx="373.2" cy="302.3" r="1.7"/>
<circle cx="380.1" cy="295.4" r="1.2"/>
<circle cx="368.9" cy="299.0" r="1.2"/>
<circle cx="372.6" cy="300.1" r="1.2"/>
<circle cx="380.0" cy="290.9" r="1.2"/>
<circle cx="367.7" cy="305.5" r="1.2"/>
<circle cx="372.3" cy="262.5" r="1.2"/>
<circle cx="376.6" cy="267.5" r="1.2"/>
<circle cx="369.3" cy="284.7" r="1.7"/>
<circle cx="363.3" cy="272.6" r="1.2"/>
<circle cx="375.4" cy="267.3" r="1.2"/>
<circle cx="371.3" cy="273.0" r="1.2"/>
<circle cx="379.7" cy="276.4" r="1.2"/>
<circle cx="369.6" cy="268.3" r="1.2"/>
<circle cx="377.2" cy="269.5" r="1.2"/>
<circle cx="377.0" cy="269.2" r="1.2"/>
<circle cx="384.6" cy="273.6" r="1.2"/>
<circle cx="366.0" cy="284.9" r="1.2"/>
<circle cx="371.6" cy="277.0" r="1.7"/>
<circle cx="379.3" cy="283.4" r="1.2"/>
<circle cx="385.2" cy="279.6" r="1.2"/>
<circle cx="371.5" cy="270.9" r="1.2"/>
<circle cx="363.6" cy="269.0" r="1.2"/>
<circle cx="363.0" cy="286.6" r="1.2"/>
<circle cx="365.7" cy="268.8" r="1.2"/>
<circle cx="364.5" cy="280.3" r="1.2"/>
<circle cx="382.2" cy="258.3" r="1.2"/>
<circle cx="375.1" cy="261.2" r="1.2"/>
<circle cx="402.8" cy="334.3" r="1.2"/>
<circle cx="389.9" cy="321.5" r="1.2"/>
<circle cx="396.6" cy="319.3" r="1.2"/>
<circle cx="391.0" cy="295.6" r="1.2"/>
<circle cx="396.4" cy="291.3" r="1.2"/>
<circle cx="399.4" cy="289.9" r="1.2"/>
<circle cx="404.8" cy="293.6" r="1.2"/>
<circle cx="395.0" cy="310.8" r="1.2"/>
<circle cx="400.8" cy="264.6" r="1.2"/>
<circle cx="389.7" cy="282.6" r="1.2"/>
<circle cx="403.9" cy="272.3" r="1.2"/>
<circle cx="403.8" cy="280.1" r="1.2"/>
<circle cx="407.1" cy="274.8" r="1.2"/>
<circle cx="390.4" cy="265.0" r="1.2"/>
<circle cx="397.3" cy="278.4" r="1.2"/>
<circle cx="403.4" cy="277.6" r="1.7"/>
<circle cx="408.8" cy="275.7" r="1.2"/>
<circle cx="403.2" cy="287.6" r="1.2"/>
<circle cx="408.5" cy="272.3" r="1.2"/>
<circle cx="390.6" cy="267.0" r="1.2"/>
<circle cx="390.3" cy="269.7" r="1.2"/>
<circle cx="397.8" cy="271.9" r="1.2"/>
<circle cx="388.1" cy="280.7" r="1.7"/>
<circle cx="403.2" cy="262.4" r="1.2"/>
<circle cx="390.3" cy="267.1" r="1.2"/>
<circle cx="402.4" cy="287.0" r="1.2"/>
<circle cx="385.9" cy="243.2" r="1.2"/>
<circle cx="406.3" cy="253.7" r="1.2"/>
<circle cx="202.8" cy="264.2" r="1.5"/>
<circle cx="293.2" cy="229.3" r="1.2"/>
<circle cx="309.2" cy="234.1" r="1.5"/>
<circle cx="313.3" cy="236.5" r="1.7"/>
<circle cx="255.5" cy="272.5" r="2.7"/>
<circle cx="255.0" cy="283.7" r="2.4"/>
<circle cx="266.0" cy="282.5" r="4.2"/>
<circle cx="281.1" cy="251.6" r="1.2"/>
<circle cx="270.9" cy="263.5" r="1.5"/>
<circle cx="279.6" cy="276.0" r="2.2"/>
<circle cx="292.8" cy="276.2" r="9.1"/>
<circle cx="290.9" cy="277.2" r="1.7"/>
<circle cx="297.8" cy="273.5" r="2.7"/>
<circle cx="316.2" cy="246.8" r="3.9"/>
<circle cx="314.9" cy="237.7" r="2.2"/>
<circle cx="317.8" cy="239.3" r="2.2"/>
<circle cx="321.1" cy="237.2" r="1.8"/>
<circle cx="322.8" cy="238.5" r="1.4"/>
<circle cx="308.3" cy="246.0" r="1.2"/>
<circle cx="323.6" cy="245.6" r="1.4"/>
<circle cx="325.7" cy="245.1" r="1.2"/>
<circle cx="335.3" cy="250.1" r="1.2"/>
<circle cx="315.7" cy="253.9" r="1.4"/>
<circle cx="322.0" cy="252.6" r="1.2"/>
<circle cx="316.2" cy="257.2" r="1.2"/>
<circle cx="293.2" cy="261.9" r="1.2"/>
<circle cx="324.5" cy="260.5" r="5.9"/>
<circle cx="333.6" cy="260.1" r="1.4"/>
<circle cx="356.3" cy="187.6" r="1.9"/>
<circle cx="332.7" cy="198.2" r="2.4"/>
<circle cx="338.1" cy="194.9" r="1.7"/>
<circle cx="386.4" cy="195.9" r="1.7"/>
<circle cx="393.0" cy="195.4" r="1.4"/>
<circle cx="347.9" cy="206.8" r="1.5"/>
<circle cx="325.7" cy="213.0" r="1.7"/>
<circle cx="338.1" cy="217.9" r="1.7"/>
<circle cx="349.5" cy="215.7" r="1.5"/>
<circle cx="356.0" cy="216.1" r="1.7"/>
<circle cx="343.3" cy="222.3" r="1.2"/>
<circle cx="341.3" cy="227.0" r="2.4"/>
<circle cx="325.1" cy="228.3" r="1.9"/>
<circle cx="351.4" cy="231.2" r="1.2"/>
<circle cx="369.3" cy="231.5" r="1.5"/>
<circle cx="389.7" cy="210.0" r="1.5"/>
<circle cx="395.9" cy="213.0" r="2.4"/>
<circle cx="384.8" cy="214.1" r="1.4"/>
<circle cx="384.8" cy="217.4" r="1.4"/>
<circle cx="379.1" cy="219.0" r="1.2"/>
<circle cx="379.1" cy="222.3" r="1.2"/>
<circle cx="391.6" cy="228.8" r="1.2"/>
<circle cx="385.6" cy="234.8" r="1.5"/>
<circle cx="387.3" cy="232.8" r="1.5"/>
<circle cx="368.5" cy="235.8" r="1.5"/>
<circle cx="366.9" cy="236.4" r="1.5"/>
<circle cx="347.9" cy="235.8" r="1.5"/>
<circle cx="438.5" cy="201.3" r="1.5"/>
<circle cx="420.6" cy="208.6" r="1.2"/>
<circle cx="424.9" cy="212.2" r="2.5"/>
<circle cx="433.4" cy="211.5" r="1.2"/>
<circle cx="409.4" cy="214.7" r="1.2"/>
<circle cx="417.2" cy="219.3" r="1.7"/>
<circle cx="433.4" cy="222.0" r="1.5"/>
<circle cx="448.3" cy="231.0" r="1.2"/>
<circle cx="417.2" cy="232.9" r="1.9"/>
<circle cx="418.9" cy="234.1" r="1.7"/>
<circle cx="426.4" cy="231.7" r="1.2"/>
<circle cx="425.7" cy="233.9" r="1.2"/>
<circle cx="437.8" cy="236.3" r="1.7"/>
<circle cx="411.8" cy="245.5" r="1.2"/>
<circle cx="422.5" cy="251.6" r="1.5"/>
<circle cx="411.8" cy="264.3" r="1.2"/>
<circle cx="300.8" cy="89.0" r="2.5"/>
<circle cx="343.2" cy="89.0" r="1.7"/>
<circle cx="408.0" cy="42.7" r="1.2"/>
<circle cx="343.4" cy="141.6" r="1.7"/>
<circle cx="380.8" cy="146.6" r="1.4"/>
<circle cx="414.8" cy="142.1" r="2.2"/>
<circle cx="333.4" cy="157.4" r="1.5"/>
<circle cx="325.1" cy="163.6" r="2.4"/>
<circle cx="352.9" cy="165.4" r="1.7"/>
<circle cx="371.6" cy="172.0" r="3.2"/>
<circle cx="382.6" cy="169.5" r="2.7"/>
<circle cx="388.8" cy="166.9" r="1.7"/>
<circle cx="401.7" cy="164.9" r="1.7"/>
<circle cx="363.3" cy="179.5" r="1.7"/>
<circle cx="369.2" cy="178.2" r="1.4"/>
<circle cx="355.0" cy="185.3" r="1.7"/>
<circle cx="418.5" cy="160.8" r="1.2"/>
<circle cx="446.8" cy="160.8" r="1.3"/>
<circle cx="472.0" cy="177.2" r="1.3"/>
<circle cx="361.2" cy="247.9" r="3.2"/>
<circle cx="373.5" cy="245.4" r="2.5"/>
<circle cx="368.1" cy="236.6" r="2.2"/>
<circle cx="383.1" cy="242.9" r="2.2"/>
</g>
<clipPath id="c"><rect x="57.2" y="42.0" width="456.50000000000006" height="349.5"/></clipPath>
<line x1="60.0" y1="396.95" x2="513.7" y2="229.34" stroke="#1f78b4" stroke-width="1.7" clip-path="url(#c)"/>
<path d="M57.2 391.5H513.7" stroke="#cfcfcf" stroke-width="1.8" fill="none"/>
<path d="M57.2 42.0V392.4" stroke="#bdbdbd" stroke-width="1.8" fill="none"/>
<path d="M57.4 391.5v4.3M69.1 391.5v4.3M80.8 391.5v4.3M92.6 391.5v4.3M104.3 391.5v4.3M116.0 391.5v4.3M127.7 391.5v4.3M139.4 391.5v4.3M151.2 391.5v4.3M162.9 391.5v4.3M174.6 391.5v4.3M186.3 391.5v4.3M198.0 391.5v4.3M209.8 391.5v4.3M221.5 391.5v4.3M233.2 391.5v4.3M244.9 391.5v4.3M256.6 391.5v4.3M268.4 391.5v4.3M280.1 391.5v4.3M291.8 391.5v4.3M303.5 391.5v4.3M315.2 391.5v4.3M327.0 391.5v4.3M338.7 391.5v4.3M350.4 391.5v4.3M362.1 391.5v4.3M373.8 391.5v4.3M385.6 391.5v4.3M397.3 391.5v4.3M409.0 391.5v4.3M420.7 391.5v4.3M432.4 391.5v4.3M444.2 391.5v4.3M455.9 391.5v4.3M467.6 391.5v4.3M479.3 391.5v4.3M491.0 391.5v4.3M502.8 391.5v4.3M57.2 388.8h-4.6M57.2 338.2h-4.6M57.2 287.6h-4.6M57.2 237.1h-4.6M57.2 186.5h-4.6M57.2 135.9h-4.6M57.2 85.3h-4.6" stroke="#b4b4b4" stroke-width="1" fill="none"/>
<g font-family="Liberation Sans, Arial, sans-serif" fill="#555" font-size="7.5">
<text transform="translate(49.9 391.8) scale(1 1.17)" text-anchor="end">10,000</text>
<text transform="translate(49.9 341.2) scale(1 1.17)" text-anchor="end">20,000</text>
<text transform="translate(49.9 290.6) scale(1 1.17)" text-anchor="end">30,000</text>
<text transform="translate(49.9 240.1) scale(1 1.17)" text-anchor="end">40,000</text>
<text transform="translate(49.9 189.5) scale(1 1.17)" text-anchor="end">50,000</text>
<text transform="translate(49.9 138.9) scale(1 1.17)" text-anchor="end">60,000</text>
<text transform="translate(49.9 88.3) scale(1 1.17)" text-anchor="end">70,000</text>
</g>
<g font-family="Liberation Sans, Arial, sans-serif" fill="#555" font-size="8">
<text text-anchor="end" transform="translate(63.4 401.6) rotate(-45) scale(0.95 1.1)">0.16</text>
<text text-anchor="end" transform="translate(75.1 401.6) rotate(-45) scale(0.95 1.1)">0.18</text>
<text text-anchor="end" transform="translate(86.8 401.6) rotate(-45) scale(0.95 1.1)">0.2</text>
<text text-anchor="end" transform="translate(98.6 401.6) rotate(-45) scale(0.95 1.1)">0.22</text>
<text text-anchor="end" transform="translate(110.3 401.6) rotate(-45) scale(0.95 1.1)">0.24</text>
<text text-anchor="end" transform="translate(122.0 401.6) rotate(-45) scale(0.95 1.1)">0.26</text>
<text text-anchor="end" transform="translate(133.7 401.6) rotate(-45) scale(0.95 1.1)">0.28</text>
<text text-anchor="end" transform="translate(145.4 401.6) rotate(-45) scale(0.95 1.1)">0.3</text>
<text text-anchor="end" transform="translate(157.2 401.6) rotate(-45) scale(0.95 1.1)">0.32</text>
<text text-anchor="end" transform="translate(168.9 401.6) rotate(-45) scale(0.95 1.1)">0.34</text>
<text text-anchor="end" transform="translate(180.6 401.6) rotate(-45) scale(0.95 1.1)">0.36</text>
<text text-anchor="end" transform="translate(192.3 401.6) rotate(-45) scale(0.95 1.1)">0.38</text>
<text text-anchor="end" transform="translate(204.0 401.6) rotate(-45) scale(0.95 1.1)">0.4</text>
<text text-anchor="end" transform="translate(215.8 401.6) rotate(-45) scale(0.95 1.1)">0.42</text>
<text text-anchor="end" transform="translate(227.5 401.6) rotate(-45) scale(0.95 1.1)">0.44</text>
<text text-anchor="end" transform="translate(239.2 401.6) rotate(-45) scale(0.95 1.1)">0.46</text>
<text text-anchor="end" transform="translate(250.9 401.6) rotate(-45) scale(0.95 1.1)">0.48</text>
<text text-anchor="end" transform="translate(262.6 401.6) rotate(-45) scale(0.95 1.1)">0.5</text>
<text text-anchor="end" transform="translate(274.4 401.6) rotate(-45) scale(0.95 1.1)">0.52</text>
<text text-anchor="end" transform="translate(286.1 401.6) rotate(-45) scale(0.95 1.1)">0.54</text>
<text text-anchor="end" transform="translate(297.8 401.6) rotate(-45) scale(0.95 1.1)">0.56</text>
<text text-anchor="end" transform="translate(309.5 401.6) rotate(-45) scale(0.95 1.1)">0.58</text>
<text text-anchor="end" transform="translate(321.2 401.6) rotate(-45) scale(0.95 1.1)">0.6</text>
<text text-anchor="end" transform="translate(333.0 401.6) rotate(-45) scale(0.95 1.1)">0.62</text>
<text text-anchor="end" transform="translate(344.7 401.6) rotate(-45) scale(0.95 1.1)">0.64</text>
<text text-anchor="end" transform="translate(356.4 401.6) rotate(-45) scale(0.95 1.1)">0.66</text>
<text text-anchor="end" transform="translate(368.1 401.6) rotate(-45) scale(0.95 1.1)">0.68</text>
<text text-anchor="end" transform="translate(379.8 401.6) rotate(-45) scale(0.95 1.1)">0.7</text>
<text text-anchor="end" transform="translate(391.6 401.6) rotate(-45) scale(0.95 1.1)">0.72</text>
<text text-anchor="end" transform="translate(403.3 401.6) rotate(-45) scale(0.95 1.1)">0.74</text>
<text text-anchor="end" transform="translate(415.0 401.6) rotate(-45) scale(0.95 1.1)">0.76</text>
<text text-anchor="end" transform="translate(426.7 401.6) rotate(-45) scale(0.95 1.1)">0.78</text>
<text text-anchor="end" transform="translate(438.4 401.6) rotate(-45) scale(0.95 1.1)">0.8</text>
<text text-anchor="end" transform="translate(450.2 401.6) rotate(-45) scale(0.95 1.1)">0.82</text>
<text text-anchor="end" transform="translate(461.9 401.6) rotate(-45) scale(0.95 1.1)">0.84</text>
<text text-anchor="end" transform="translate(473.6 401.6) rotate(-45) scale(0.95 1.1)">0.86</text>
<text text-anchor="end" transform="translate(485.3 401.6) rotate(-45) scale(0.95 1.1)">0.88</text>
<text text-anchor="end" transform="translate(497.0 401.6) rotate(-45) scale(0.95 1.1)">0.9</text>
<text text-anchor="end" transform="translate(508.8 401.6) rotate(-45) scale(0.95 1.1)">0.92</text>
</g>
<g font-family="Liberation Sans, Arial, sans-serif" fill="#5c5c5c">
<text transform="translate(301 17.7) scale(1 1.05)" text-anchor="middle" font-size="13.6" fill="#666">Voter turnout, 2019 per capita income, and total votes</text>
<text x="284.5" y="422.6" text-anchor="middle" font-size="10.5">Voter turnout</text>
<text transform="translate(16.3 217.4) rotate(-90)" text-anchor="middle" font-size="10.7">2019 per capita income</text>
<text x="543.6" y="231.2" font-size="9.1">R² = 0.34</text>
</g>
<line x1="528.2" y1="228.4" x2="540.3" y2="228.4" stroke="#1f78b4" stroke-width="2"/>
</svg>
</div></body></html>
